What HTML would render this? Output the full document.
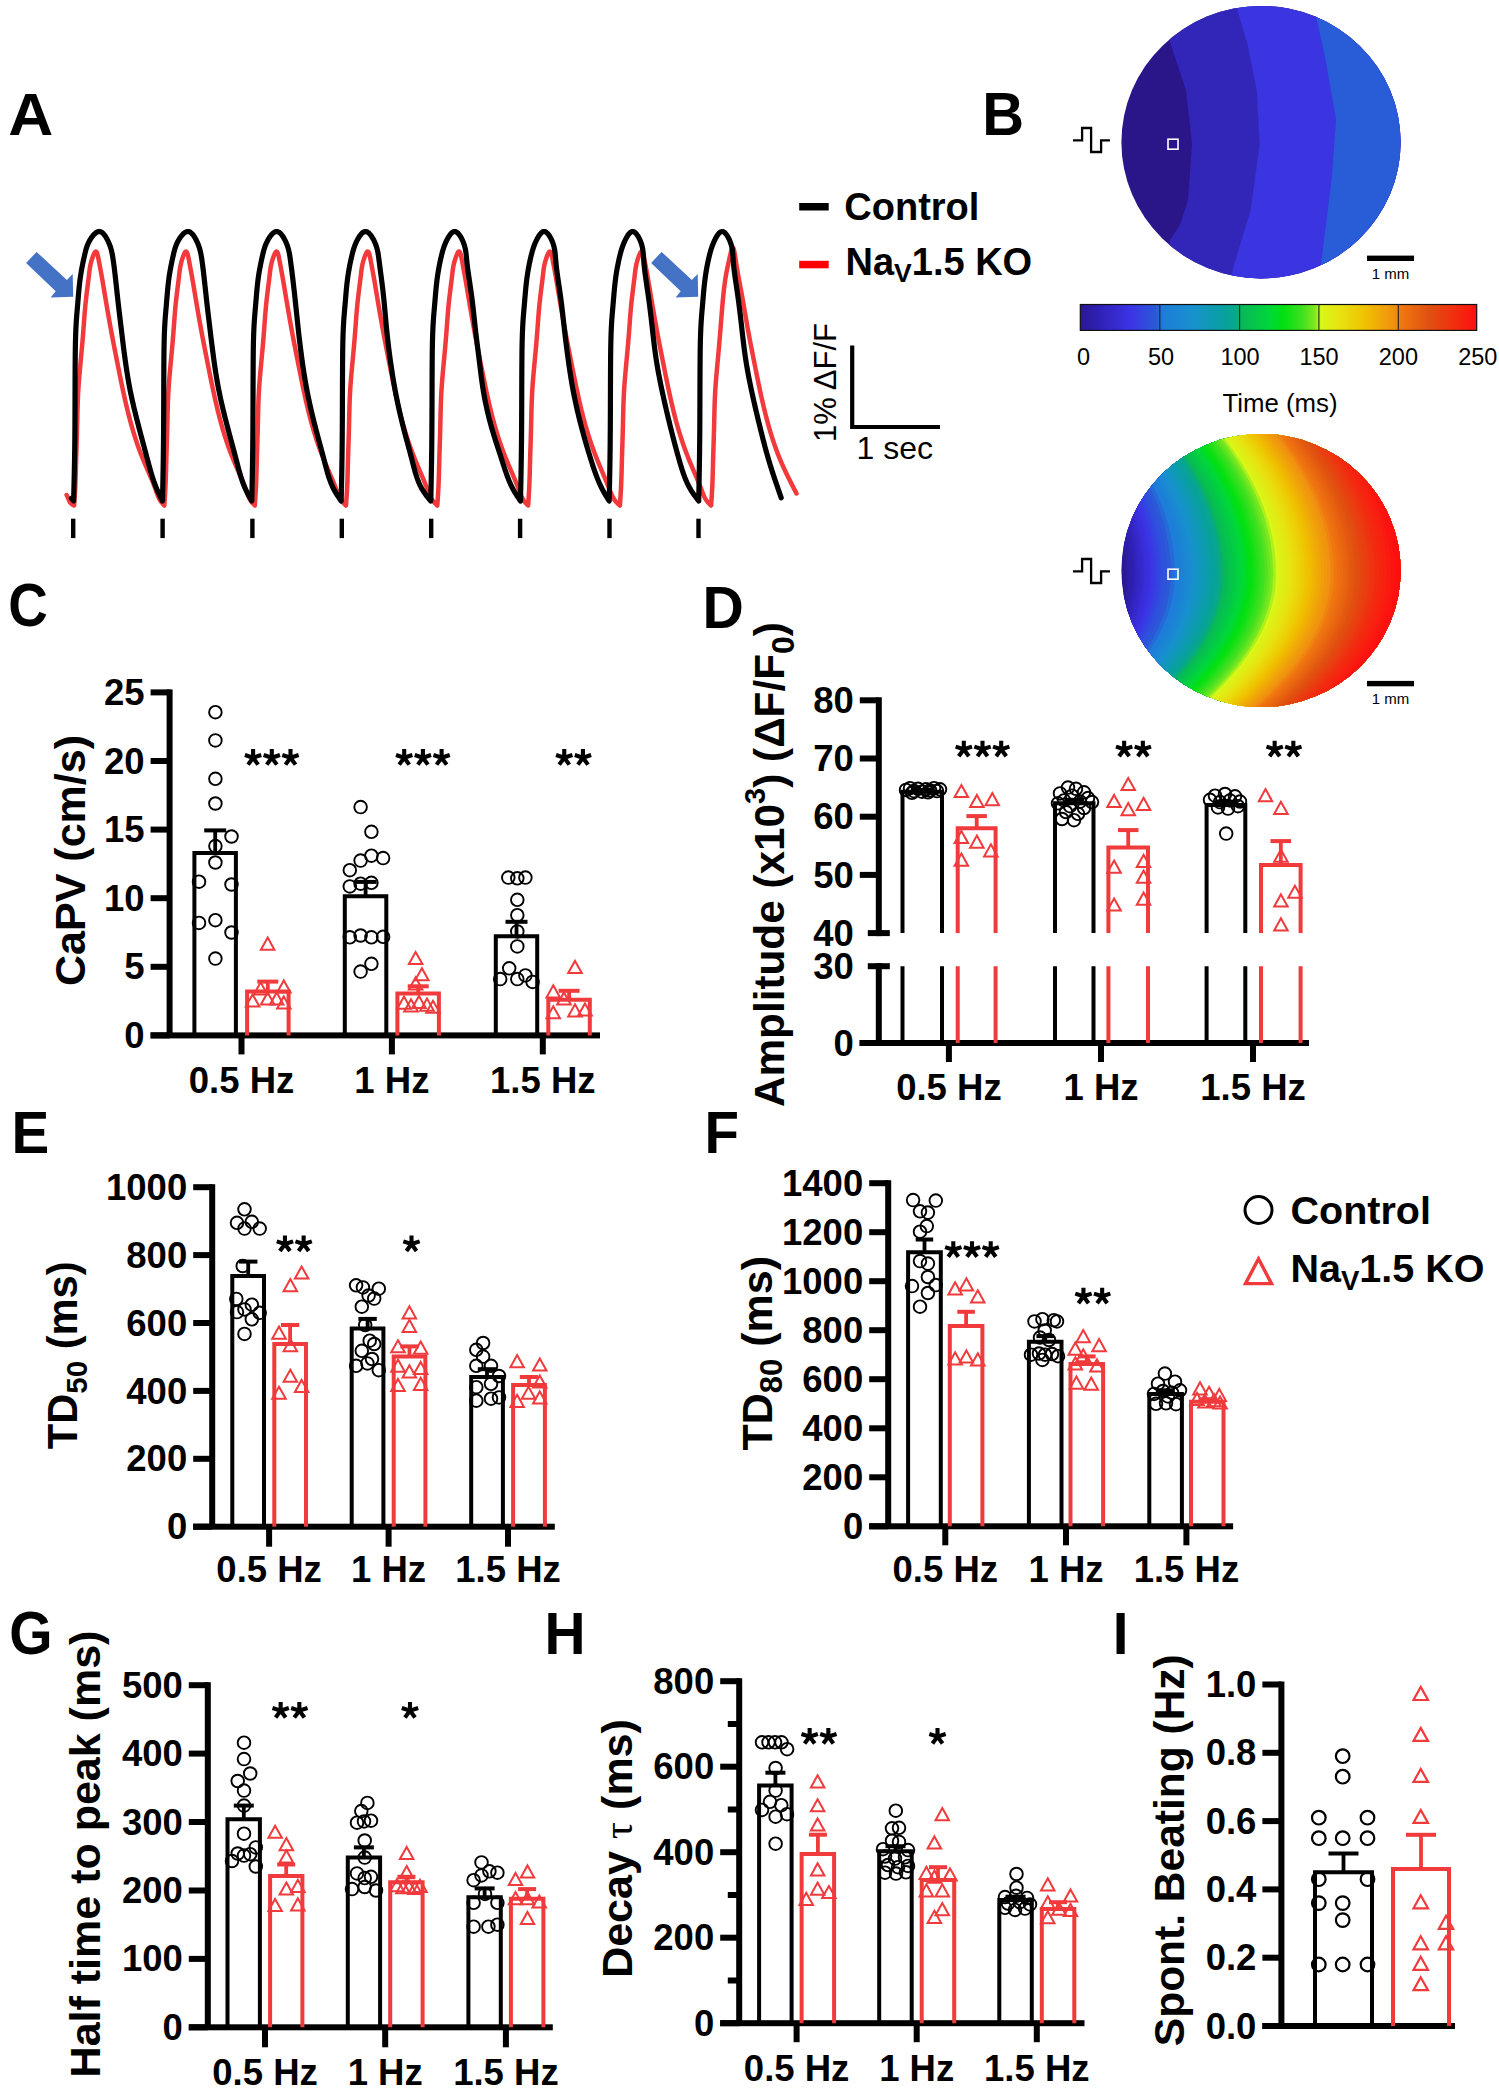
<!DOCTYPE html><html><head><meta charset="utf-8"><style>html,body{margin:0;padding:0;background:#fff;width:1499px;height:2088px;overflow:hidden}</style></head><body><svg xmlns="http://www.w3.org/2000/svg" width="1499" height="2088" viewBox="0 0 1499 2088" style="position:absolute;left:0;top:0">
<rect width="1499" height="2088" fill="#fff"/>
<g font-family='"Liberation Sans", sans-serif'>
<text x="0" y="0" font-size="59.6" font-weight="bold" transform="translate(8.31,134.70) scale(1.046,1)">A</text>
<text x="0" y="0" font-size="59.6" font-weight="bold" transform="translate(982.31,135.00) scale(0.972,1.01)">B</text>
<text x="0" y="0" font-size="59.6" font-weight="bold" transform="translate(8.16,626.30) scale(0.918,1.01)">C</text>
<text x="0" y="0" font-size="59.6" font-weight="bold" transform="translate(702.56,627.60) scale(0.96,1)">D</text>
<text x="0" y="0" font-size="59.6" font-weight="bold" transform="translate(11.60,1152.80) scale(0.95,1)">E</text>
<text x="0" y="0" font-size="59.6" font-weight="bold" transform="translate(704.41,1153.40) scale(0.947,1)">F</text>
<text x="0" y="0" font-size="59.6" font-weight="bold" transform="translate(9.13,1654.20) scale(0.934,1.03)">G</text>
<text x="0" y="0" font-size="59.6" font-weight="bold" transform="translate(544.38,1654.20) scale(0.954,1)">H</text>
<text x="0" y="0" font-size="59.6" font-weight="bold" transform="translate(1112.70,1654.00) scale(0.95,0.98)">I</text>
<rect x="166.6" y="689.4" width="6" height="346.0" fill="#000"/>
<rect x="150.6" y="1032.4" width="19" height="6" fill="#000"/>
<text x="144.6" y="1048.0" font-size="36.5" text-anchor="end" font-weight="bold" fill="#000" >0</text>
<rect x="150.6" y="963.8" width="19" height="6" fill="#000"/>
<text x="144.6" y="979.4" font-size="36.5" text-anchor="end" font-weight="bold" fill="#000" >5</text>
<rect x="150.6" y="895.2" width="19" height="6" fill="#000"/>
<text x="144.6" y="910.8" font-size="36.5" text-anchor="end" font-weight="bold" fill="#000" >10</text>
<rect x="150.6" y="826.6" width="19" height="6" fill="#000"/>
<text x="144.6" y="842.2" font-size="36.5" text-anchor="end" font-weight="bold" fill="#000" >15</text>
<rect x="150.6" y="758.0" width="19" height="6" fill="#000"/>
<text x="144.6" y="773.6" font-size="36.5" text-anchor="end" font-weight="bold" fill="#000" >20</text>
<rect x="150.6" y="689.4" width="19" height="6" fill="#000"/>
<text x="144.6" y="705.0" font-size="36.5" text-anchor="end" font-weight="bold" fill="#000" >25</text>
<rect x="150.6" y="1032.4" width="449.4" height="6" fill="#000"/>
<rect x="238.5" y="1035.4" width="6" height="19" fill="#000"/>
<text x="241.5" y="1092.5" font-size="36.5" text-anchor="middle" font-weight="bold" fill="#000" >0.5 Hz</text>
<rect x="388.9" y="1035.4" width="6" height="19" fill="#000"/>
<text x="391.9" y="1092.5" font-size="36.5" text-anchor="middle" font-weight="bold" fill="#000" >1 Hz</text>
<rect x="539.8" y="1035.4" width="6" height="19" fill="#000"/>
<text x="542.8" y="1092.5" font-size="36.5" text-anchor="middle" font-weight="bold" fill="#000" >1.5 Hz</text>
<path d="M194.4,1035.4 V852.9 H235.9 V1035.4" fill="none" stroke="#000" stroke-width="4.0" stroke-linejoin="miter"/>
<path d="M247.1,1035.4 V991.5 H288.6 V1035.4" fill="none" stroke="#f03a3c" stroke-width="4.0" stroke-linejoin="miter"/>
<path d="M344.8,1035.4 V896.3 H386.3 V1035.4" fill="none" stroke="#000" stroke-width="4.0" stroke-linejoin="miter"/>
<path d="M397.4,1035.4 V993.6 H438.9 V1035.4" fill="none" stroke="#f03a3c" stroke-width="4.0" stroke-linejoin="miter"/>
<path d="M495.8,1035.4 V936.3 H537.2 V1035.4" fill="none" stroke="#000" stroke-width="4.0" stroke-linejoin="miter"/>
<path d="M548.3,1035.4 V999.7 H589.8 V1035.4" fill="none" stroke="#f03a3c" stroke-width="4.0" stroke-linejoin="miter"/>
<circle cx="215.4" cy="712.2" r="6.3" fill="none" stroke="#000" stroke-width="1.9"/>
<circle cx="215.4" cy="740.4" r="6.3" fill="none" stroke="#000" stroke-width="1.9"/>
<circle cx="215.4" cy="778.8" r="6.3" fill="none" stroke="#000" stroke-width="1.9"/>
<circle cx="215.4" cy="803.5" r="6.3" fill="none" stroke="#000" stroke-width="1.9"/>
<circle cx="231.5" cy="836.5" r="6.3" fill="none" stroke="#000" stroke-width="1.9"/>
<circle cx="215.4" cy="846.1" r="6.3" fill="none" stroke="#000" stroke-width="1.9"/>
<circle cx="215.4" cy="862.5" r="6.3" fill="none" stroke="#000" stroke-width="1.9"/>
<circle cx="199.0" cy="881.7" r="6.3" fill="none" stroke="#000" stroke-width="1.9"/>
<circle cx="231.5" cy="884.5" r="6.3" fill="none" stroke="#000" stroke-width="1.9"/>
<circle cx="199.0" cy="922.9" r="6.3" fill="none" stroke="#000" stroke-width="1.9"/>
<circle cx="215.4" cy="920.2" r="6.3" fill="none" stroke="#000" stroke-width="1.9"/>
<circle cx="231.5" cy="932.5" r="6.3" fill="none" stroke="#000" stroke-width="1.9"/>
<circle cx="215.4" cy="958.6" r="6.3" fill="none" stroke="#000" stroke-width="1.9"/>
<polygon points="267.7,937.6 274.4,949.7 260.9,949.7" fill="none" stroke="#f03a3c" stroke-width="2.0" stroke-linejoin="miter"/>
<polygon points="260.6,982.3 267.4,994.4 253.9,994.4" fill="none" stroke="#f03a3c" stroke-width="2.0" stroke-linejoin="miter"/>
<polygon points="283.8,980.4 290.6,992.5 277.1,992.5" fill="none" stroke="#f03a3c" stroke-width="2.0" stroke-linejoin="miter"/>
<polygon points="252.6,994.4 259.4,1006.5 245.8,1006.5" fill="none" stroke="#f03a3c" stroke-width="2.0" stroke-linejoin="miter"/>
<polygon points="267.7,992.4 274.4,1004.6 260.9,1004.6" fill="none" stroke="#f03a3c" stroke-width="2.0" stroke-linejoin="miter"/>
<polygon points="276.7,992.4 283.4,1004.6 269.9,1004.6" fill="none" stroke="#f03a3c" stroke-width="2.0" stroke-linejoin="miter"/>
<polygon points="283.8,996.4 290.6,1008.6 277.1,1008.6" fill="none" stroke="#f03a3c" stroke-width="2.0" stroke-linejoin="miter"/>
<circle cx="360.6" cy="807.1" r="6.3" fill="none" stroke="#000" stroke-width="1.9"/>
<circle cx="371.4" cy="831.8" r="6.3" fill="none" stroke="#000" stroke-width="1.9"/>
<circle cx="349.8" cy="870.2" r="6.3" fill="none" stroke="#000" stroke-width="1.9"/>
<circle cx="360.6" cy="860.6" r="6.3" fill="none" stroke="#000" stroke-width="1.9"/>
<circle cx="371.4" cy="855.7" r="6.3" fill="none" stroke="#000" stroke-width="1.9"/>
<circle cx="383.1" cy="858.1" r="6.3" fill="none" stroke="#000" stroke-width="1.9"/>
<circle cx="349.8" cy="886.4" r="6.3" fill="none" stroke="#000" stroke-width="1.9"/>
<circle cx="360.6" cy="883.7" r="6.3" fill="none" stroke="#000" stroke-width="1.9"/>
<circle cx="371.4" cy="882.8" r="6.3" fill="none" stroke="#000" stroke-width="1.9"/>
<circle cx="349.8" cy="937.3" r="6.3" fill="none" stroke="#000" stroke-width="1.9"/>
<circle cx="360.6" cy="935.5" r="6.3" fill="none" stroke="#000" stroke-width="1.9"/>
<circle cx="371.4" cy="937.3" r="6.3" fill="none" stroke="#000" stroke-width="1.9"/>
<circle cx="383.1" cy="936.8" r="6.3" fill="none" stroke="#000" stroke-width="1.9"/>
<circle cx="371.4" cy="963.8" r="6.3" fill="none" stroke="#000" stroke-width="1.9"/>
<circle cx="360.6" cy="971.6" r="6.3" fill="none" stroke="#000" stroke-width="1.9"/>
<polygon points="415.6,952.0 422.4,964.1 408.9,964.1" fill="none" stroke="#f03a3c" stroke-width="2.0" stroke-linejoin="miter"/>
<polygon points="421.9,968.2 428.6,980.3 415.1,980.3" fill="none" stroke="#f03a3c" stroke-width="2.0" stroke-linejoin="miter"/>
<polygon points="415.6,977.3 422.4,989.5 408.9,989.5" fill="none" stroke="#f03a3c" stroke-width="2.0" stroke-linejoin="miter"/>
<polygon points="404.0,996.6 410.8,1008.7 397.2,1008.7" fill="none" stroke="#f03a3c" stroke-width="2.0" stroke-linejoin="miter"/>
<polygon points="411.0,999.3 417.8,1011.4 404.2,1011.4" fill="none" stroke="#f03a3c" stroke-width="2.0" stroke-linejoin="miter"/>
<polygon points="419.0,995.9 425.8,1008.0 412.2,1008.0" fill="none" stroke="#f03a3c" stroke-width="2.0" stroke-linejoin="miter"/>
<polygon points="427.0,998.6 433.8,1010.8 420.2,1010.8" fill="none" stroke="#f03a3c" stroke-width="2.0" stroke-linejoin="miter"/>
<polygon points="433.0,1000.7 439.8,1012.8 426.2,1012.8" fill="none" stroke="#f03a3c" stroke-width="2.0" stroke-linejoin="miter"/>
<circle cx="508.3" cy="877.6" r="6.3" fill="none" stroke="#000" stroke-width="1.9"/>
<circle cx="517.3" cy="878.3" r="6.3" fill="none" stroke="#000" stroke-width="1.9"/>
<circle cx="525.4" cy="877.6" r="6.3" fill="none" stroke="#000" stroke-width="1.9"/>
<circle cx="517.3" cy="899.8" r="6.3" fill="none" stroke="#000" stroke-width="1.9"/>
<circle cx="517.3" cy="915.2" r="6.3" fill="none" stroke="#000" stroke-width="1.9"/>
<circle cx="517.3" cy="931.4" r="6.3" fill="none" stroke="#000" stroke-width="1.9"/>
<circle cx="517.3" cy="946.4" r="6.3" fill="none" stroke="#000" stroke-width="1.9"/>
<circle cx="509.2" cy="968.3" r="6.3" fill="none" stroke="#000" stroke-width="1.9"/>
<circle cx="500.2" cy="979.1" r="6.3" fill="none" stroke="#000" stroke-width="1.9"/>
<circle cx="517.3" cy="979.1" r="6.3" fill="none" stroke="#000" stroke-width="1.9"/>
<circle cx="525.4" cy="975.4" r="6.3" fill="none" stroke="#000" stroke-width="1.9"/>
<circle cx="532.6" cy="981.9" r="6.3" fill="none" stroke="#000" stroke-width="1.9"/>
<polygon points="575.0,960.9 581.8,973.0 568.2,973.0" fill="none" stroke="#f03a3c" stroke-width="2.0" stroke-linejoin="miter"/>
<polygon points="553.3,985.3 560.0,997.5 546.5,997.5" fill="none" stroke="#f03a3c" stroke-width="2.0" stroke-linejoin="miter"/>
<polygon points="564.0,992.4 570.8,1004.6 557.2,1004.6" fill="none" stroke="#f03a3c" stroke-width="2.0" stroke-linejoin="miter"/>
<polygon points="575.0,1004.2 581.8,1016.4 568.2,1016.4" fill="none" stroke="#f03a3c" stroke-width="2.0" stroke-linejoin="miter"/>
<polygon points="553.3,1006.2 560.0,1018.3 546.5,1018.3" fill="none" stroke="#f03a3c" stroke-width="2.0" stroke-linejoin="miter"/>
<polygon points="585.0,1003.4 591.8,1015.6 578.2,1015.6" fill="none" stroke="#f03a3c" stroke-width="2.0" stroke-linejoin="miter"/>
<line x1="215.2" y1="852.9" x2="215.2" y2="830.4" stroke="#000" stroke-width="3.8" stroke-linecap="butt"/>
<line x1="204.2" y1="830.4" x2="226.2" y2="830.4" stroke="#000" stroke-width="4.0" stroke-linecap="butt"/>
<line x1="267.8" y1="991.5" x2="267.8" y2="981.6" stroke="#f03a3c" stroke-width="3.8" stroke-linecap="butt"/>
<line x1="257.3" y1="981.6" x2="278.3" y2="981.6" stroke="#f03a3c" stroke-width="4.0" stroke-linecap="butt"/>
<line x1="365.6" y1="896.3" x2="365.6" y2="881.9" stroke="#000" stroke-width="3.8" stroke-linecap="butt"/>
<line x1="354.6" y1="881.9" x2="376.6" y2="881.9" stroke="#000" stroke-width="4.0" stroke-linecap="butt"/>
<line x1="418.2" y1="993.6" x2="418.2" y2="986.3" stroke="#f03a3c" stroke-width="3.8" stroke-linecap="butt"/>
<line x1="407.7" y1="986.3" x2="428.7" y2="986.3" stroke="#f03a3c" stroke-width="4.0" stroke-linecap="butt"/>
<line x1="516.5" y1="936.3" x2="516.5" y2="921.8" stroke="#000" stroke-width="3.8" stroke-linecap="butt"/>
<line x1="505.5" y1="921.8" x2="527.5" y2="921.8" stroke="#000" stroke-width="4.0" stroke-linecap="butt"/>
<line x1="569.1" y1="999.7" x2="569.1" y2="990.8" stroke="#f03a3c" stroke-width="3.8" stroke-linecap="butt"/>
<line x1="558.6" y1="990.8" x2="579.6" y2="990.8" stroke="#f03a3c" stroke-width="4.0" stroke-linecap="butt"/>
<path d="M253.10,757.70 L253.10,749.10 M253.10,757.70 L261.28,755.04 M253.10,757.70 L258.15,764.66 M253.10,757.70 L248.05,764.66 M253.10,757.70 L244.92,755.04 " stroke="#000" stroke-width="4.1" stroke-linecap="butt" fill="none"/>
<path d="M271.80,757.70 L271.80,749.10 M271.80,757.70 L279.98,755.04 M271.80,757.70 L276.85,764.66 M271.80,757.70 L266.75,764.66 M271.80,757.70 L263.62,755.04 " stroke="#000" stroke-width="4.1" stroke-linecap="butt" fill="none"/>
<path d="M290.50,757.70 L290.50,749.10 M290.50,757.70 L298.68,755.04 M290.50,757.70 L295.55,764.66 M290.50,757.70 L285.45,764.66 M290.50,757.70 L282.32,755.04 " stroke="#000" stroke-width="4.1" stroke-linecap="butt" fill="none"/>
<path d="M404.20,757.70 L404.20,749.10 M404.20,757.70 L412.38,755.04 M404.20,757.70 L409.25,764.66 M404.20,757.70 L399.15,764.66 M404.20,757.70 L396.02,755.04 " stroke="#000" stroke-width="4.1" stroke-linecap="butt" fill="none"/>
<path d="M422.90,757.70 L422.90,749.10 M422.90,757.70 L431.08,755.04 M422.90,757.70 L427.95,764.66 M422.90,757.70 L417.85,764.66 M422.90,757.70 L414.72,755.04 " stroke="#000" stroke-width="4.1" stroke-linecap="butt" fill="none"/>
<path d="M441.60,757.70 L441.60,749.10 M441.60,757.70 L449.78,755.04 M441.60,757.70 L446.65,764.66 M441.60,757.70 L436.55,764.66 M441.60,757.70 L433.42,755.04 " stroke="#000" stroke-width="4.1" stroke-linecap="butt" fill="none"/>
<path d="M564.25,757.70 L564.25,749.10 M564.25,757.70 L572.43,755.04 M564.25,757.70 L569.30,764.66 M564.25,757.70 L559.20,764.66 M564.25,757.70 L556.07,755.04 " stroke="#000" stroke-width="4.1" stroke-linecap="butt" fill="none"/>
<path d="M582.95,757.70 L582.95,749.10 M582.95,757.70 L591.13,755.04 M582.95,757.70 L588.00,764.66 M582.95,757.70 L577.90,764.66 M582.95,757.70 L574.77,755.04 " stroke="#000" stroke-width="4.1" stroke-linecap="butt" fill="none"/>
<text x="0" y="0" font-size="43" font-weight="bold" text-anchor="middle" transform="translate(85.0,860.5) rotate(-90)">CaPV (cm/s)</text>
<rect x="209.2" y="1184.2" width="6" height="342.5" fill="#000"/>
<rect x="193.2" y="1523.7" width="19" height="6" fill="#000"/>
<text x="187.2" y="1539.3" font-size="36.5" text-anchor="end" font-weight="bold" fill="#000" >0</text>
<rect x="193.2" y="1455.8" width="19" height="6" fill="#000"/>
<text x="187.2" y="1471.4" font-size="36.5" text-anchor="end" font-weight="bold" fill="#000" >200</text>
<rect x="193.2" y="1387.9" width="19" height="6" fill="#000"/>
<text x="187.2" y="1403.5" font-size="36.5" text-anchor="end" font-weight="bold" fill="#000" >400</text>
<rect x="193.2" y="1320.0" width="19" height="6" fill="#000"/>
<text x="187.2" y="1335.6" font-size="36.5" text-anchor="end" font-weight="bold" fill="#000" >600</text>
<rect x="193.2" y="1252.1" width="19" height="6" fill="#000"/>
<text x="187.2" y="1267.7" font-size="36.5" text-anchor="end" font-weight="bold" fill="#000" >800</text>
<rect x="193.2" y="1184.2" width="19" height="6" fill="#000"/>
<text x="187.2" y="1199.8" font-size="36.5" text-anchor="end" font-weight="bold" fill="#000" >1000</text>
<rect x="193.2" y="1523.7" width="361.6" height="6" fill="#000"/>
<rect x="266.1" y="1526.7" width="6" height="20" fill="#000"/>
<text x="269.1" y="1582.0" font-size="36.5" text-anchor="middle" font-weight="bold" fill="#000" >0.5 Hz</text>
<rect x="385.6" y="1526.7" width="6" height="20" fill="#000"/>
<text x="388.6" y="1582.0" font-size="36.5" text-anchor="middle" font-weight="bold" fill="#000" >1 Hz</text>
<rect x="505.0" y="1526.7" width="6" height="20" fill="#000"/>
<text x="508.0" y="1582.0" font-size="36.5" text-anchor="middle" font-weight="bold" fill="#000" >1.5 Hz</text>
<path d="M232.3,1526.7 V1276.1 H264.0 V1526.7" fill="none" stroke="#000" stroke-width="4.0" stroke-linejoin="miter"/>
<path d="M274.3,1526.7 V1344.0 H306.0 V1526.7" fill="none" stroke="#f03a3c" stroke-width="4.0" stroke-linejoin="miter"/>
<path d="M351.7,1526.7 V1328.4 H383.4 V1526.7" fill="none" stroke="#000" stroke-width="4.0" stroke-linejoin="miter"/>
<path d="M393.7,1526.7 V1356.6 H425.4 V1526.7" fill="none" stroke="#f03a3c" stroke-width="4.0" stroke-linejoin="miter"/>
<path d="M471.2,1526.7 V1377.0 H502.9 V1526.7" fill="none" stroke="#000" stroke-width="4.0" stroke-linejoin="miter"/>
<path d="M513.1,1526.7 V1385.1 H544.9 V1526.7" fill="none" stroke="#f03a3c" stroke-width="4.0" stroke-linejoin="miter"/>
<circle cx="244.5" cy="1209.3" r="6.3" fill="none" stroke="#000" stroke-width="1.9"/>
<circle cx="237.0" cy="1222.8" r="6.3" fill="none" stroke="#000" stroke-width="1.9"/>
<circle cx="251.8" cy="1221.8" r="6.3" fill="none" stroke="#000" stroke-width="1.9"/>
<circle cx="244.5" cy="1228.6" r="6.3" fill="none" stroke="#000" stroke-width="1.9"/>
<circle cx="259.7" cy="1228.6" r="6.3" fill="none" stroke="#000" stroke-width="1.9"/>
<circle cx="242.7" cy="1266.0" r="6.3" fill="none" stroke="#000" stroke-width="1.9"/>
<circle cx="236.3" cy="1298.9" r="6.3" fill="none" stroke="#000" stroke-width="1.9"/>
<circle cx="251.8" cy="1304.7" r="6.3" fill="none" stroke="#000" stroke-width="1.9"/>
<circle cx="244.5" cy="1309.4" r="6.3" fill="none" stroke="#000" stroke-width="1.9"/>
<circle cx="237.0" cy="1312.1" r="6.3" fill="none" stroke="#000" stroke-width="1.9"/>
<circle cx="259.7" cy="1312.8" r="6.3" fill="none" stroke="#000" stroke-width="1.9"/>
<circle cx="251.8" cy="1319.3" r="6.3" fill="none" stroke="#000" stroke-width="1.9"/>
<circle cx="244.5" cy="1333.9" r="6.3" fill="none" stroke="#000" stroke-width="1.9"/>
<polygon points="301.6,1266.5 308.4,1278.6 294.9,1278.6" fill="none" stroke="#f03a3c" stroke-width="2.0" stroke-linejoin="miter"/>
<polygon points="290.3,1279.0 297.1,1291.2 283.6,1291.2" fill="none" stroke="#f03a3c" stroke-width="2.0" stroke-linejoin="miter"/>
<polygon points="279.0,1326.6 285.8,1338.7 272.2,1338.7" fill="none" stroke="#f03a3c" stroke-width="2.0" stroke-linejoin="miter"/>
<polygon points="290.3,1339.1 297.1,1351.3 283.6,1351.3" fill="none" stroke="#f03a3c" stroke-width="2.0" stroke-linejoin="miter"/>
<polygon points="290.3,1369.7 297.1,1381.8 283.6,1381.8" fill="none" stroke="#f03a3c" stroke-width="2.0" stroke-linejoin="miter"/>
<polygon points="279.0,1386.7 285.8,1398.8 272.2,1398.8" fill="none" stroke="#f03a3c" stroke-width="2.0" stroke-linejoin="miter"/>
<polygon points="301.6,1379.9 308.4,1392.0 294.9,1392.0" fill="none" stroke="#f03a3c" stroke-width="2.0" stroke-linejoin="miter"/>
<circle cx="356.1" cy="1285.3" r="6.3" fill="none" stroke="#000" stroke-width="1.9"/>
<circle cx="362.9" cy="1287.4" r="6.3" fill="none" stroke="#000" stroke-width="1.9"/>
<circle cx="378.8" cy="1288.7" r="6.3" fill="none" stroke="#000" stroke-width="1.9"/>
<circle cx="368.6" cy="1295.5" r="6.3" fill="none" stroke="#000" stroke-width="1.9"/>
<circle cx="374.2" cy="1298.6" r="6.3" fill="none" stroke="#000" stroke-width="1.9"/>
<circle cx="361.8" cy="1306.7" r="6.3" fill="none" stroke="#000" stroke-width="1.9"/>
<circle cx="365.2" cy="1325.0" r="6.3" fill="none" stroke="#000" stroke-width="1.9"/>
<circle cx="369.7" cy="1340.7" r="6.3" fill="none" stroke="#000" stroke-width="1.9"/>
<circle cx="374.2" cy="1344.0" r="6.3" fill="none" stroke="#000" stroke-width="1.9"/>
<circle cx="361.8" cy="1350.8" r="6.3" fill="none" stroke="#000" stroke-width="1.9"/>
<circle cx="372.0" cy="1359.0" r="6.3" fill="none" stroke="#000" stroke-width="1.9"/>
<circle cx="356.1" cy="1365.8" r="6.3" fill="none" stroke="#000" stroke-width="1.9"/>
<circle cx="367.4" cy="1363.4" r="6.3" fill="none" stroke="#000" stroke-width="1.9"/>
<circle cx="378.8" cy="1370.2" r="6.3" fill="none" stroke="#000" stroke-width="1.9"/>
<polygon points="409.4,1306.2 416.1,1318.4 402.6,1318.4" fill="none" stroke="#f03a3c" stroke-width="2.0" stroke-linejoin="miter"/>
<polygon points="409.4,1319.8 416.1,1331.9 402.6,1331.9" fill="none" stroke="#f03a3c" stroke-width="2.0" stroke-linejoin="miter"/>
<polygon points="398.0,1340.2 404.8,1352.3 391.2,1352.3" fill="none" stroke="#f03a3c" stroke-width="2.0" stroke-linejoin="miter"/>
<polygon points="420.7,1341.5 427.4,1353.7 413.9,1353.7" fill="none" stroke="#f03a3c" stroke-width="2.0" stroke-linejoin="miter"/>
<polygon points="398.0,1359.5 404.8,1371.7 391.2,1371.7" fill="none" stroke="#f03a3c" stroke-width="2.0" stroke-linejoin="miter"/>
<polygon points="409.4,1365.3 416.1,1377.4 402.6,1377.4" fill="none" stroke="#f03a3c" stroke-width="2.0" stroke-linejoin="miter"/>
<polygon points="420.7,1361.9 427.4,1374.0 413.9,1374.0" fill="none" stroke="#f03a3c" stroke-width="2.0" stroke-linejoin="miter"/>
<polygon points="398.0,1378.9 404.8,1391.0 391.2,1391.0" fill="none" stroke="#f03a3c" stroke-width="2.0" stroke-linejoin="miter"/>
<polygon points="420.7,1377.8 427.4,1390.0 413.9,1390.0" fill="none" stroke="#f03a3c" stroke-width="2.0" stroke-linejoin="miter"/>
<circle cx="483.1" cy="1343.0" r="6.3" fill="none" stroke="#000" stroke-width="1.9"/>
<circle cx="476.3" cy="1349.8" r="6.3" fill="none" stroke="#000" stroke-width="1.9"/>
<circle cx="483.1" cy="1356.6" r="6.3" fill="none" stroke="#000" stroke-width="1.9"/>
<circle cx="491.0" cy="1365.8" r="6.3" fill="none" stroke="#000" stroke-width="1.9"/>
<circle cx="476.3" cy="1365.8" r="6.3" fill="none" stroke="#000" stroke-width="1.9"/>
<circle cx="499.0" cy="1376.0" r="6.3" fill="none" stroke="#000" stroke-width="1.9"/>
<circle cx="491.0" cy="1383.8" r="6.3" fill="none" stroke="#000" stroke-width="1.9"/>
<circle cx="476.3" cy="1387.2" r="6.3" fill="none" stroke="#000" stroke-width="1.9"/>
<circle cx="491.0" cy="1398.7" r="6.3" fill="none" stroke="#000" stroke-width="1.9"/>
<circle cx="476.3" cy="1400.7" r="6.3" fill="none" stroke="#000" stroke-width="1.9"/>
<circle cx="499.0" cy="1397.4" r="6.3" fill="none" stroke="#000" stroke-width="1.9"/>
<polygon points="517.1,1355.1 523.9,1367.2 510.4,1367.2" fill="none" stroke="#f03a3c" stroke-width="2.0" stroke-linejoin="miter"/>
<polygon points="539.8,1358.5 546.5,1370.6 533.0,1370.6" fill="none" stroke="#f03a3c" stroke-width="2.0" stroke-linejoin="miter"/>
<polygon points="539.8,1375.5 546.5,1387.6 533.0,1387.6" fill="none" stroke="#f03a3c" stroke-width="2.0" stroke-linejoin="miter"/>
<polygon points="528.5,1386.7 535.2,1398.8 521.8,1398.8" fill="none" stroke="#f03a3c" stroke-width="2.0" stroke-linejoin="miter"/>
<polygon points="517.1,1394.8 523.9,1407.0 510.4,1407.0" fill="none" stroke="#f03a3c" stroke-width="2.0" stroke-linejoin="miter"/>
<polygon points="539.8,1391.4 546.5,1403.6 533.0,1403.6" fill="none" stroke="#f03a3c" stroke-width="2.0" stroke-linejoin="miter"/>
<line x1="248.2" y1="1276.1" x2="248.2" y2="1261.6" stroke="#000" stroke-width="3.8" stroke-linecap="butt"/>
<line x1="239.0" y1="1261.6" x2="257.4" y2="1261.6" stroke="#000" stroke-width="4.0" stroke-linecap="butt"/>
<line x1="290.1" y1="1344.0" x2="290.1" y2="1325.0" stroke="#f03a3c" stroke-width="3.8" stroke-linecap="butt"/>
<line x1="280.9" y1="1325.0" x2="299.3" y2="1325.0" stroke="#f03a3c" stroke-width="4.0" stroke-linecap="butt"/>
<line x1="367.6" y1="1328.4" x2="367.6" y2="1318.9" stroke="#000" stroke-width="3.8" stroke-linecap="butt"/>
<line x1="358.4" y1="1318.9" x2="376.8" y2="1318.9" stroke="#000" stroke-width="4.0" stroke-linecap="butt"/>
<line x1="409.5" y1="1356.6" x2="409.5" y2="1346.4" stroke="#f03a3c" stroke-width="3.8" stroke-linecap="butt"/>
<line x1="400.3" y1="1346.4" x2="418.7" y2="1346.4" stroke="#f03a3c" stroke-width="4.0" stroke-linecap="butt"/>
<line x1="487.0" y1="1377.0" x2="487.0" y2="1369.2" stroke="#000" stroke-width="3.8" stroke-linecap="butt"/>
<line x1="477.8" y1="1369.2" x2="496.2" y2="1369.2" stroke="#000" stroke-width="4.0" stroke-linecap="butt"/>
<line x1="529.0" y1="1385.1" x2="529.0" y2="1377.0" stroke="#f03a3c" stroke-width="3.8" stroke-linecap="butt"/>
<line x1="519.8" y1="1377.0" x2="538.2" y2="1377.0" stroke="#f03a3c" stroke-width="4.0" stroke-linecap="butt"/>
<path d="M284.95,1244.00 L284.95,1235.40 M284.95,1244.00 L293.13,1241.34 M284.95,1244.00 L290.00,1250.96 M284.95,1244.00 L279.90,1250.96 M284.95,1244.00 L276.77,1241.34 " stroke="#000" stroke-width="4.1" stroke-linecap="butt" fill="none"/>
<path d="M303.65,1244.00 L303.65,1235.40 M303.65,1244.00 L311.83,1241.34 M303.65,1244.00 L308.70,1250.96 M303.65,1244.00 L298.60,1250.96 M303.65,1244.00 L295.47,1241.34 " stroke="#000" stroke-width="4.1" stroke-linecap="butt" fill="none"/>
<path d="M411.50,1244.00 L411.50,1235.40 M411.50,1244.00 L419.68,1241.34 M411.50,1244.00 L416.55,1250.96 M411.50,1244.00 L406.45,1250.96 M411.50,1244.00 L403.32,1241.34 " stroke="#000" stroke-width="4.1" stroke-linecap="butt" fill="none"/>
<text x="0" y="0" font-size="41.6" font-weight="bold" text-anchor="middle" transform="translate(76.8,1355.3) rotate(-90)">TD<tspan font-size="29.5" dy="9.7">50</tspan><tspan dy="-9.7"> (ms)</tspan></text>
<rect x="885.2" y="1180.2" width="6" height="346.1" fill="#000"/>
<rect x="869.2" y="1523.3" width="19" height="6" fill="#000"/>
<text x="863.2" y="1538.9" font-size="36.5" text-anchor="end" font-weight="bold" fill="#000" >0</text>
<rect x="869.2" y="1474.3" width="19" height="6" fill="#000"/>
<text x="863.2" y="1489.8" font-size="36.5" text-anchor="end" font-weight="bold" fill="#000" >200</text>
<rect x="869.2" y="1425.3" width="19" height="6" fill="#000"/>
<text x="863.2" y="1440.8" font-size="36.5" text-anchor="end" font-weight="bold" fill="#000" >400</text>
<rect x="869.2" y="1376.2" width="19" height="6" fill="#000"/>
<text x="863.2" y="1391.8" font-size="36.5" text-anchor="end" font-weight="bold" fill="#000" >600</text>
<rect x="869.2" y="1327.2" width="19" height="6" fill="#000"/>
<text x="863.2" y="1342.8" font-size="36.5" text-anchor="end" font-weight="bold" fill="#000" >800</text>
<rect x="869.2" y="1278.2" width="19" height="6" fill="#000"/>
<text x="863.2" y="1293.8" font-size="36.5" text-anchor="end" font-weight="bold" fill="#000" >1000</text>
<rect x="869.2" y="1229.2" width="19" height="6" fill="#000"/>
<text x="863.2" y="1244.7" font-size="36.5" text-anchor="end" font-weight="bold" fill="#000" >1200</text>
<rect x="869.2" y="1180.2" width="19" height="6" fill="#000"/>
<text x="863.2" y="1195.7" font-size="36.5" text-anchor="end" font-weight="bold" fill="#000" >1400</text>
<rect x="869.2" y="1523.3" width="363.9" height="6" fill="#000"/>
<rect x="942.3" y="1526.3" width="6" height="19" fill="#000"/>
<text x="945.3" y="1582.0" font-size="36.5" text-anchor="middle" font-weight="bold" fill="#000" >0.5 Hz</text>
<rect x="1063.0" y="1526.3" width="6" height="19" fill="#000"/>
<text x="1066.0" y="1582.0" font-size="36.5" text-anchor="middle" font-weight="bold" fill="#000" >1 Hz</text>
<rect x="1183.4" y="1526.3" width="6" height="19" fill="#000"/>
<text x="1186.4" y="1582.0" font-size="36.5" text-anchor="middle" font-weight="bold" fill="#000" >1.5 Hz</text>
<path d="M908.1,1526.3 V1252.3 H940.8 V1526.3" fill="none" stroke="#000" stroke-width="4.0" stroke-linejoin="miter"/>
<path d="M949.8,1526.3 V1326.1 H982.4 V1526.3" fill="none" stroke="#f03a3c" stroke-width="4.0" stroke-linejoin="miter"/>
<path d="M1028.9,1526.3 V1341.7 H1061.5 V1526.3" fill="none" stroke="#000" stroke-width="4.0" stroke-linejoin="miter"/>
<path d="M1070.5,1526.3 V1364.0 H1103.1 V1526.3" fill="none" stroke="#f03a3c" stroke-width="4.0" stroke-linejoin="miter"/>
<path d="M1149.3,1526.3 V1393.9 H1181.9 V1526.3" fill="none" stroke="#000" stroke-width="4.0" stroke-linejoin="miter"/>
<path d="M1191.0,1526.3 V1401.8 H1223.5 V1526.3" fill="none" stroke="#f03a3c" stroke-width="4.0" stroke-linejoin="miter"/>
<circle cx="913.1" cy="1200.1" r="6.3" fill="none" stroke="#000" stroke-width="1.9"/>
<circle cx="935.8" cy="1200.6" r="6.3" fill="none" stroke="#000" stroke-width="1.9"/>
<circle cx="920.0" cy="1211.3" r="6.3" fill="none" stroke="#000" stroke-width="1.9"/>
<circle cx="927.9" cy="1212.6" r="6.3" fill="none" stroke="#000" stroke-width="1.9"/>
<circle cx="926.8" cy="1226.1" r="6.3" fill="none" stroke="#000" stroke-width="1.9"/>
<circle cx="920.0" cy="1231.7" r="6.3" fill="none" stroke="#000" stroke-width="1.9"/>
<circle cx="920.0" cy="1261.1" r="6.3" fill="none" stroke="#000" stroke-width="1.9"/>
<circle cx="927.9" cy="1263.6" r="6.3" fill="none" stroke="#000" stroke-width="1.9"/>
<circle cx="927.9" cy="1277.0" r="6.3" fill="none" stroke="#000" stroke-width="1.9"/>
<circle cx="912.0" cy="1286.1" r="6.3" fill="none" stroke="#000" stroke-width="1.9"/>
<circle cx="935.8" cy="1285.1" r="6.3" fill="none" stroke="#000" stroke-width="1.9"/>
<circle cx="927.9" cy="1293.0" r="6.3" fill="none" stroke="#000" stroke-width="1.9"/>
<circle cx="920.0" cy="1306.7" r="6.3" fill="none" stroke="#000" stroke-width="1.9"/>
<polygon points="955.1,1282.2 961.9,1294.4 948.4,1294.4" fill="none" stroke="#f03a3c" stroke-width="2.0" stroke-linejoin="miter"/>
<polygon points="966.4,1278.3 973.1,1290.5 959.6,1290.5" fill="none" stroke="#f03a3c" stroke-width="2.0" stroke-linejoin="miter"/>
<polygon points="977.8,1290.3 984.5,1302.5 971.0,1302.5" fill="none" stroke="#f03a3c" stroke-width="2.0" stroke-linejoin="miter"/>
<polygon points="955.1,1352.3 961.9,1364.5 948.4,1364.5" fill="none" stroke="#f03a3c" stroke-width="2.0" stroke-linejoin="miter"/>
<polygon points="966.4,1350.4 973.1,1362.5 959.6,1362.5" fill="none" stroke="#f03a3c" stroke-width="2.0" stroke-linejoin="miter"/>
<polygon points="977.8,1353.3 984.5,1365.5 971.0,1365.5" fill="none" stroke="#f03a3c" stroke-width="2.0" stroke-linejoin="miter"/>
<circle cx="1034.5" cy="1321.4" r="6.3" fill="none" stroke="#000" stroke-width="1.9"/>
<circle cx="1042.4" cy="1319.2" r="6.3" fill="none" stroke="#000" stroke-width="1.9"/>
<circle cx="1053.8" cy="1320.2" r="6.3" fill="none" stroke="#000" stroke-width="1.9"/>
<circle cx="1057.0" cy="1321.4" r="6.3" fill="none" stroke="#000" stroke-width="1.9"/>
<circle cx="1044.7" cy="1330.5" r="6.3" fill="none" stroke="#000" stroke-width="1.9"/>
<circle cx="1040.0" cy="1337.6" r="6.3" fill="none" stroke="#000" stroke-width="1.9"/>
<circle cx="1049.0" cy="1340.0" r="6.3" fill="none" stroke="#000" stroke-width="1.9"/>
<circle cx="1031.0" cy="1354.7" r="6.3" fill="none" stroke="#000" stroke-width="1.9"/>
<circle cx="1039.0" cy="1353.5" r="6.3" fill="none" stroke="#000" stroke-width="1.9"/>
<circle cx="1045.0" cy="1354.7" r="6.3" fill="none" stroke="#000" stroke-width="1.9"/>
<circle cx="1052.0" cy="1354.0" r="6.3" fill="none" stroke="#000" stroke-width="1.9"/>
<circle cx="1058.0" cy="1356.2" r="6.3" fill="none" stroke="#000" stroke-width="1.9"/>
<circle cx="1042.4" cy="1359.9" r="6.3" fill="none" stroke="#000" stroke-width="1.9"/>
<polygon points="1083.2,1330.0 1090.0,1342.2 1076.5,1342.2" fill="none" stroke="#f03a3c" stroke-width="2.0" stroke-linejoin="miter"/>
<polygon points="1075.3,1342.5 1082.0,1354.7 1068.5,1354.7" fill="none" stroke="#f03a3c" stroke-width="2.0" stroke-linejoin="miter"/>
<polygon points="1099.1,1339.1 1105.8,1351.3 1092.3,1351.3" fill="none" stroke="#f03a3c" stroke-width="2.0" stroke-linejoin="miter"/>
<polygon points="1083.2,1349.2 1090.0,1361.3 1076.5,1361.3" fill="none" stroke="#f03a3c" stroke-width="2.0" stroke-linejoin="miter"/>
<polygon points="1075.3,1357.2 1082.0,1369.4 1068.5,1369.4" fill="none" stroke="#f03a3c" stroke-width="2.0" stroke-linejoin="miter"/>
<polygon points="1097.0,1359.4 1103.8,1371.6 1090.2,1371.6" fill="none" stroke="#f03a3c" stroke-width="2.0" stroke-linejoin="miter"/>
<polygon points="1076.4,1376.6 1083.2,1388.8 1069.7,1388.8" fill="none" stroke="#f03a3c" stroke-width="2.0" stroke-linejoin="miter"/>
<polygon points="1091.2,1377.6 1098.0,1389.7 1084.5,1389.7" fill="none" stroke="#f03a3c" stroke-width="2.0" stroke-linejoin="miter"/>
<circle cx="1164.9" cy="1373.6" r="6.3" fill="none" stroke="#000" stroke-width="1.9"/>
<circle cx="1158.0" cy="1383.7" r="6.3" fill="none" stroke="#000" stroke-width="1.9"/>
<circle cx="1175.0" cy="1381.7" r="6.3" fill="none" stroke="#000" stroke-width="1.9"/>
<circle cx="1154.0" cy="1393.9" r="6.3" fill="none" stroke="#000" stroke-width="1.9"/>
<circle cx="1163.0" cy="1391.0" r="6.3" fill="none" stroke="#000" stroke-width="1.9"/>
<circle cx="1172.0" cy="1392.7" r="6.3" fill="none" stroke="#000" stroke-width="1.9"/>
<circle cx="1180.0" cy="1390.3" r="6.3" fill="none" stroke="#000" stroke-width="1.9"/>
<circle cx="1168.0" cy="1396.4" r="6.3" fill="none" stroke="#000" stroke-width="1.9"/>
<circle cx="1156.0" cy="1403.8" r="6.3" fill="none" stroke="#000" stroke-width="1.9"/>
<circle cx="1166.0" cy="1403.3" r="6.3" fill="none" stroke="#000" stroke-width="1.9"/>
<circle cx="1176.0" cy="1404.2" r="6.3" fill="none" stroke="#000" stroke-width="1.9"/>
<polygon points="1200.0,1382.2 1206.8,1394.4 1193.2,1394.4" fill="none" stroke="#f03a3c" stroke-width="2.0" stroke-linejoin="miter"/>
<polygon points="1209.1,1386.7 1215.8,1398.8 1202.3,1398.8" fill="none" stroke="#f03a3c" stroke-width="2.0" stroke-linejoin="miter"/>
<polygon points="1219.3,1388.9 1226.0,1401.0 1212.5,1401.0" fill="none" stroke="#f03a3c" stroke-width="2.0" stroke-linejoin="miter"/>
<polygon points="1197.0,1392.8 1203.8,1404.9 1190.2,1404.9" fill="none" stroke="#f03a3c" stroke-width="2.0" stroke-linejoin="miter"/>
<polygon points="1205.0,1395.2 1211.8,1407.4 1198.2,1407.4" fill="none" stroke="#f03a3c" stroke-width="2.0" stroke-linejoin="miter"/>
<polygon points="1214.0,1394.0 1220.8,1406.2 1207.2,1406.2" fill="none" stroke="#f03a3c" stroke-width="2.0" stroke-linejoin="miter"/>
<polygon points="1220.0,1396.5 1226.8,1408.6 1213.2,1408.6" fill="none" stroke="#f03a3c" stroke-width="2.0" stroke-linejoin="miter"/>
<line x1="924.5" y1="1252.3" x2="924.5" y2="1239.5" stroke="#000" stroke-width="3.8" stroke-linecap="butt"/>
<line x1="915.7" y1="1239.5" x2="933.2" y2="1239.5" stroke="#000" stroke-width="4.0" stroke-linecap="butt"/>
<line x1="966.1" y1="1326.1" x2="966.1" y2="1311.8" stroke="#f03a3c" stroke-width="3.8" stroke-linecap="butt"/>
<line x1="957.3" y1="1311.8" x2="974.9" y2="1311.8" stroke="#f03a3c" stroke-width="4.0" stroke-linecap="butt"/>
<line x1="1045.2" y1="1341.7" x2="1045.2" y2="1336.1" stroke="#000" stroke-width="3.8" stroke-linecap="butt"/>
<line x1="1036.4" y1="1336.1" x2="1054.0" y2="1336.1" stroke="#000" stroke-width="4.0" stroke-linecap="butt"/>
<line x1="1086.8" y1="1364.0" x2="1086.8" y2="1356.4" stroke="#f03a3c" stroke-width="3.8" stroke-linecap="butt"/>
<line x1="1078.0" y1="1356.4" x2="1095.6" y2="1356.4" stroke="#f03a3c" stroke-width="4.0" stroke-linecap="butt"/>
<line x1="1165.6" y1="1393.9" x2="1165.6" y2="1390.3" stroke="#000" stroke-width="3.8" stroke-linecap="butt"/>
<line x1="1156.8" y1="1390.3" x2="1174.4" y2="1390.3" stroke="#000" stroke-width="4.0" stroke-linecap="butt"/>
<line x1="1207.2" y1="1401.8" x2="1207.2" y2="1399.3" stroke="#f03a3c" stroke-width="3.8" stroke-linecap="butt"/>
<line x1="1198.5" y1="1399.3" x2="1216.0" y2="1399.3" stroke="#f03a3c" stroke-width="4.0" stroke-linecap="butt"/>
<path d="M953.30,1249.80 L953.30,1241.20 M953.30,1249.80 L961.48,1247.14 M953.30,1249.80 L958.35,1256.76 M953.30,1249.80 L948.25,1256.76 M953.30,1249.80 L945.12,1247.14 " stroke="#000" stroke-width="4.1" stroke-linecap="butt" fill="none"/>
<path d="M972.00,1249.80 L972.00,1241.20 M972.00,1249.80 L980.18,1247.14 M972.00,1249.80 L977.05,1256.76 M972.00,1249.80 L966.95,1256.76 M972.00,1249.80 L963.82,1247.14 " stroke="#000" stroke-width="4.1" stroke-linecap="butt" fill="none"/>
<path d="M990.70,1249.80 L990.70,1241.20 M990.70,1249.80 L998.88,1247.14 M990.70,1249.80 L995.75,1256.76 M990.70,1249.80 L985.65,1256.76 M990.70,1249.80 L982.52,1247.14 " stroke="#000" stroke-width="4.1" stroke-linecap="butt" fill="none"/>
<path d="M1083.45,1296.30 L1083.45,1287.70 M1083.45,1296.30 L1091.63,1293.64 M1083.45,1296.30 L1088.50,1303.26 M1083.45,1296.30 L1078.40,1303.26 M1083.45,1296.30 L1075.27,1293.64 " stroke="#000" stroke-width="4.1" stroke-linecap="butt" fill="none"/>
<path d="M1102.15,1296.30 L1102.15,1287.70 M1102.15,1296.30 L1110.33,1293.64 M1102.15,1296.30 L1107.20,1303.26 M1102.15,1296.30 L1097.10,1303.26 M1102.15,1296.30 L1093.97,1293.64 " stroke="#000" stroke-width="4.1" stroke-linecap="butt" fill="none"/>
<text x="0" y="0" font-size="43" font-weight="bold" text-anchor="middle" transform="translate(771.7,1353.3) rotate(-90)">TD<tspan font-size="31" dy="10.3">80</tspan><tspan dy="-10.3"> (ms)</tspan></text>
<rect x="204.8" y="1682.2" width="6" height="345.1" fill="#000"/>
<rect x="188.8" y="2024.3" width="19" height="6" fill="#000"/>
<text x="182.8" y="2039.9" font-size="36.5" text-anchor="end" font-weight="bold" fill="#000" >0</text>
<rect x="188.8" y="1955.9" width="19" height="6" fill="#000"/>
<text x="182.8" y="1971.4" font-size="36.5" text-anchor="end" font-weight="bold" fill="#000" >100</text>
<rect x="188.8" y="1887.5" width="19" height="6" fill="#000"/>
<text x="182.8" y="1903.0" font-size="36.5" text-anchor="end" font-weight="bold" fill="#000" >200</text>
<rect x="188.8" y="1819.0" width="19" height="6" fill="#000"/>
<text x="182.8" y="1834.6" font-size="36.5" text-anchor="end" font-weight="bold" fill="#000" >300</text>
<rect x="188.8" y="1750.6" width="19" height="6" fill="#000"/>
<text x="182.8" y="1766.2" font-size="36.5" text-anchor="end" font-weight="bold" fill="#000" >400</text>
<rect x="188.8" y="1682.2" width="19" height="6" fill="#000"/>
<text x="182.8" y="1697.8" font-size="36.5" text-anchor="end" font-weight="bold" fill="#000" >500</text>
<rect x="188.8" y="2024.3" width="364.0" height="6" fill="#000"/>
<rect x="262.0" y="2027.3" width="6" height="20" fill="#000"/>
<text x="265.0" y="2085.0" font-size="36.5" text-anchor="middle" font-weight="bold" fill="#000" >0.5 Hz</text>
<rect x="382.2" y="2027.3" width="6" height="20" fill="#000"/>
<text x="385.2" y="2085.0" font-size="36.5" text-anchor="middle" font-weight="bold" fill="#000" >1 Hz</text>
<rect x="502.9" y="2027.3" width="6" height="20" fill="#000"/>
<text x="505.9" y="2085.0" font-size="36.5" text-anchor="middle" font-weight="bold" fill="#000" >1.5 Hz</text>
<path d="M227.5,2027.3 V1819.3 H259.9 V2027.3" fill="none" stroke="#000" stroke-width="4.0" stroke-linejoin="miter"/>
<path d="M270.1,2027.3 V1876.1 H302.4 V2027.3" fill="none" stroke="#f03a3c" stroke-width="4.0" stroke-linejoin="miter"/>
<path d="M347.8,2027.3 V1857.6 H380.1 V2027.3" fill="none" stroke="#000" stroke-width="4.0" stroke-linejoin="miter"/>
<path d="M390.2,2027.3 V1882.2 H422.6 V2027.3" fill="none" stroke="#f03a3c" stroke-width="4.0" stroke-linejoin="miter"/>
<path d="M468.4,2027.3 V1897.3 H500.8 V2027.3" fill="none" stroke="#000" stroke-width="4.0" stroke-linejoin="miter"/>
<path d="M510.9,2027.3 V1898.7 H543.4 V2027.3" fill="none" stroke="#f03a3c" stroke-width="4.0" stroke-linejoin="miter"/>
<circle cx="244.0" cy="1742.7" r="6.3" fill="none" stroke="#000" stroke-width="1.9"/>
<circle cx="244.0" cy="1759.1" r="6.3" fill="none" stroke="#000" stroke-width="1.9"/>
<circle cx="250.2" cy="1773.5" r="6.3" fill="none" stroke="#000" stroke-width="1.9"/>
<circle cx="237.7" cy="1781.0" r="6.3" fill="none" stroke="#000" stroke-width="1.9"/>
<circle cx="244.0" cy="1790.6" r="6.3" fill="none" stroke="#000" stroke-width="1.9"/>
<circle cx="244.0" cy="1805.6" r="6.3" fill="none" stroke="#000" stroke-width="1.9"/>
<circle cx="244.0" cy="1833.7" r="6.3" fill="none" stroke="#000" stroke-width="1.9"/>
<circle cx="237.7" cy="1853.5" r="6.3" fill="none" stroke="#000" stroke-width="1.9"/>
<circle cx="232.0" cy="1861.0" r="6.3" fill="none" stroke="#000" stroke-width="1.9"/>
<circle cx="244.0" cy="1855.6" r="6.3" fill="none" stroke="#000" stroke-width="1.9"/>
<circle cx="250.2" cy="1854.2" r="6.3" fill="none" stroke="#000" stroke-width="1.9"/>
<circle cx="255.8" cy="1847.4" r="6.3" fill="none" stroke="#000" stroke-width="1.9"/>
<circle cx="255.8" cy="1866.5" r="6.3" fill="none" stroke="#000" stroke-width="1.9"/>
<polygon points="275.1,1825.7 281.9,1837.8 268.4,1837.8" fill="none" stroke="#f03a3c" stroke-width="2.0" stroke-linejoin="miter"/>
<polygon points="286.4,1838.0 293.1,1850.2 279.6,1850.2" fill="none" stroke="#f03a3c" stroke-width="2.0" stroke-linejoin="miter"/>
<polygon points="286.4,1850.3 293.1,1862.5 279.6,1862.5" fill="none" stroke="#f03a3c" stroke-width="2.0" stroke-linejoin="miter"/>
<polygon points="286.4,1882.5 293.1,1894.6 279.6,1894.6" fill="none" stroke="#f03a3c" stroke-width="2.0" stroke-linejoin="miter"/>
<polygon points="297.8,1879.7 304.6,1891.9 291.1,1891.9" fill="none" stroke="#f03a3c" stroke-width="2.0" stroke-linejoin="miter"/>
<polygon points="275.1,1898.9 281.9,1911.1 268.4,1911.1" fill="none" stroke="#f03a3c" stroke-width="2.0" stroke-linejoin="miter"/>
<polygon points="297.8,1898.2 304.6,1910.4 291.1,1910.4" fill="none" stroke="#f03a3c" stroke-width="2.0" stroke-linejoin="miter"/>
<circle cx="367.4" cy="1802.9" r="6.3" fill="none" stroke="#000" stroke-width="1.9"/>
<circle cx="361.3" cy="1811.1" r="6.3" fill="none" stroke="#000" stroke-width="1.9"/>
<circle cx="357.0" cy="1822.7" r="6.3" fill="none" stroke="#000" stroke-width="1.9"/>
<circle cx="364.0" cy="1821.4" r="6.3" fill="none" stroke="#000" stroke-width="1.9"/>
<circle cx="371.0" cy="1820.7" r="6.3" fill="none" stroke="#000" stroke-width="1.9"/>
<circle cx="364.7" cy="1840.5" r="6.3" fill="none" stroke="#000" stroke-width="1.9"/>
<circle cx="364.7" cy="1857.6" r="6.3" fill="none" stroke="#000" stroke-width="1.9"/>
<circle cx="357.0" cy="1873.4" r="6.3" fill="none" stroke="#000" stroke-width="1.9"/>
<circle cx="364.7" cy="1878.1" r="6.3" fill="none" stroke="#000" stroke-width="1.9"/>
<circle cx="371.0" cy="1876.8" r="6.3" fill="none" stroke="#000" stroke-width="1.9"/>
<circle cx="352.0" cy="1889.1" r="6.3" fill="none" stroke="#000" stroke-width="1.9"/>
<circle cx="364.7" cy="1887.0" r="6.3" fill="none" stroke="#000" stroke-width="1.9"/>
<circle cx="376.0" cy="1890.5" r="6.3" fill="none" stroke="#000" stroke-width="1.9"/>
<polygon points="406.7,1846.9 413.4,1859.1 399.9,1859.1" fill="none" stroke="#f03a3c" stroke-width="2.0" stroke-linejoin="miter"/>
<polygon points="406.7,1866.1 413.4,1878.2 399.9,1878.2" fill="none" stroke="#f03a3c" stroke-width="2.0" stroke-linejoin="miter"/>
<polygon points="397.0,1879.1 403.8,1891.2 390.2,1891.2" fill="none" stroke="#f03a3c" stroke-width="2.0" stroke-linejoin="miter"/>
<polygon points="403.0,1881.1 409.8,1893.3 396.2,1893.3" fill="none" stroke="#f03a3c" stroke-width="2.0" stroke-linejoin="miter"/>
<polygon points="409.0,1880.4 415.8,1892.6 402.2,1892.6" fill="none" stroke="#f03a3c" stroke-width="2.0" stroke-linejoin="miter"/>
<polygon points="415.0,1881.8 421.8,1894.0 408.2,1894.0" fill="none" stroke="#f03a3c" stroke-width="2.0" stroke-linejoin="miter"/>
<polygon points="420.0,1879.7 426.8,1891.9 413.2,1891.9" fill="none" stroke="#f03a3c" stroke-width="2.0" stroke-linejoin="miter"/>
<circle cx="481.5" cy="1862.4" r="6.3" fill="none" stroke="#000" stroke-width="1.9"/>
<circle cx="489.4" cy="1871.3" r="6.3" fill="none" stroke="#000" stroke-width="1.9"/>
<circle cx="497.4" cy="1872.7" r="6.3" fill="none" stroke="#000" stroke-width="1.9"/>
<circle cx="473.6" cy="1880.2" r="6.3" fill="none" stroke="#000" stroke-width="1.9"/>
<circle cx="481.5" cy="1875.4" r="6.3" fill="none" stroke="#000" stroke-width="1.9"/>
<circle cx="473.6" cy="1902.8" r="6.3" fill="none" stroke="#000" stroke-width="1.9"/>
<circle cx="497.4" cy="1902.8" r="6.3" fill="none" stroke="#000" stroke-width="1.9"/>
<circle cx="473.6" cy="1926.7" r="6.3" fill="none" stroke="#000" stroke-width="1.9"/>
<circle cx="488.4" cy="1926.7" r="6.3" fill="none" stroke="#000" stroke-width="1.9"/>
<circle cx="497.4" cy="1924.7" r="6.3" fill="none" stroke="#000" stroke-width="1.9"/>
<circle cx="485.0" cy="1893.9" r="6.3" fill="none" stroke="#000" stroke-width="1.9"/>
<polygon points="527.5,1865.4 534.2,1877.5 520.8,1877.5" fill="none" stroke="#f03a3c" stroke-width="2.0" stroke-linejoin="miter"/>
<polygon points="515.5,1872.9 522.2,1885.1 508.8,1885.1" fill="none" stroke="#f03a3c" stroke-width="2.0" stroke-linejoin="miter"/>
<polygon points="515.5,1892.1 522.2,1904.2 508.8,1904.2" fill="none" stroke="#f03a3c" stroke-width="2.0" stroke-linejoin="miter"/>
<polygon points="527.5,1892.1 534.2,1904.2 520.8,1904.2" fill="none" stroke="#f03a3c" stroke-width="2.0" stroke-linejoin="miter"/>
<polygon points="539.3,1895.5 546.0,1907.6 532.5,1907.6" fill="none" stroke="#f03a3c" stroke-width="2.0" stroke-linejoin="miter"/>
<polygon points="527.5,1911.9 534.2,1924.1 520.8,1924.1" fill="none" stroke="#f03a3c" stroke-width="2.0" stroke-linejoin="miter"/>
<line x1="243.8" y1="1819.3" x2="243.8" y2="1805.6" stroke="#000" stroke-width="3.8" stroke-linecap="butt"/>
<line x1="233.8" y1="1805.6" x2="253.8" y2="1805.6" stroke="#000" stroke-width="4.0" stroke-linecap="butt"/>
<line x1="286.2" y1="1876.1" x2="286.2" y2="1864.5" stroke="#f03a3c" stroke-width="3.8" stroke-linecap="butt"/>
<line x1="277.2" y1="1864.5" x2="295.2" y2="1864.5" stroke="#f03a3c" stroke-width="4.0" stroke-linecap="butt"/>
<line x1="363.9" y1="1857.6" x2="363.9" y2="1847.4" stroke="#000" stroke-width="3.8" stroke-linecap="butt"/>
<line x1="353.9" y1="1847.4" x2="373.9" y2="1847.4" stroke="#000" stroke-width="4.0" stroke-linecap="butt"/>
<line x1="406.4" y1="1882.2" x2="406.4" y2="1876.8" stroke="#f03a3c" stroke-width="3.8" stroke-linecap="butt"/>
<line x1="397.4" y1="1876.8" x2="415.4" y2="1876.8" stroke="#f03a3c" stroke-width="4.0" stroke-linecap="butt"/>
<line x1="484.6" y1="1897.3" x2="484.6" y2="1888.4" stroke="#000" stroke-width="3.8" stroke-linecap="butt"/>
<line x1="474.6" y1="1888.4" x2="494.6" y2="1888.4" stroke="#000" stroke-width="4.0" stroke-linecap="butt"/>
<line x1="527.1" y1="1898.7" x2="527.1" y2="1889.1" stroke="#f03a3c" stroke-width="3.8" stroke-linecap="butt"/>
<line x1="518.1" y1="1889.1" x2="536.1" y2="1889.1" stroke="#f03a3c" stroke-width="4.0" stroke-linecap="butt"/>
<path d="M280.65,1710.60 L280.65,1702.00 M280.65,1710.60 L288.83,1707.94 M280.65,1710.60 L285.70,1717.56 M280.65,1710.60 L275.60,1717.56 M280.65,1710.60 L272.47,1707.94 " stroke="#000" stroke-width="4.1" stroke-linecap="butt" fill="none"/>
<path d="M299.35,1710.60 L299.35,1702.00 M299.35,1710.60 L307.53,1707.94 M299.35,1710.60 L304.40,1717.56 M299.35,1710.60 L294.30,1717.56 M299.35,1710.60 L291.17,1707.94 " stroke="#000" stroke-width="4.1" stroke-linecap="butt" fill="none"/>
<path d="M410.00,1710.60 L410.00,1702.00 M410.00,1710.60 L418.18,1707.94 M410.00,1710.60 L415.05,1717.56 M410.00,1710.60 L404.95,1717.56 M410.00,1710.60 L401.82,1707.94 " stroke="#000" stroke-width="4.1" stroke-linecap="butt" fill="none"/>
<text x="0" y="0" font-size="43" font-weight="bold" text-anchor="middle" transform="translate(100.4,1854.0) rotate(-90)">Half time to peak (ms)</text>
<rect x="736.2" y="1678.2" width="6" height="345.0" fill="#000"/>
<rect x="720.2" y="2020.2" width="19" height="6" fill="#000"/>
<text x="714.2" y="2035.8" font-size="36.5" text-anchor="end" font-weight="bold" fill="#000" >0</text>
<rect x="720.2" y="1934.7" width="19" height="6" fill="#000"/>
<text x="714.2" y="1950.3" font-size="36.5" text-anchor="end" font-weight="bold" fill="#000" >200</text>
<rect x="720.2" y="1849.2" width="19" height="6" fill="#000"/>
<text x="714.2" y="1864.8" font-size="36.5" text-anchor="end" font-weight="bold" fill="#000" >400</text>
<rect x="720.2" y="1763.7" width="19" height="6" fill="#000"/>
<text x="714.2" y="1779.3" font-size="36.5" text-anchor="end" font-weight="bold" fill="#000" >600</text>
<rect x="720.2" y="1678.2" width="19" height="6" fill="#000"/>
<text x="714.2" y="1693.8" font-size="36.5" text-anchor="end" font-weight="bold" fill="#000" >800</text>
<rect x="727.8" y="1977.5" width="11.4" height="6" fill="#000"/>
<rect x="727.8" y="1892.0" width="11.4" height="6" fill="#000"/>
<rect x="727.8" y="1806.5" width="11.4" height="6" fill="#000"/>
<rect x="727.8" y="1721.0" width="11.4" height="6" fill="#000"/>
<rect x="720.2" y="2020.2" width="364.3" height="6" fill="#000"/>
<rect x="793.6" y="2023.2" width="6" height="19" fill="#000"/>
<text x="796.6" y="2080.5" font-size="36.5" text-anchor="middle" font-weight="bold" fill="#000" >0.5 Hz</text>
<rect x="913.7" y="2023.2" width="6" height="19" fill="#000"/>
<text x="916.7" y="2080.5" font-size="36.5" text-anchor="middle" font-weight="bold" fill="#000" >1 Hz</text>
<rect x="1033.8" y="2023.2" width="6" height="19" fill="#000"/>
<text x="1036.8" y="2080.5" font-size="36.5" text-anchor="middle" font-weight="bold" fill="#000" >1.5 Hz</text>
<path d="M759.1,2023.2 V1785.5 H791.6 V2023.2" fill="none" stroke="#000" stroke-width="4.0" stroke-linejoin="miter"/>
<path d="M801.6,2023.2 V1853.9 H834.1 V2023.2" fill="none" stroke="#f03a3c" stroke-width="4.0" stroke-linejoin="miter"/>
<path d="M879.2,2023.2 V1851.3 H911.7 V2023.2" fill="none" stroke="#000" stroke-width="4.0" stroke-linejoin="miter"/>
<path d="M921.7,2023.2 V1880.0 H954.2 V2023.2" fill="none" stroke="#f03a3c" stroke-width="4.0" stroke-linejoin="miter"/>
<path d="M999.3,2023.2 V1900.1 H1031.8 V2023.2" fill="none" stroke="#000" stroke-width="4.0" stroke-linejoin="miter"/>
<path d="M1041.8,2023.2 V1909.1 H1074.3 V2023.2" fill="none" stroke="#f03a3c" stroke-width="4.0" stroke-linejoin="miter"/>
<circle cx="762.0" cy="1742.3" r="6.3" fill="none" stroke="#000" stroke-width="1.9"/>
<circle cx="768.5" cy="1742.3" r="6.3" fill="none" stroke="#000" stroke-width="1.9"/>
<circle cx="775.0" cy="1742.3" r="6.3" fill="none" stroke="#000" stroke-width="1.9"/>
<circle cx="781.5" cy="1742.3" r="6.3" fill="none" stroke="#000" stroke-width="1.9"/>
<circle cx="787.1" cy="1749.2" r="6.3" fill="none" stroke="#000" stroke-width="1.9"/>
<circle cx="775.6" cy="1768.0" r="6.3" fill="none" stroke="#000" stroke-width="1.9"/>
<circle cx="775.6" cy="1790.6" r="6.3" fill="none" stroke="#000" stroke-width="1.9"/>
<circle cx="770.0" cy="1801.8" r="6.3" fill="none" stroke="#000" stroke-width="1.9"/>
<circle cx="781.3" cy="1805.2" r="6.3" fill="none" stroke="#000" stroke-width="1.9"/>
<circle cx="762.0" cy="1809.9" r="6.3" fill="none" stroke="#000" stroke-width="1.9"/>
<circle cx="775.6" cy="1816.7" r="6.3" fill="none" stroke="#000" stroke-width="1.9"/>
<circle cx="787.0" cy="1814.2" r="6.3" fill="none" stroke="#000" stroke-width="1.9"/>
<circle cx="775.6" cy="1843.7" r="6.3" fill="none" stroke="#000" stroke-width="1.9"/>
<polygon points="817.6,1775.2 824.4,1787.4 810.9,1787.4" fill="none" stroke="#f03a3c" stroke-width="2.0" stroke-linejoin="miter"/>
<polygon points="817.6,1799.2 824.4,1811.3 810.9,1811.3" fill="none" stroke="#f03a3c" stroke-width="2.0" stroke-linejoin="miter"/>
<polygon points="817.6,1818.4 824.4,1830.6 810.9,1830.6" fill="none" stroke="#f03a3c" stroke-width="2.0" stroke-linejoin="miter"/>
<polygon points="817.6,1863.3 824.4,1875.4 810.9,1875.4" fill="none" stroke="#f03a3c" stroke-width="2.0" stroke-linejoin="miter"/>
<polygon points="817.6,1882.5 824.4,1894.7 810.9,1894.7" fill="none" stroke="#f03a3c" stroke-width="2.0" stroke-linejoin="miter"/>
<polygon points="806.2,1892.8 813.0,1904.9 799.5,1904.9" fill="none" stroke="#f03a3c" stroke-width="2.0" stroke-linejoin="miter"/>
<polygon points="828.9,1886.0 835.6,1898.1 822.1,1898.1" fill="none" stroke="#f03a3c" stroke-width="2.0" stroke-linejoin="miter"/>
<circle cx="895.8" cy="1810.7" r="6.3" fill="none" stroke="#000" stroke-width="1.9"/>
<circle cx="892.0" cy="1828.3" r="6.3" fill="none" stroke="#000" stroke-width="1.9"/>
<circle cx="899.0" cy="1827.8" r="6.3" fill="none" stroke="#000" stroke-width="1.9"/>
<circle cx="892.0" cy="1840.7" r="6.3" fill="none" stroke="#000" stroke-width="1.9"/>
<circle cx="899.0" cy="1841.9" r="6.3" fill="none" stroke="#000" stroke-width="1.9"/>
<circle cx="883.0" cy="1849.2" r="6.3" fill="none" stroke="#000" stroke-width="1.9"/>
<circle cx="908.0" cy="1850.1" r="6.3" fill="none" stroke="#000" stroke-width="1.9"/>
<circle cx="885.0" cy="1856.5" r="6.3" fill="none" stroke="#000" stroke-width="1.9"/>
<circle cx="895.0" cy="1858.6" r="6.3" fill="none" stroke="#000" stroke-width="1.9"/>
<circle cx="905.0" cy="1857.3" r="6.3" fill="none" stroke="#000" stroke-width="1.9"/>
<circle cx="888.0" cy="1865.0" r="6.3" fill="none" stroke="#000" stroke-width="1.9"/>
<circle cx="898.0" cy="1867.2" r="6.3" fill="none" stroke="#000" stroke-width="1.9"/>
<circle cx="908.0" cy="1865.9" r="6.3" fill="none" stroke="#000" stroke-width="1.9"/>
<circle cx="885.0" cy="1872.7" r="6.3" fill="none" stroke="#000" stroke-width="1.9"/>
<circle cx="896.0" cy="1873.6" r="6.3" fill="none" stroke="#000" stroke-width="1.9"/>
<circle cx="906.0" cy="1872.3" r="6.3" fill="none" stroke="#000" stroke-width="1.9"/>
<polygon points="942.3,1808.1 949.0,1820.3 935.5,1820.3" fill="none" stroke="#f03a3c" stroke-width="2.0" stroke-linejoin="miter"/>
<polygon points="934.4,1836.4 941.1,1848.5 927.6,1848.5" fill="none" stroke="#f03a3c" stroke-width="2.0" stroke-linejoin="miter"/>
<polygon points="926.4,1866.7 933.1,1878.9 919.6,1878.9" fill="none" stroke="#f03a3c" stroke-width="2.0" stroke-linejoin="miter"/>
<polygon points="934.4,1870.6 941.1,1882.7 927.6,1882.7" fill="none" stroke="#f03a3c" stroke-width="2.0" stroke-linejoin="miter"/>
<polygon points="950.0,1868.4 956.8,1880.6 943.2,1880.6" fill="none" stroke="#f03a3c" stroke-width="2.0" stroke-linejoin="miter"/>
<polygon points="926.4,1884.2 933.1,1896.4 919.6,1896.4" fill="none" stroke="#f03a3c" stroke-width="2.0" stroke-linejoin="miter"/>
<polygon points="942.3,1884.2 949.0,1896.4 935.5,1896.4" fill="none" stroke="#f03a3c" stroke-width="2.0" stroke-linejoin="miter"/>
<polygon points="942.3,1903.1 949.0,1915.2 935.5,1915.2" fill="none" stroke="#f03a3c" stroke-width="2.0" stroke-linejoin="miter"/>
<polygon points="934.4,1910.7 941.1,1922.9 927.6,1922.9" fill="none" stroke="#f03a3c" stroke-width="2.0" stroke-linejoin="miter"/>
<circle cx="1016.5" cy="1874.0" r="6.3" fill="none" stroke="#000" stroke-width="1.9"/>
<circle cx="1016.5" cy="1887.7" r="6.3" fill="none" stroke="#000" stroke-width="1.9"/>
<circle cx="1005.0" cy="1897.1" r="6.3" fill="none" stroke="#000" stroke-width="1.9"/>
<circle cx="1016.0" cy="1895.8" r="6.3" fill="none" stroke="#000" stroke-width="1.9"/>
<circle cx="1027.0" cy="1897.9" r="6.3" fill="none" stroke="#000" stroke-width="1.9"/>
<circle cx="1008.0" cy="1903.5" r="6.3" fill="none" stroke="#000" stroke-width="1.9"/>
<circle cx="1020.0" cy="1902.2" r="6.3" fill="none" stroke="#000" stroke-width="1.9"/>
<circle cx="1030.0" cy="1904.4" r="6.3" fill="none" stroke="#000" stroke-width="1.9"/>
<circle cx="1005.0" cy="1907.8" r="6.3" fill="none" stroke="#000" stroke-width="1.9"/>
<circle cx="1015.0" cy="1909.9" r="6.3" fill="none" stroke="#000" stroke-width="1.9"/>
<circle cx="1025.0" cy="1908.6" r="6.3" fill="none" stroke="#000" stroke-width="1.9"/>
<polygon points="1047.8,1878.3 1054.5,1890.4 1041.0,1890.4" fill="none" stroke="#f03a3c" stroke-width="2.0" stroke-linejoin="miter"/>
<polygon points="1070.5,1889.4 1077.2,1901.5 1063.8,1901.5" fill="none" stroke="#f03a3c" stroke-width="2.0" stroke-linejoin="miter"/>
<polygon points="1047.8,1896.2 1054.5,1908.4 1041.0,1908.4" fill="none" stroke="#f03a3c" stroke-width="2.0" stroke-linejoin="miter"/>
<polygon points="1059.0,1902.6 1065.8,1914.8 1052.2,1914.8" fill="none" stroke="#f03a3c" stroke-width="2.0" stroke-linejoin="miter"/>
<polygon points="1070.5,1903.9 1077.2,1916.1 1063.8,1916.1" fill="none" stroke="#f03a3c" stroke-width="2.0" stroke-linejoin="miter"/>
<polygon points="1047.8,1911.2 1054.5,1923.3 1041.0,1923.3" fill="none" stroke="#f03a3c" stroke-width="2.0" stroke-linejoin="miter"/>
<line x1="775.4" y1="1785.5" x2="775.4" y2="1772.7" stroke="#000" stroke-width="3.8" stroke-linecap="butt"/>
<line x1="765.4" y1="1772.7" x2="785.4" y2="1772.7" stroke="#000" stroke-width="4.0" stroke-linecap="butt"/>
<line x1="817.9" y1="1853.9" x2="817.9" y2="1834.7" stroke="#f03a3c" stroke-width="3.8" stroke-linecap="butt"/>
<line x1="808.9" y1="1834.7" x2="826.9" y2="1834.7" stroke="#f03a3c" stroke-width="4.0" stroke-linecap="butt"/>
<line x1="895.5" y1="1851.3" x2="895.5" y2="1846.2" stroke="#000" stroke-width="3.8" stroke-linecap="butt"/>
<line x1="885.5" y1="1846.2" x2="905.5" y2="1846.2" stroke="#000" stroke-width="4.0" stroke-linecap="butt"/>
<line x1="938.0" y1="1880.0" x2="938.0" y2="1867.2" stroke="#f03a3c" stroke-width="3.8" stroke-linecap="butt"/>
<line x1="929.0" y1="1867.2" x2="947.0" y2="1867.2" stroke="#f03a3c" stroke-width="4.0" stroke-linecap="butt"/>
<line x1="1015.5" y1="1900.1" x2="1015.5" y2="1896.7" stroke="#000" stroke-width="3.8" stroke-linecap="butt"/>
<line x1="1005.5" y1="1896.7" x2="1025.5" y2="1896.7" stroke="#000" stroke-width="4.0" stroke-linecap="butt"/>
<line x1="1058.0" y1="1909.1" x2="1058.0" y2="1902.2" stroke="#f03a3c" stroke-width="3.8" stroke-linecap="butt"/>
<line x1="1049.0" y1="1902.2" x2="1067.0" y2="1902.2" stroke="#f03a3c" stroke-width="4.0" stroke-linecap="butt"/>
<path d="M809.65,1736.60 L809.65,1728.00 M809.65,1736.60 L817.83,1733.94 M809.65,1736.60 L814.70,1743.56 M809.65,1736.60 L804.60,1743.56 M809.65,1736.60 L801.47,1733.94 " stroke="#000" stroke-width="4.1" stroke-linecap="butt" fill="none"/>
<path d="M828.35,1736.60 L828.35,1728.00 M828.35,1736.60 L836.53,1733.94 M828.35,1736.60 L833.40,1743.56 M828.35,1736.60 L823.30,1743.56 M828.35,1736.60 L820.17,1733.94 " stroke="#000" stroke-width="4.1" stroke-linecap="butt" fill="none"/>
<path d="M937.50,1736.60 L937.50,1728.00 M937.50,1736.60 L945.68,1733.94 M937.50,1736.60 L942.55,1743.56 M937.50,1736.60 L932.45,1743.56 M937.50,1736.60 L929.32,1733.94 " stroke="#000" stroke-width="4.1" stroke-linecap="butt" fill="none"/>
<text x="0" y="0" font-size="43" font-weight="bold" text-anchor="middle" transform="translate(632.4,1848.5) rotate(-90)">Decay <tspan font-family="Liberation Serif" font-weight="normal">τ</tspan> (ms)</text>
<rect x="1278.4" y="1681.5" width="6" height="344.5" fill="#000"/>
<rect x="1262.4" y="2023.0" width="19" height="6" fill="#000"/>
<text x="1256.4" y="2038.6" font-size="36.5" text-anchor="end" font-weight="bold" fill="#000" >0.0</text>
<rect x="1262.4" y="1954.7" width="19" height="6" fill="#000"/>
<text x="1256.4" y="1970.3" font-size="36.5" text-anchor="end" font-weight="bold" fill="#000" >0.2</text>
<rect x="1262.4" y="1886.4" width="19" height="6" fill="#000"/>
<text x="1256.4" y="1902.0" font-size="36.5" text-anchor="end" font-weight="bold" fill="#000" >0.4</text>
<rect x="1262.4" y="1818.1" width="19" height="6" fill="#000"/>
<text x="1256.4" y="1833.7" font-size="36.5" text-anchor="end" font-weight="bold" fill="#000" >0.6</text>
<rect x="1262.4" y="1749.8" width="19" height="6" fill="#000"/>
<text x="1256.4" y="1765.4" font-size="36.5" text-anchor="end" font-weight="bold" fill="#000" >0.8</text>
<rect x="1262.4" y="1681.5" width="19" height="6" fill="#000"/>
<text x="1256.4" y="1697.1" font-size="36.5" text-anchor="end" font-weight="bold" fill="#000" >1.0</text>
<rect x="1262.4" y="2023.0" width="192.6" height="6" fill="#000"/>
<path d="M1315.0,2026.0 V1872.3 H1372.0 V2026.0" fill="none" stroke="#000" stroke-width="4.0" stroke-linejoin="miter"/>
<path d="M1393.0,2026.0 V1868.9 H1449.0 V2026.0" fill="none" stroke="#f03a3c" stroke-width="4.0" stroke-linejoin="miter"/>
<circle cx="1342.7" cy="1756.2" r="6.8" fill="none" stroke="#000" stroke-width="2.2"/>
<circle cx="1342.7" cy="1776.7" r="6.8" fill="none" stroke="#000" stroke-width="2.2"/>
<circle cx="1318.8" cy="1817.7" r="6.8" fill="none" stroke="#000" stroke-width="2.2"/>
<circle cx="1367.5" cy="1817.7" r="6.8" fill="none" stroke="#000" stroke-width="2.2"/>
<circle cx="1318.8" cy="1838.2" r="6.8" fill="none" stroke="#000" stroke-width="2.2"/>
<circle cx="1342.7" cy="1838.2" r="6.8" fill="none" stroke="#000" stroke-width="2.2"/>
<circle cx="1367.5" cy="1838.2" r="6.8" fill="none" stroke="#000" stroke-width="2.2"/>
<circle cx="1318.8" cy="1879.2" r="6.8" fill="none" stroke="#000" stroke-width="2.2"/>
<circle cx="1367.5" cy="1879.2" r="6.8" fill="none" stroke="#000" stroke-width="2.2"/>
<circle cx="1318.8" cy="1903.1" r="6.8" fill="none" stroke="#000" stroke-width="2.2"/>
<circle cx="1342.7" cy="1903.1" r="6.8" fill="none" stroke="#000" stroke-width="2.2"/>
<circle cx="1342.7" cy="1920.1" r="6.8" fill="none" stroke="#000" stroke-width="2.2"/>
<circle cx="1318.8" cy="1964.5" r="6.8" fill="none" stroke="#000" stroke-width="2.2"/>
<circle cx="1342.7" cy="1964.5" r="6.8" fill="none" stroke="#000" stroke-width="2.2"/>
<circle cx="1367.5" cy="1964.5" r="6.8" fill="none" stroke="#000" stroke-width="2.2"/>
<polygon points="1420.7,1686.9 1428.0,1700.0 1413.5,1700.0" fill="none" stroke="#f03a3c" stroke-width="2.2" stroke-linejoin="miter"/>
<polygon points="1420.7,1727.9 1428.0,1740.9 1413.5,1740.9" fill="none" stroke="#f03a3c" stroke-width="2.2" stroke-linejoin="miter"/>
<polygon points="1420.7,1768.9 1428.0,1781.9 1413.5,1781.9" fill="none" stroke="#f03a3c" stroke-width="2.2" stroke-linejoin="miter"/>
<polygon points="1420.7,1809.9 1428.0,1822.9 1413.5,1822.9" fill="none" stroke="#f03a3c" stroke-width="2.2" stroke-linejoin="miter"/>
<polygon points="1420.7,1895.2 1428.0,1908.3 1413.5,1908.3" fill="none" stroke="#f03a3c" stroke-width="2.2" stroke-linejoin="miter"/>
<polygon points="1446.0,1915.7 1453.2,1928.8 1438.8,1928.8" fill="none" stroke="#f03a3c" stroke-width="2.2" stroke-linejoin="miter"/>
<polygon points="1420.7,1936.2 1428.0,1949.3 1413.5,1949.3" fill="none" stroke="#f03a3c" stroke-width="2.2" stroke-linejoin="miter"/>
<polygon points="1446.0,1936.2 1453.2,1949.3 1438.8,1949.3" fill="none" stroke="#f03a3c" stroke-width="2.2" stroke-linejoin="miter"/>
<polygon points="1420.7,1956.7 1428.0,1969.8 1413.5,1969.8" fill="none" stroke="#f03a3c" stroke-width="2.2" stroke-linejoin="miter"/>
<polygon points="1420.7,1977.2 1428.0,1990.2 1413.5,1990.2" fill="none" stroke="#f03a3c" stroke-width="2.2" stroke-linejoin="miter"/>
<line x1="1343.5" y1="1872.3" x2="1343.5" y2="1853.5" stroke="#000" stroke-width="3.8" stroke-linecap="butt"/>
<line x1="1328.5" y1="1853.5" x2="1358.5" y2="1853.5" stroke="#000" stroke-width="4.0" stroke-linecap="butt"/>
<line x1="1421.0" y1="1868.9" x2="1421.0" y2="1834.8" stroke="#f03a3c" stroke-width="3.8" stroke-linecap="butt"/>
<line x1="1406.0" y1="1834.8" x2="1436.0" y2="1834.8" stroke="#f03a3c" stroke-width="4.0" stroke-linecap="butt"/>
<text x="0" y="0" font-size="42.5" font-weight="bold" text-anchor="middle" transform="translate(1184.3,1850.2) rotate(-90)">Spont. Beating (Hz)</text>
<rect x="875.8" y="697.3" width="6" height="238.80000000000007" fill="#000"/>
<rect x="875.8" y="963.2" width="6" height="79.79999999999995" fill="#000"/>
<rect x="859.8" y="697.3" width="19" height="6" fill="#000"/>
<text x="853.8" y="712.9" font-size="36.5" text-anchor="end" font-weight="bold" fill="#000" >80</text>
<rect x="859.8" y="755.5" width="19" height="6" fill="#000"/>
<text x="853.8" y="771.1" font-size="36.5" text-anchor="end" font-weight="bold" fill="#000" >70</text>
<rect x="859.8" y="813.7" width="19" height="6" fill="#000"/>
<text x="853.8" y="829.3" font-size="36.5" text-anchor="end" font-weight="bold" fill="#000" >60</text>
<rect x="859.8" y="871.9" width="19" height="6" fill="#000"/>
<text x="853.8" y="887.5" font-size="36.5" text-anchor="end" font-weight="bold" fill="#000" >50</text>
<rect x="867.8" y="930.1" width="22" height="6" fill="#000"/>
<text x="853.8" y="945.7" font-size="36.5" text-anchor="end" font-weight="bold" fill="#000" >40</text>
<rect x="867.8" y="963.2" width="22" height="6" fill="#000"/>
<text x="853.8" y="978.8" font-size="36.5" text-anchor="end" font-weight="bold" fill="#000" >30</text>
<text x="853.8" y="1055.6" font-size="36.5" text-anchor="end" font-weight="bold" fill="#000" >0</text>
<rect x="859.4" y="1040.0" width="449.6" height="6" fill="#000"/>
<rect x="945.9" y="1043" width="6" height="19" fill="#000"/>
<text x="948.9" y="1100.0" font-size="36.5" text-anchor="middle" font-weight="bold" fill="#000" >0.5 Hz</text>
<rect x="1098.0" y="1043" width="6" height="19" fill="#000"/>
<text x="1101.0" y="1100.0" font-size="36.5" text-anchor="middle" font-weight="bold" fill="#000" >1 Hz</text>
<rect x="1250.0" y="1043" width="6" height="19" fill="#000"/>
<text x="1253.0" y="1100.0" font-size="36.5" text-anchor="middle" font-weight="bold" fill="#000" >1.5 Hz</text>
<path d="M902.5,933.1 V791.7 H942 V933.1" fill="none" stroke="#000" stroke-width="4"/>
<path d="M902.5,966.2 V1043.0 M942,966.2 V1043.0" fill="none" stroke="#000" stroke-width="4"/>
<path d="M957.7,933.1 V828.3 H995.6 V933.1" fill="none" stroke="#f03a3c" stroke-width="4"/>
<path d="M957.7,966.2 V1043.0 M995.6,966.2 V1043.0" fill="none" stroke="#f03a3c" stroke-width="4"/>
<path d="M1055,933.1 V803.3 H1093.5 V933.1" fill="none" stroke="#000" stroke-width="4"/>
<path d="M1055,966.2 V1043.0 M1093.5,966.2 V1043.0" fill="none" stroke="#000" stroke-width="4"/>
<path d="M1108.4,933.1 V847.5 H1148 V933.1" fill="none" stroke="#f03a3c" stroke-width="4"/>
<path d="M1108.4,966.2 V1043.0 M1148,966.2 V1043.0" fill="none" stroke="#f03a3c" stroke-width="4"/>
<path d="M1206.6,933.1 V805.1 H1245.3 V933.1" fill="none" stroke="#000" stroke-width="4"/>
<path d="M1206.6,966.2 V1043.0 M1245.3,966.2 V1043.0" fill="none" stroke="#000" stroke-width="4"/>
<path d="M1261,933.1 V865.0 H1300.6 V933.1" fill="none" stroke="#f03a3c" stroke-width="4"/>
<path d="M1261,966.2 V1043.0 M1300.6,966.2 V1043.0" fill="none" stroke="#f03a3c" stroke-width="4"/>
<circle cx="906.0" cy="789.9" r="6.3" fill="none" stroke="#000" stroke-width="1.9"/>
<circle cx="910.0" cy="788.2" r="6.3" fill="none" stroke="#000" stroke-width="1.9"/>
<circle cx="914.0" cy="791.1" r="6.3" fill="none" stroke="#000" stroke-width="1.9"/>
<circle cx="918.0" cy="788.8" r="6.3" fill="none" stroke="#000" stroke-width="1.9"/>
<circle cx="922.0" cy="791.7" r="6.3" fill="none" stroke="#000" stroke-width="1.9"/>
<circle cx="926.0" cy="789.3" r="6.3" fill="none" stroke="#000" stroke-width="1.9"/>
<circle cx="930.0" cy="790.5" r="6.3" fill="none" stroke="#000" stroke-width="1.9"/>
<circle cx="934.0" cy="788.2" r="6.3" fill="none" stroke="#000" stroke-width="1.9"/>
<circle cx="937.0" cy="791.1" r="6.3" fill="none" stroke="#000" stroke-width="1.9"/>
<circle cx="940.0" cy="789.3" r="6.3" fill="none" stroke="#000" stroke-width="1.9"/>
<circle cx="912.0" cy="792.8" r="6.3" fill="none" stroke="#000" stroke-width="1.9"/>
<circle cx="928.0" cy="792.3" r="6.3" fill="none" stroke="#000" stroke-width="1.9"/>
<polygon points="961.4,785.0 968.1,797.1 954.6,797.1" fill="none" stroke="#f03a3c" stroke-width="2.0" stroke-linejoin="miter"/>
<polygon points="976.9,794.9 983.6,807.0 970.1,807.0" fill="none" stroke="#f03a3c" stroke-width="2.0" stroke-linejoin="miter"/>
<polygon points="992.3,793.1 999.0,805.3 985.5,805.3" fill="none" stroke="#f03a3c" stroke-width="2.0" stroke-linejoin="miter"/>
<polygon points="961.4,830.9 968.1,843.1 954.6,843.1" fill="none" stroke="#f03a3c" stroke-width="2.0" stroke-linejoin="miter"/>
<polygon points="976.9,835.6 983.6,847.8 970.1,847.8" fill="none" stroke="#f03a3c" stroke-width="2.0" stroke-linejoin="miter"/>
<polygon points="990.9,844.3 997.6,856.5 984.1,856.5" fill="none" stroke="#f03a3c" stroke-width="2.0" stroke-linejoin="miter"/>
<polygon points="961.4,853.6 968.1,865.8 954.6,865.8" fill="none" stroke="#f03a3c" stroke-width="2.0" stroke-linejoin="miter"/>
<circle cx="1068.0" cy="787.6" r="6.3" fill="none" stroke="#000" stroke-width="1.9"/>
<circle cx="1076.0" cy="788.8" r="6.3" fill="none" stroke="#000" stroke-width="1.9"/>
<circle cx="1084.0" cy="792.3" r="6.3" fill="none" stroke="#000" stroke-width="1.9"/>
<circle cx="1060.0" cy="793.4" r="6.3" fill="none" stroke="#000" stroke-width="1.9"/>
<circle cx="1072.0" cy="795.7" r="6.3" fill="none" stroke="#000" stroke-width="1.9"/>
<circle cx="1088.0" cy="798.1" r="6.3" fill="none" stroke="#000" stroke-width="1.9"/>
<circle cx="1064.0" cy="800.4" r="6.3" fill="none" stroke="#000" stroke-width="1.9"/>
<circle cx="1080.0" cy="801.6" r="6.3" fill="none" stroke="#000" stroke-width="1.9"/>
<circle cx="1058.0" cy="803.3" r="6.3" fill="none" stroke="#000" stroke-width="1.9"/>
<circle cx="1092.0" cy="802.1" r="6.3" fill="none" stroke="#000" stroke-width="1.9"/>
<circle cx="1070.0" cy="806.2" r="6.3" fill="none" stroke="#000" stroke-width="1.9"/>
<circle cx="1084.0" cy="808.0" r="6.3" fill="none" stroke="#000" stroke-width="1.9"/>
<circle cx="1066.0" cy="812.0" r="6.3" fill="none" stroke="#000" stroke-width="1.9"/>
<circle cx="1078.0" cy="813.8" r="6.3" fill="none" stroke="#000" stroke-width="1.9"/>
<circle cx="1062.0" cy="819.0" r="6.3" fill="none" stroke="#000" stroke-width="1.9"/>
<circle cx="1074.0" cy="820.2" r="6.3" fill="none" stroke="#000" stroke-width="1.9"/>
<polygon points="1128.2,778.0 1135.0,790.1 1121.5,790.1" fill="none" stroke="#f03a3c" stroke-width="2.0" stroke-linejoin="miter"/>
<polygon points="1114.1,794.9 1120.8,807.0 1107.3,807.0" fill="none" stroke="#f03a3c" stroke-width="2.0" stroke-linejoin="miter"/>
<polygon points="1143.6,797.8 1150.3,809.9 1136.8,809.9" fill="none" stroke="#f03a3c" stroke-width="2.0" stroke-linejoin="miter"/>
<polygon points="1128.2,803.0 1135.0,815.2 1121.5,815.2" fill="none" stroke="#f03a3c" stroke-width="2.0" stroke-linejoin="miter"/>
<polygon points="1114.1,860.6 1120.8,872.8 1107.3,872.8" fill="none" stroke="#f03a3c" stroke-width="2.0" stroke-linejoin="miter"/>
<polygon points="1143.6,854.8 1150.3,867.0 1136.8,867.0" fill="none" stroke="#f03a3c" stroke-width="2.0" stroke-linejoin="miter"/>
<polygon points="1143.6,870.5 1150.3,882.7 1136.8,882.7" fill="none" stroke="#f03a3c" stroke-width="2.0" stroke-linejoin="miter"/>
<polygon points="1114.1,898.5 1120.8,910.6 1107.3,910.6" fill="none" stroke="#f03a3c" stroke-width="2.0" stroke-linejoin="miter"/>
<polygon points="1143.6,892.6 1150.3,904.8 1136.8,904.8" fill="none" stroke="#f03a3c" stroke-width="2.0" stroke-linejoin="miter"/>
<circle cx="1215.0" cy="795.7" r="6.3" fill="none" stroke="#000" stroke-width="1.9"/>
<circle cx="1225.0" cy="794.0" r="6.3" fill="none" stroke="#000" stroke-width="1.9"/>
<circle cx="1235.0" cy="796.3" r="6.3" fill="none" stroke="#000" stroke-width="1.9"/>
<circle cx="1210.0" cy="799.8" r="6.3" fill="none" stroke="#000" stroke-width="1.9"/>
<circle cx="1220.0" cy="802.1" r="6.3" fill="none" stroke="#000" stroke-width="1.9"/>
<circle cx="1230.0" cy="800.4" r="6.3" fill="none" stroke="#000" stroke-width="1.9"/>
<circle cx="1240.0" cy="801.6" r="6.3" fill="none" stroke="#000" stroke-width="1.9"/>
<circle cx="1218.0" cy="807.4" r="6.3" fill="none" stroke="#000" stroke-width="1.9"/>
<circle cx="1228.0" cy="808.6" r="6.3" fill="none" stroke="#000" stroke-width="1.9"/>
<circle cx="1238.0" cy="806.2" r="6.3" fill="none" stroke="#000" stroke-width="1.9"/>
<circle cx="1226.2" cy="833.6" r="6.3" fill="none" stroke="#000" stroke-width="1.9"/>
<polygon points="1265.5,789.0 1272.2,801.2 1258.8,801.2" fill="none" stroke="#f03a3c" stroke-width="2.0" stroke-linejoin="miter"/>
<polygon points="1280.9,801.8 1287.7,814.0 1274.2,814.0" fill="none" stroke="#f03a3c" stroke-width="2.0" stroke-linejoin="miter"/>
<polygon points="1280.9,849.6 1287.7,861.7 1274.2,861.7" fill="none" stroke="#f03a3c" stroke-width="2.0" stroke-linejoin="miter"/>
<polygon points="1294.9,885.7 1301.7,897.8 1288.2,897.8" fill="none" stroke="#f03a3c" stroke-width="2.0" stroke-linejoin="miter"/>
<polygon points="1280.9,894.4 1287.7,906.5 1274.2,906.5" fill="none" stroke="#f03a3c" stroke-width="2.0" stroke-linejoin="miter"/>
<polygon points="1280.9,918.2 1287.7,930.4 1274.2,930.4" fill="none" stroke="#f03a3c" stroke-width="2.0" stroke-linejoin="miter"/>
<line x1="922.2" y1="791.7" x2="922.2" y2="789.9" stroke="#000" stroke-width="3.8" stroke-linecap="butt"/>
<line x1="912.2" y1="789.9" x2="932.2" y2="789.9" stroke="#000" stroke-width="4.0" stroke-linecap="butt"/>
<line x1="976.7" y1="828.3" x2="976.7" y2="816.1" stroke="#f03a3c" stroke-width="3.8" stroke-linecap="butt"/>
<line x1="966.4" y1="816.1" x2="986.9" y2="816.1" stroke="#f03a3c" stroke-width="4.0" stroke-linecap="butt"/>
<line x1="1074.2" y1="803.3" x2="1074.2" y2="799.8" stroke="#000" stroke-width="3.8" stroke-linecap="butt"/>
<line x1="1064.2" y1="799.8" x2="1084.2" y2="799.8" stroke="#000" stroke-width="4.0" stroke-linecap="butt"/>
<line x1="1128.2" y1="847.5" x2="1128.2" y2="830.1" stroke="#f03a3c" stroke-width="3.8" stroke-linecap="butt"/>
<line x1="1118.0" y1="830.1" x2="1138.5" y2="830.1" stroke="#f03a3c" stroke-width="4.0" stroke-linecap="butt"/>
<line x1="1225.9" y1="805.1" x2="1225.9" y2="801.6" stroke="#000" stroke-width="3.8" stroke-linecap="butt"/>
<line x1="1215.9" y1="801.6" x2="1235.9" y2="801.6" stroke="#000" stroke-width="4.0" stroke-linecap="butt"/>
<line x1="1280.8" y1="865.0" x2="1280.8" y2="841.1" stroke="#f03a3c" stroke-width="3.8" stroke-linecap="butt"/>
<line x1="1270.5" y1="841.1" x2="1291.0" y2="841.1" stroke="#f03a3c" stroke-width="4.0" stroke-linecap="butt"/>
<path d="M963.80,749.30 L963.80,740.70 M963.80,749.30 L971.98,746.64 M963.80,749.30 L968.85,756.26 M963.80,749.30 L958.75,756.26 M963.80,749.30 L955.62,746.64 " stroke="#000" stroke-width="4.1" stroke-linecap="butt" fill="none"/>
<path d="M982.50,749.30 L982.50,740.70 M982.50,749.30 L990.68,746.64 M982.50,749.30 L987.55,756.26 M982.50,749.30 L977.45,756.26 M982.50,749.30 L974.32,746.64 " stroke="#000" stroke-width="4.1" stroke-linecap="butt" fill="none"/>
<path d="M1001.20,749.30 L1001.20,740.70 M1001.20,749.30 L1009.38,746.64 M1001.20,749.30 L1006.25,756.26 M1001.20,749.30 L996.15,756.26 M1001.20,749.30 L993.02,746.64 " stroke="#000" stroke-width="4.1" stroke-linecap="butt" fill="none"/>
<path d="M1124.15,749.30 L1124.15,740.70 M1124.15,749.30 L1132.33,746.64 M1124.15,749.30 L1129.20,756.26 M1124.15,749.30 L1119.10,756.26 M1124.15,749.30 L1115.97,746.64 " stroke="#000" stroke-width="4.1" stroke-linecap="butt" fill="none"/>
<path d="M1142.85,749.30 L1142.85,740.70 M1142.85,749.30 L1151.03,746.64 M1142.85,749.30 L1147.90,756.26 M1142.85,749.30 L1137.80,756.26 M1142.85,749.30 L1134.67,746.64 " stroke="#000" stroke-width="4.1" stroke-linecap="butt" fill="none"/>
<path d="M1274.65,749.30 L1274.65,740.70 M1274.65,749.30 L1282.83,746.64 M1274.65,749.30 L1279.70,756.26 M1274.65,749.30 L1269.60,756.26 M1274.65,749.30 L1266.47,746.64 " stroke="#000" stroke-width="4.1" stroke-linecap="butt" fill="none"/>
<path d="M1293.35,749.30 L1293.35,740.70 M1293.35,749.30 L1301.53,746.64 M1293.35,749.30 L1298.40,756.26 M1293.35,749.30 L1288.30,756.26 M1293.35,749.30 L1285.17,746.64 " stroke="#000" stroke-width="4.1" stroke-linecap="butt" fill="none"/>
<text x="0" y="0" font-size="42.3" font-weight="bold" text-anchor="middle" transform="translate(784.3,864.6) rotate(-90)">Amplitude (x10<tspan font-size="29" dy="-19.7">3</tspan><tspan dy="19.7">) (ΔF/F</tspan><tspan font-size="32" dy="9.5">0</tspan><tspan dy="-9.5">)</tspan></text>
<circle cx="1258.5" cy="1210.0" r="13.5" fill="none" stroke="#000" stroke-width="3.0"/>
<polygon points="1258.5,1258.8 1271.5,1283.6 1245.5,1283.6" fill="none" stroke="#f03a3c" stroke-width="3.4"/>
<text x="1290.5" y="1223.6" font-size="39.5" text-anchor="start" font-weight="bold" fill="#000" >Control</text>
<text x="1290.5" y="1281.7" font-size="39.5" text-anchor="start" font-weight="bold" fill="#000" >Na<tspan font-size="27.5" dy="8">V</tspan><tspan dy="-8">1.5 KO</tspan></text>
<path d="M66.60,495.00 L67.26,496.31 L67.90,497.63 L68.50,499.00 L69.06,500.40 L69.68,501.76 L70.47,502.97 L71.52,503.95 L72.76,504.77 L74.10,505.50 L74.19,504.25 L74.28,503.00 L74.36,501.75 L74.45,500.50 L74.53,499.25 L74.62,497.99 L74.70,496.74 L74.78,495.49 L74.86,494.24 L74.93,492.99 L75.00,491.74 L75.07,490.49 L75.14,489.23 L75.20,487.98 L75.26,486.73 L75.32,485.48 L75.37,484.23 L75.42,482.97 L75.47,481.72 L75.52,480.47 L75.56,479.21 L75.60,477.96 L75.64,476.71 L75.68,475.45 L75.72,474.20 L75.75,472.95 L75.79,471.69 L75.82,470.44 L75.86,469.19 L75.89,467.93 L75.92,466.68 L75.95,465.43 L75.99,464.17 L76.02,462.92 L76.05,461.67 L76.09,460.41 L76.12,459.16 L76.16,457.91 L76.20,456.65 L76.23,455.40 L76.27,454.15 L76.31,452.89 L76.35,451.64 L76.39,450.39 L76.43,449.14 L76.47,447.88 L76.51,446.63 L76.55,445.38 L76.59,444.12 L76.62,442.87 L76.66,441.62 L76.70,440.36 L76.74,439.11 L76.78,437.86 L76.82,436.60 L76.85,435.35 L76.89,434.10 L76.92,432.84 L76.96,431.59 L76.99,430.34 L77.02,429.08 L77.05,427.83 L77.08,426.58 L77.11,425.32 L77.14,424.07 L77.17,422.81 L77.20,421.56 L77.23,420.31 L77.26,419.05 L77.29,417.80 L77.32,416.54 L77.34,415.29 L77.38,414.04 L77.41,412.78 L77.44,411.53 L77.47,410.28 L77.51,409.02 L77.54,407.77 L77.58,406.52 L77.62,405.26 L77.66,404.01 L77.70,402.76 L77.75,401.50 L77.80,400.25 L77.85,399.00 L77.90,397.75 L77.96,396.49 L78.02,395.24 L78.08,393.99 L78.14,392.74 L78.21,391.49 L78.29,390.24 L78.36,388.99 L78.44,387.74 L78.53,386.49 L78.61,385.24 L78.70,383.99 L78.79,382.74 L78.89,381.49 L78.99,380.24 L79.09,378.99 L79.19,377.74 L79.30,376.49 L79.40,375.24 L79.51,374.00 L79.62,372.75 L79.73,371.50 L79.85,370.25 L79.96,369.00 L80.08,367.75 L80.19,366.50 L80.31,365.25 L80.43,364.00 L80.54,362.75 L80.66,361.50 L80.78,360.25 L80.89,359.00 L81.01,357.75 L81.13,356.50 L81.24,355.25 L81.36,354.00 L81.47,352.75 L81.58,351.50 L81.70,350.25 L81.81,348.99 L81.92,347.74 L82.03,346.49 L82.14,345.24 L82.25,343.99 L82.36,342.74 L82.47,341.49 L82.57,340.24 L82.68,339.00 L82.78,337.75 L82.89,336.50 L82.99,335.25 L83.09,334.01 L83.19,332.76 L83.28,331.52 L83.38,330.27 L83.47,329.03 L83.57,327.79 L83.66,326.55 L83.75,325.30 L83.84,324.06 L83.93,322.82 L84.02,321.58 L84.12,320.34 L84.21,319.09 L84.30,317.85 L84.40,316.60 L84.50,315.36 L84.59,314.11 L84.70,312.86 L84.80,311.61 L84.91,310.36 L85.02,309.10 L85.13,307.84 L85.25,306.58 L85.37,305.32 L85.49,304.05 L85.62,302.78 L85.76,301.51 L85.90,300.23 L86.04,298.95 L86.19,297.67 L86.34,296.40 L86.49,295.12 L86.64,293.84 L86.80,292.57 L86.96,291.30 L87.12,290.03 L87.28,288.77 L87.44,287.51 L87.59,286.26 L87.75,285.02 L87.91,283.78 L88.06,282.55 L88.21,281.34 L88.36,280.13 L88.51,278.93 L88.65,277.75 L88.79,276.57 L88.92,275.41 L89.05,274.27 L89.18,273.13 L89.31,272.00 L89.46,270.86 L89.61,269.73 L89.78,268.58 L89.97,267.42 L90.18,266.24 L90.42,265.04 L90.69,263.81 L91.00,262.55 L91.35,261.25 L91.75,259.91 L92.19,258.53 L92.68,257.09 L93.23,255.61 L93.83,254.16 L94.44,252.90 L95.05,251.95 L95.64,251.49 L96.17,251.59 L96.67,252.22 L97.12,253.26 L97.54,254.62 L97.94,256.22 L98.30,257.95 L98.65,259.73 L98.98,261.47 L99.30,263.15 L99.60,264.76 L99.90,266.32 L100.18,267.83 L100.45,269.29 L100.71,270.70 L100.96,272.06 L101.20,273.39 L101.43,274.67 L101.65,275.92 L101.87,277.14 L102.08,278.32 L102.28,279.48 L102.48,280.62 L102.67,281.73 L102.86,282.82 L103.04,283.90 L103.22,284.97 L103.40,286.02 L103.58,287.07 L103.75,288.11 L103.93,289.16 L104.10,290.20 L104.27,291.25 L104.45,292.31 L104.63,293.37 L104.81,294.45 L104.99,295.55 L105.18,296.66 L105.37,297.79 L105.56,298.93 L105.75,300.09 L105.95,301.26 L106.15,302.45 L106.36,303.64 L106.56,304.85 L106.77,306.07 L106.98,307.30 L107.19,308.54 L107.41,309.79 L107.62,311.04 L107.84,312.30 L108.06,313.57 L108.28,314.84 L108.51,316.12 L108.73,317.39 L108.96,318.68 L109.18,319.96 L109.41,321.25 L109.64,322.53 L109.87,323.82 L110.10,325.10 L110.34,326.38 L110.57,327.66 L110.80,328.93 L111.04,330.20 L111.27,331.47 L111.51,332.73 L111.74,333.98 L111.98,335.23 L112.21,336.48 L112.45,337.72 L112.68,338.96 L112.92,340.20 L113.16,341.43 L113.39,342.66 L113.63,343.89 L113.87,345.11 L114.11,346.34 L114.35,347.56 L114.59,348.78 L114.82,350.00 L115.06,351.22 L115.30,352.43 L115.54,353.65 L115.78,354.87 L116.02,356.09 L116.27,357.30 L116.51,358.52 L116.75,359.74 L116.99,360.96 L117.23,362.18 L117.48,363.41 L117.72,364.63 L117.96,365.86 L118.21,367.08 L118.45,368.31 L118.69,369.54 L118.94,370.77 L119.19,372.00 L119.43,373.23 L119.68,374.46 L119.93,375.69 L120.18,376.92 L120.43,378.15 L120.68,379.38 L120.93,380.61 L121.19,381.84 L121.44,383.07 L121.70,384.30 L121.96,385.54 L122.21,386.77 L122.47,388.00 L122.73,389.23 L123.00,390.45 L123.26,391.68 L123.53,392.91 L123.79,394.14 L124.06,395.36 L124.33,396.59 L124.60,397.82 L124.88,399.04 L125.15,400.26 L125.43,401.49 L125.71,402.71 L126.00,403.93 L126.28,405.15 L126.57,406.37 L126.86,407.59 L127.15,408.81 L127.45,410.03 L127.75,411.24 L128.05,412.46 L128.35,413.68 L128.66,414.89 L128.97,416.11 L129.29,417.32 L129.60,418.53 L129.92,419.74 L130.25,420.95 L130.58,422.16 L130.91,423.37 L131.24,424.58 L131.58,425.79 L131.93,426.99 L132.27,428.20 L132.62,429.40 L132.98,430.60 L133.34,431.81 L133.70,433.01 L134.07,434.21 L134.44,435.41 L134.82,436.61 L135.20,437.80 L135.59,439.00 L135.98,440.19 L136.38,441.38 L136.78,442.57 L137.18,443.76 L137.59,444.95 L138.00,446.13 L138.42,447.31 L138.85,448.50 L139.28,449.67 L139.71,450.85 L140.15,452.02 L140.60,453.20 L141.05,454.37 L141.50,455.53 L141.96,456.70 L142.43,457.86 L142.90,459.02 L143.37,460.17 L143.85,461.33 L144.34,462.48 L144.83,463.63 L145.32,464.78 L145.82,465.92 L146.32,467.07 L146.82,468.21 L147.32,469.35 L147.83,470.50 L148.33,471.64 L148.83,472.79 L149.33,473.93 L149.83,475.08 L150.33,476.23 L150.82,477.38 L151.31,478.53 L151.80,479.69 L152.28,480.85 L152.76,482.01 L153.23,483.18 L153.69,484.35 L154.15,485.52 L154.60,486.70 L155.04,487.89 L155.47,489.08 L155.90,490.27 L156.31,491.48 L156.73,492.68 L157.15,493.87 L157.59,495.06 L158.06,496.23 L158.56,497.38 L159.09,498.50 L159.68,499.60 L160.33,500.66 L161.03,501.68 L161.80,502.67 L162.61,503.63 L163.45,504.57 L164.30,505.50 L164.39,504.25 L164.48,503.00 L164.56,501.75 L164.65,500.50 L164.73,499.24 L164.82,497.99 L164.90,496.74 L164.98,495.49 L165.06,494.24 L165.13,492.99 L165.21,491.73 L165.27,490.48 L165.34,489.23 L165.40,487.98 L165.46,486.72 L165.52,485.47 L165.57,484.22 L165.62,482.97 L165.67,481.71 L165.72,480.46 L165.76,479.21 L165.80,477.95 L165.84,476.70 L165.88,475.45 L165.92,474.19 L165.95,472.94 L165.99,471.68 L166.02,470.43 L166.06,469.18 L166.09,467.92 L166.12,466.67 L166.16,465.42 L166.19,464.16 L166.22,462.91 L166.25,461.65 L166.29,460.40 L166.32,459.15 L166.36,457.89 L166.40,456.64 L166.43,455.39 L166.47,454.13 L166.51,452.88 L166.55,451.63 L166.59,450.37 L166.63,449.12 L166.67,447.87 L166.71,446.61 L166.75,445.36 L166.79,444.11 L166.83,442.85 L166.86,441.60 L166.90,440.34 L166.94,439.09 L166.98,437.84 L167.02,436.58 L167.05,435.33 L167.09,434.08 L167.12,432.82 L167.16,431.57 L167.19,430.31 L167.22,429.06 L167.26,427.81 L167.29,426.55 L167.31,425.30 L167.34,424.04 L167.37,422.79 L167.40,421.54 L167.43,420.28 L167.46,419.03 L167.49,417.77 L167.52,416.52 L167.55,415.26 L167.58,414.01 L167.61,412.76 L167.64,411.50 L167.67,410.25 L167.71,408.99 L167.74,407.74 L167.78,406.49 L167.82,405.23 L167.86,403.98 L167.91,402.73 L167.95,401.47 L168.00,400.22 L168.05,398.97 L168.10,397.71 L168.16,396.46 L168.22,395.21 L168.28,393.96 L168.35,392.71 L168.42,391.45 L168.49,390.20 L168.56,388.95 L168.64,387.70 L168.73,386.45 L168.81,385.20 L168.90,383.95 L169.00,382.70 L169.09,381.45 L169.19,380.20 L169.29,378.95 L169.39,377.70 L169.50,376.45 L169.61,375.20 L169.72,373.96 L169.83,372.71 L169.94,371.46 L170.05,370.21 L170.17,368.96 L170.28,367.71 L170.40,366.46 L170.51,365.21 L170.63,363.96 L170.75,362.71 L170.86,361.46 L170.98,360.21 L171.10,358.96 L171.21,357.71 L171.33,356.46 L171.44,355.20 L171.56,353.95 L171.67,352.70 L171.79,351.45 L171.90,350.20 L172.01,348.95 L172.13,347.70 L172.24,346.44 L172.35,345.19 L172.46,343.94 L172.56,342.69 L172.67,341.44 L172.78,340.19 L172.88,338.95 L172.99,337.70 L173.09,336.45 L173.19,335.20 L173.29,333.96 L173.39,332.71 L173.49,331.46 L173.58,330.22 L173.68,328.98 L173.77,327.73 L173.86,326.49 L173.95,325.25 L174.05,324.01 L174.14,322.77 L174.23,321.52 L174.32,320.28 L174.41,319.04 L174.51,317.79 L174.60,316.55 L174.70,315.30 L174.80,314.05 L174.90,312.80 L175.00,311.55 L175.11,310.30 L175.22,309.04 L175.33,307.78 L175.45,306.52 L175.57,305.26 L175.70,303.99 L175.83,302.72 L175.96,301.44 L176.10,300.17 L176.25,298.89 L176.40,297.61 L176.55,296.33 L176.70,295.05 L176.85,293.78 L177.01,292.50 L177.17,291.23 L177.33,289.96 L177.48,288.70 L177.64,287.45 L177.80,286.19 L177.96,284.95 L178.11,283.71 L178.27,282.49 L178.42,281.27 L178.57,280.06 L178.72,278.87 L178.86,277.68 L179.00,276.51 L179.13,275.35 L179.26,274.20 L179.39,273.07 L179.52,271.93 L179.66,270.80 L179.82,269.66 L179.99,268.51 L180.18,267.35 L180.39,266.17 L180.64,264.96 L180.91,263.73 L181.22,262.47 L181.58,261.17 L181.97,259.83 L182.42,258.44 L182.92,257.01 L183.47,255.52 L184.07,254.08 L184.68,252.83 L185.29,251.91 L185.87,251.48 L186.41,251.62 L186.90,252.27 L187.35,253.33 L187.77,254.72 L188.16,256.32 L188.52,258.06 L188.87,259.84 L189.20,261.58 L189.52,263.25 L189.82,264.87 L190.11,266.42 L190.39,267.93 L190.66,269.38 L190.92,270.79 L191.17,272.15 L191.41,273.48 L191.64,274.76 L191.87,276.01 L192.08,277.22 L192.29,278.40 L192.49,279.56 L192.69,280.69 L192.88,281.80 L193.07,282.90 L193.25,283.98 L193.43,285.04 L193.61,286.10 L193.79,287.14 L193.96,288.19 L194.14,289.23 L194.31,290.27 L194.49,291.32 L194.66,292.38 L194.84,293.45 L195.02,294.53 L195.20,295.63 L195.39,296.74 L195.58,297.87 L195.77,299.01 L195.97,300.17 L196.17,301.35 L196.37,302.53 L196.57,303.73 L196.78,304.94 L196.98,306.16 L197.20,307.39 L197.41,308.63 L197.62,309.88 L197.84,311.14 L198.06,312.40 L198.28,313.67 L198.50,314.94 L198.72,316.21 L198.95,317.49 L199.18,318.78 L199.40,320.06 L199.63,321.35 L199.86,322.63 L200.09,323.92 L200.32,325.20 L200.56,326.48 L200.79,327.76 L201.02,329.03 L201.26,330.30 L201.49,331.57 L201.73,332.83 L201.96,334.08 L202.20,335.33 L202.43,336.58 L202.67,337.82 L202.90,339.06 L203.14,340.30 L203.38,341.53 L203.61,342.76 L203.85,343.99 L204.09,345.22 L204.33,346.44 L204.57,347.66 L204.81,348.88 L205.05,350.10 L205.28,351.32 L205.52,352.54 L205.76,353.76 L206.01,354.97 L206.25,356.19 L206.49,357.41 L206.73,358.63 L206.97,359.85 L207.21,361.07 L207.45,362.29 L207.70,363.52 L207.94,364.74 L208.18,365.97 L208.43,367.19 L208.67,368.42 L208.92,369.65 L209.16,370.88 L209.41,372.11 L209.66,373.34 L209.91,374.57 L210.15,375.80 L210.40,377.03 L210.65,378.26 L210.91,379.49 L211.16,380.73 L211.41,381.96 L211.67,383.19 L211.92,384.42 L212.18,385.65 L212.44,386.88 L212.70,388.11 L212.96,389.34 L213.22,390.57 L213.49,391.80 L213.75,393.03 L214.02,394.26 L214.29,395.48 L214.56,396.71 L214.83,397.94 L215.10,399.16 L215.38,400.38 L215.66,401.61 L215.94,402.83 L216.22,404.05 L216.51,405.27 L216.80,406.49 L217.09,407.71 L217.38,408.93 L217.68,410.15 L217.97,411.37 L218.28,412.59 L218.58,413.80 L218.89,415.02 L219.20,416.23 L219.51,417.44 L219.83,418.66 L220.15,419.87 L220.48,421.08 L220.81,422.29 L221.14,423.50 L221.48,424.71 L221.82,425.91 L222.16,427.12 L222.51,428.32 L222.86,429.53 L223.22,430.73 L223.58,431.93 L223.94,433.14 L224.31,434.34 L224.69,435.54 L225.07,436.73 L225.45,437.93 L225.84,439.12 L226.23,440.32 L226.63,441.51 L227.03,442.70 L227.43,443.89 L227.85,445.07 L228.26,446.26 L228.68,447.44 L229.11,448.62 L229.54,449.80 L229.97,450.98 L230.41,452.15 L230.85,453.32 L231.30,454.49 L231.76,455.66 L232.22,456.83 L232.68,457.99 L233.15,459.15 L233.63,460.31 L234.11,461.46 L234.59,462.61 L235.08,463.76 L235.57,464.91 L236.06,466.06 L236.56,467.20 L237.06,468.35 L237.56,469.49 L238.06,470.64 L238.56,471.78 L239.06,472.93 L239.56,474.08 L240.05,475.22 L240.55,476.37 L241.04,477.53 L241.53,478.68 L242.02,479.84 L242.50,481.00 L242.98,482.16 L243.45,483.32 L243.92,484.50 L244.38,485.67 L244.83,486.85 L245.28,488.03 L245.72,489.22 L246.15,490.42 L246.58,491.62 L247.00,492.82 L247.44,494.01 L247.90,495.19 L248.38,496.35 L248.89,497.50 L249.45,498.61 L250.06,499.70 L250.72,500.74 L251.45,501.75 L252.24,502.72 L253.07,503.66 L253.93,504.59 L254.80,505.50 L254.89,504.25 L254.98,503.00 L255.06,501.74 L255.15,500.49 L255.23,499.24 L255.32,497.99 L255.40,496.73 L255.48,495.48 L255.56,494.23 L255.63,492.98 L255.71,491.72 L255.77,490.47 L255.84,489.22 L255.90,487.96 L255.96,486.71 L256.02,485.46 L256.07,484.20 L256.12,482.95 L256.17,481.70 L256.22,480.44 L256.26,479.19 L256.30,477.93 L256.34,476.68 L256.38,475.42 L256.42,474.17 L256.45,472.91 L256.49,471.66 L256.52,470.40 L256.56,469.15 L256.59,467.90 L256.62,466.64 L256.66,465.39 L256.69,464.13 L256.72,462.88 L256.76,461.62 L256.79,460.37 L256.82,459.11 L256.86,457.86 L256.90,456.60 L256.93,455.35 L256.97,454.09 L257.01,452.84 L257.05,451.59 L257.09,450.33 L257.13,449.08 L257.17,447.82 L257.21,446.57 L257.25,445.31 L257.29,444.06 L257.33,442.81 L257.37,441.55 L257.40,440.30 L257.44,439.04 L257.48,437.79 L257.52,436.53 L257.56,435.28 L257.59,434.02 L257.63,432.77 L257.66,431.51 L257.69,430.26 L257.73,429.00 L257.76,427.75 L257.79,426.49 L257.82,425.24 L257.85,423.98 L257.87,422.73 L257.90,421.47 L257.93,420.22 L257.96,418.96 L257.99,417.71 L258.02,416.45 L258.05,415.20 L258.08,413.94 L258.11,412.69 L258.14,411.43 L258.17,410.18 L258.21,408.92 L258.25,407.67 L258.28,406.41 L258.32,405.16 L258.36,403.90 L258.41,402.65 L258.45,401.40 L258.50,400.14 L258.55,398.89 L258.61,397.64 L258.66,396.38 L258.72,395.13 L258.78,393.88 L258.85,392.62 L258.92,391.37 L258.99,390.12 L259.07,388.87 L259.15,387.62 L259.23,386.36 L259.32,385.11 L259.41,383.86 L259.50,382.61 L259.60,381.36 L259.70,380.11 L259.80,378.86 L259.90,377.61 L260.01,376.36 L260.12,375.11 L260.22,373.86 L260.33,372.61 L260.45,371.36 L260.56,370.11 L260.67,368.86 L260.79,367.61 L260.91,366.36 L261.02,365.11 L261.14,363.86 L261.26,362.60 L261.37,361.35 L261.49,360.10 L261.61,358.85 L261.72,357.60 L261.84,356.35 L261.96,355.09 L262.07,353.84 L262.18,352.59 L262.30,351.34 L262.41,350.08 L262.52,348.83 L262.64,347.58 L262.75,346.33 L262.86,345.08 L262.97,343.83 L263.07,342.57 L263.18,341.32 L263.29,340.07 L263.39,338.82 L263.50,337.57 L263.60,336.33 L263.70,335.08 L263.80,333.83 L263.90,332.58 L264.00,331.34 L264.09,330.09 L264.19,328.85 L264.28,327.60 L264.37,326.36 L264.46,325.12 L264.56,323.88 L264.65,322.63 L264.74,321.39 L264.83,320.15 L264.92,318.90 L265.02,317.66 L265.11,316.41 L265.21,315.16 L265.31,313.91 L265.41,312.66 L265.52,311.41 L265.62,310.15 L265.73,308.89 L265.85,307.63 L265.97,306.37 L266.09,305.11 L266.21,303.84 L266.35,302.57 L266.48,301.29 L266.62,300.01 L266.77,298.73 L266.91,297.46 L267.06,296.18 L267.22,294.90 L267.37,293.62 L267.53,292.34 L267.69,291.07 L267.85,289.81 L268.00,288.54 L268.16,287.29 L268.32,286.03 L268.48,284.79 L268.64,283.56 L268.79,282.33 L268.94,281.11 L269.09,279.90 L269.23,278.71 L269.38,277.52 L269.51,276.35 L269.65,275.19 L269.78,274.05 L269.91,272.91 L270.04,271.78 L270.18,270.64 L270.34,269.50 L270.51,268.35 L270.71,267.19 L270.93,266.00 L271.17,264.79 L271.45,263.56 L271.77,262.29 L272.13,260.98 L272.53,259.63 L272.99,258.24 L273.49,256.79 L274.05,255.30 L274.66,253.88 L275.27,252.67 L275.88,251.81 L276.45,251.46 L276.98,251.69 L277.47,252.41 L277.92,253.52 L278.33,254.95 L278.72,256.58 L279.08,258.34 L279.42,260.12 L279.75,261.84 L280.07,263.51 L280.37,265.11 L280.66,266.66 L280.94,268.16 L281.21,269.61 L281.46,271.01 L281.71,272.37 L281.95,273.68 L282.18,274.96 L282.40,276.20 L282.62,277.41 L282.82,278.60 L283.03,279.75 L283.22,280.88 L283.41,281.99 L283.60,283.08 L283.78,284.15 L283.96,285.22 L284.14,286.27 L284.32,287.32 L284.49,288.37 L284.67,289.41 L284.84,290.46 L285.02,291.51 L285.19,292.57 L285.37,293.64 L285.55,294.72 L285.74,295.82 L285.92,296.94 L286.11,298.07 L286.31,299.22 L286.50,300.38 L286.70,301.56 L286.90,302.75 L287.11,303.95 L287.31,305.16 L287.52,306.39 L287.73,307.62 L287.95,308.86 L288.16,310.11 L288.38,311.37 L288.60,312.63 L288.82,313.90 L289.04,315.18 L289.27,316.46 L289.49,317.74 L289.72,319.02 L289.95,320.31 L290.18,321.59 L290.41,322.88 L290.64,324.16 L290.87,325.45 L291.10,326.73 L291.33,328.01 L291.57,329.28 L291.80,330.55 L292.04,331.82 L292.27,333.08 L292.51,334.33 L292.74,335.58 L292.98,336.83 L293.21,338.07 L293.45,339.31 L293.69,340.55 L293.92,341.78 L294.16,343.01 L294.40,344.24 L294.64,345.47 L294.88,346.69 L295.12,347.91 L295.36,349.14 L295.59,350.36 L295.83,351.58 L296.07,352.79 L296.31,354.01 L296.56,355.23 L296.80,356.45 L297.04,357.67 L297.28,358.89 L297.52,360.11 L297.76,361.33 L298.01,362.56 L298.25,363.78 L298.49,365.01 L298.74,366.23 L298.98,367.46 L299.23,368.69 L299.47,369.92 L299.72,371.15 L299.97,372.38 L300.21,373.61 L300.46,374.84 L300.71,376.07 L300.96,377.31 L301.21,378.54 L301.47,379.77 L301.72,381.00 L301.97,382.24 L302.23,383.47 L302.48,384.70 L302.74,385.93 L303.00,387.17 L303.26,388.40 L303.52,389.63 L303.78,390.86 L304.05,392.09 L304.31,393.32 L304.58,394.54 L304.85,395.77 L305.12,397.00 L305.39,398.23 L305.67,399.45 L305.94,400.68 L306.22,401.90 L306.50,403.12 L306.78,404.35 L307.07,405.57 L307.36,406.79 L307.65,408.01 L307.94,409.23 L308.24,410.45 L308.54,411.67 L308.84,412.89 L309.15,414.10 L309.46,415.32 L309.77,416.53 L310.08,417.75 L310.40,418.96 L310.73,420.17 L311.05,421.38 L311.38,422.59 L311.72,423.80 L312.06,425.01 L312.40,426.22 L312.75,427.43 L313.10,428.63 L313.45,429.84 L313.81,431.04 L314.18,432.24 L314.54,433.44 L314.92,434.64 L315.30,435.84 L315.68,437.04 L316.06,438.24 L316.46,439.43 L316.85,440.63 L317.25,441.82 L317.66,443.01 L318.06,444.20 L318.48,445.38 L318.90,446.57 L319.32,447.75 L319.74,448.93 L320.18,450.11 L320.61,451.29 L321.05,452.46 L321.50,453.64 L321.94,454.81 L322.40,455.98 L322.86,457.14 L323.32,458.30 L323.78,459.47 L324.25,460.62 L324.73,461.78 L325.21,462.93 L325.69,464.09 L326.18,465.24 L326.66,466.39 L327.15,467.53 L327.64,468.68 L328.14,469.83 L328.63,470.98 L329.13,472.13 L329.62,473.27 L330.11,474.42 L330.61,475.57 L331.10,476.72 L331.59,477.88 L332.08,479.03 L332.57,480.19 L333.05,481.35 L333.54,482.52 L334.01,483.68 L334.49,484.85 L334.96,486.03 L335.42,487.21 L335.88,488.39 L336.34,489.58 L336.79,490.77 L337.24,491.96 L337.69,493.15 L338.16,494.33 L338.65,495.50 L339.17,496.65 L339.73,497.77 L340.33,498.86 L340.99,499.92 L341.70,500.93 L342.48,501.90 L343.31,502.84 L344.18,503.74 L345.08,504.62 L346.00,505.50 L346.09,504.25 L346.18,503.00 L346.26,501.74 L346.35,500.49 L346.43,499.24 L346.52,497.99 L346.60,496.73 L346.68,495.48 L346.76,494.23 L346.83,492.98 L346.91,491.72 L346.97,490.47 L347.04,489.22 L347.10,487.96 L347.16,486.71 L347.22,485.46 L347.27,484.20 L347.32,482.95 L347.37,481.69 L347.42,480.44 L347.46,479.18 L347.50,477.93 L347.54,476.68 L347.58,475.42 L347.62,474.17 L347.65,472.91 L347.69,471.66 L347.72,470.40 L347.76,469.15 L347.79,467.89 L347.82,466.64 L347.86,465.38 L347.89,464.13 L347.92,462.87 L347.96,461.62 L347.99,460.36 L348.03,459.11 L348.06,457.85 L348.10,456.60 L348.14,455.34 L348.17,454.09 L348.21,452.83 L348.25,451.58 L348.29,450.33 L348.33,449.07 L348.37,447.82 L348.41,446.56 L348.45,445.31 L348.49,444.05 L348.53,442.80 L348.57,441.54 L348.60,440.29 L348.64,439.04 L348.68,437.78 L348.72,436.53 L348.76,435.27 L348.79,434.02 L348.83,432.76 L348.86,431.51 L348.89,430.25 L348.93,429.00 L348.96,427.74 L348.99,426.49 L349.02,425.23 L349.05,423.98 L349.07,422.72 L349.10,421.46 L349.13,420.21 L349.16,418.95 L349.19,417.70 L349.22,416.44 L349.25,415.19 L349.28,413.93 L349.31,412.68 L349.34,411.42 L349.37,410.17 L349.41,408.91 L349.45,407.66 L349.48,406.40 L349.52,405.15 L349.56,403.89 L349.61,402.64 L349.65,401.38 L349.70,400.13 L349.75,398.88 L349.81,397.62 L349.86,396.37 L349.92,395.12 L349.99,393.86 L350.05,392.61 L350.12,391.36 L350.19,390.11 L350.27,388.85 L350.35,387.60 L350.43,386.35 L350.52,385.10 L350.61,383.85 L350.71,382.60 L350.80,381.35 L350.90,380.10 L351.00,378.85 L351.10,377.60 L351.21,376.35 L351.32,375.10 L351.43,373.85 L351.54,372.60 L351.65,371.34 L351.76,370.09 L351.88,368.84 L351.99,367.59 L352.11,366.34 L352.22,365.09 L352.34,363.84 L352.46,362.59 L352.57,361.34 L352.69,360.09 L352.81,358.83 L352.93,357.58 L353.04,356.33 L353.16,355.08 L353.27,353.83 L353.39,352.57 L353.50,351.32 L353.61,350.07 L353.73,348.82 L353.84,347.56 L353.95,346.31 L354.06,345.06 L354.17,343.81 L354.28,342.56 L354.38,341.31 L354.49,340.06 L354.59,338.81 L354.70,337.56 L354.80,336.31 L354.90,335.06 L355.00,333.81 L355.10,332.57 L355.20,331.32 L355.29,330.07 L355.39,328.83 L355.48,327.59 L355.57,326.34 L355.67,325.10 L355.76,323.86 L355.85,322.61 L355.94,321.37 L356.03,320.13 L356.13,318.88 L356.22,317.64 L356.31,316.39 L356.41,315.14 L356.51,313.89 L356.61,312.64 L356.72,311.39 L356.82,310.13 L356.94,308.87 L357.05,307.61 L357.17,306.35 L357.29,305.08 L357.42,303.82 L357.55,302.54 L357.68,301.27 L357.82,299.99 L357.97,298.71 L358.12,297.43 L358.27,296.15 L358.42,294.87 L358.57,293.60 L358.73,292.32 L358.89,291.05 L359.05,289.78 L359.21,288.52 L359.37,287.26 L359.52,286.01 L359.68,284.77 L359.84,283.53 L359.99,282.30 L360.14,281.09 L360.29,279.88 L360.44,278.68 L360.58,277.50 L360.72,276.33 L360.85,275.17 L360.98,274.03 L361.11,272.89 L361.24,271.75 L361.39,270.62 L361.54,269.48 L361.72,268.33 L361.91,267.16 L362.13,265.98 L362.38,264.77 L362.66,263.53 L362.98,262.26 L363.34,260.95 L363.74,259.60 L364.20,258.21 L364.70,256.76 L365.27,255.27 L365.87,253.85 L366.48,252.64 L367.09,251.80 L367.67,251.46 L368.19,251.70 L368.68,252.43 L369.13,253.55 L369.54,254.98 L369.92,256.62 L370.29,258.38 L370.63,260.16 L370.96,261.88 L371.27,263.54 L371.58,265.15 L371.87,266.70 L372.14,268.20 L372.41,269.64 L372.67,271.04 L372.92,272.40 L373.15,273.72 L373.38,274.99 L373.61,276.23 L373.82,277.44 L374.03,278.62 L374.23,279.78 L374.43,280.91 L374.62,282.01 L374.80,283.11 L374.99,284.18 L375.17,285.24 L375.35,286.30 L375.52,287.35 L375.70,288.39 L375.87,289.44 L376.05,290.48 L376.22,291.53 L376.40,292.59 L376.58,293.66 L376.76,294.75 L376.94,295.85 L377.13,296.97 L377.32,298.10 L377.51,299.25 L377.71,300.41 L377.91,301.59 L378.11,302.78 L378.31,303.98 L378.52,305.20 L378.73,306.42 L378.94,307.65 L379.15,308.90 L379.37,310.15 L379.59,311.40 L379.80,312.67 L380.03,313.94 L380.25,315.21 L380.47,316.49 L380.70,317.77 L380.92,319.06 L381.15,320.34 L381.38,321.63 L381.61,322.92 L381.84,324.20 L382.08,325.49 L382.31,326.77 L382.54,328.05 L382.77,329.32 L383.01,330.59 L383.24,331.85 L383.48,333.11 L383.71,334.37 L383.95,335.62 L384.18,336.87 L384.42,338.11 L384.66,339.35 L384.89,340.59 L385.13,341.82 L385.37,343.05 L385.61,344.28 L385.85,345.50 L386.08,346.73 L386.32,347.95 L386.56,349.17 L386.80,350.39 L387.04,351.61 L387.28,352.83 L387.52,354.05 L387.76,355.27 L388.00,356.49 L388.25,357.71 L388.49,358.93 L388.73,360.15 L388.97,361.37 L389.21,362.59 L389.46,363.82 L389.70,365.05 L389.95,366.27 L390.19,367.50 L390.43,368.73 L390.68,369.96 L390.93,371.19 L391.17,372.42 L391.42,373.65 L391.67,374.88 L391.92,376.11 L392.17,377.35 L392.42,378.58 L392.67,379.81 L392.93,381.05 L393.18,382.28 L393.44,383.51 L393.69,384.74 L393.95,385.98 L394.21,387.21 L394.47,388.44 L394.73,389.67 L394.99,390.90 L395.26,392.13 L395.52,393.36 L395.79,394.59 L396.06,395.82 L396.33,397.04 L396.60,398.27 L396.87,399.49 L397.15,400.72 L397.43,401.94 L397.71,403.17 L397.99,404.39 L398.28,405.61 L398.57,406.83 L398.86,408.06 L399.15,409.28 L399.45,410.49 L399.75,411.71 L400.05,412.93 L400.36,414.15 L400.67,415.36 L400.98,416.58 L401.30,417.79 L401.61,419.01 L401.94,420.22 L402.26,421.43 L402.60,422.64 L402.93,423.85 L403.27,425.06 L403.61,426.27 L403.96,427.47 L404.31,428.68 L404.66,429.88 L405.03,431.09 L405.39,432.29 L405.76,433.49 L406.13,434.69 L406.51,435.89 L406.89,437.09 L407.28,438.28 L407.67,439.48 L408.07,440.67 L408.47,441.86 L408.87,443.05 L409.28,444.24 L409.70,445.43 L410.12,446.61 L410.54,447.80 L410.96,448.98 L411.40,450.16 L411.83,451.33 L412.27,452.51 L412.72,453.68 L413.16,454.85 L413.62,456.02 L414.08,457.19 L414.54,458.35 L415.00,459.51 L415.47,460.67 L415.95,461.83 L416.43,462.98 L416.91,464.13 L417.39,465.28 L417.88,466.43 L418.37,467.58 L418.86,468.73 L419.35,469.88 L419.84,471.03 L420.34,472.18 L420.83,473.32 L421.32,474.47 L421.82,475.62 L422.31,476.78 L422.80,477.93 L423.29,479.09 L423.78,480.24 L424.26,481.40 L424.74,482.57 L425.22,483.74 L425.70,484.91 L426.17,486.08 L426.64,487.26 L427.10,488.44 L427.56,489.63 L428.01,490.82 L428.46,492.01 L428.92,493.20 L429.40,494.38 L429.89,495.55 L430.42,496.69 L430.98,497.81 L431.59,498.90 L432.25,499.95 L432.97,500.96 L433.75,501.92 L434.59,502.85 L435.47,503.75 L436.38,504.63 L437.30,505.50 L437.39,504.25 L437.48,503.00 L437.56,501.75 L437.65,500.49 L437.73,499.24 L437.82,497.99 L437.90,496.74 L437.98,495.49 L438.06,494.23 L438.13,492.98 L438.21,491.73 L438.27,490.48 L438.34,489.22 L438.40,487.97 L438.46,486.72 L438.52,485.47 L438.57,484.21 L438.62,482.96 L438.67,481.71 L438.72,480.45 L438.76,479.20 L438.80,477.94 L438.84,476.69 L438.88,475.44 L438.92,474.18 L438.95,472.93 L438.99,471.67 L439.02,470.42 L439.06,469.17 L439.09,467.91 L439.12,466.66 L439.16,465.40 L439.19,464.15 L439.22,462.89 L439.26,461.64 L439.29,460.39 L439.32,459.13 L439.36,457.88 L439.40,456.62 L439.43,455.37 L439.47,454.12 L439.51,452.86 L439.55,451.61 L439.59,450.36 L439.63,449.10 L439.67,447.85 L439.71,446.59 L439.75,445.34 L439.79,444.09 L439.83,442.83 L439.87,441.58 L439.90,440.32 L439.94,439.07 L439.98,437.82 L440.02,436.56 L440.05,435.31 L440.09,434.05 L440.13,432.80 L440.16,431.55 L440.19,430.29 L440.22,429.04 L440.26,427.78 L440.29,426.53 L440.32,425.27 L440.34,424.02 L440.37,422.76 L440.40,421.51 L440.43,420.25 L440.46,419.00 L440.49,417.75 L440.52,416.49 L440.55,415.24 L440.58,413.98 L440.61,412.73 L440.64,411.47 L440.67,410.22 L440.71,408.96 L440.74,407.71 L440.78,406.46 L440.82,405.20 L440.86,403.95 L440.91,402.69 L440.95,401.44 L441.00,400.19 L441.05,398.93 L441.10,397.68 L441.16,396.43 L441.22,395.18 L441.28,393.92 L441.35,392.67 L441.42,391.42 L441.49,390.17 L441.57,388.92 L441.65,387.67 L441.73,386.41 L441.82,385.16 L441.91,383.91 L442.00,382.66 L442.10,381.41 L442.19,380.16 L442.30,378.91 L442.40,377.66 L442.50,376.41 L442.61,375.16 L442.72,373.92 L442.83,372.67 L442.94,371.42 L443.06,370.17 L443.17,368.92 L443.28,367.67 L443.40,366.42 L443.52,365.17 L443.63,363.92 L443.75,362.67 L443.87,361.41 L443.98,360.16 L444.10,358.91 L444.22,357.66 L444.33,356.41 L444.45,355.16 L444.56,353.91 L444.68,352.65 L444.79,351.40 L444.91,350.15 L445.02,348.90 L445.13,347.65 L445.24,346.40 L445.35,345.14 L445.46,343.89 L445.57,342.64 L445.68,341.39 L445.78,340.14 L445.89,338.89 L445.99,337.65 L446.09,336.40 L446.19,335.15 L446.30,333.90 L446.39,332.66 L446.49,331.41 L446.59,330.17 L446.68,328.92 L446.77,327.68 L446.87,326.44 L446.96,325.19 L447.05,323.95 L447.14,322.71 L447.23,321.47 L447.32,320.22 L447.42,318.98 L447.51,317.73 L447.61,316.49 L447.70,315.24 L447.80,313.99 L447.90,312.74 L448.01,311.49 L448.12,310.24 L448.23,308.98 L448.34,307.72 L448.46,306.46 L448.58,305.19 L448.71,303.92 L448.84,302.65 L448.97,301.38 L449.11,300.10 L449.26,298.82 L449.40,297.54 L449.55,296.27 L449.71,294.99 L449.86,293.71 L450.02,292.44 L450.18,291.16 L450.33,289.90 L450.49,288.63 L450.65,287.38 L450.81,286.13 L450.97,284.88 L451.12,283.65 L451.28,282.42 L451.43,281.20 L451.58,280.00 L451.72,278.80 L451.87,277.61 L452.00,276.44 L452.14,275.28 L452.27,274.14 L452.40,273.00 L452.53,271.87 L452.67,270.73 L452.83,269.59 L453.00,268.44 L453.19,267.28 L453.41,266.10 L453.65,264.89 L453.93,263.66 L454.24,262.39 L454.60,261.09 L455.00,259.75 L455.45,258.36 L455.95,256.92 L456.51,255.43 L457.10,254.00 L457.72,252.76 L458.33,251.87 L458.91,251.47 L459.44,251.65 L459.93,252.33 L460.38,253.41 L460.80,254.81 L461.18,256.43 L461.55,258.18 L461.89,259.96 L462.22,261.69 L462.54,263.36 L462.84,264.97 L463.13,266.53 L463.41,268.03 L463.68,269.48 L463.94,270.88 L464.19,272.24 L464.43,273.56 L464.66,274.84 L464.88,276.09 L465.10,277.30 L465.30,278.48 L465.51,279.64 L465.70,280.77 L465.89,281.88 L466.08,282.97 L466.27,284.05 L466.45,285.12 L466.62,286.17 L466.80,287.22 L466.98,288.26 L467.15,289.31 L467.33,290.35 L467.50,291.40 L467.68,292.46 L467.85,293.53 L468.03,294.61 L468.22,295.71 L468.40,296.82 L468.59,297.95 L468.79,299.10 L468.98,300.26 L469.18,301.44 L469.38,302.63 L469.59,303.83 L469.79,305.04 L470.00,306.26 L470.21,307.49 L470.42,308.73 L470.64,309.98 L470.86,311.24 L471.08,312.50 L471.30,313.77 L471.52,315.04 L471.74,316.32 L471.97,317.60 L472.19,318.88 L472.42,320.17 L472.65,321.45 L472.88,322.74 L473.11,324.02 L473.34,325.31 L473.57,326.59 L473.81,327.87 L474.04,329.14 L474.28,330.41 L474.51,331.67 L474.74,332.93 L474.98,334.19 L475.22,335.44 L475.45,336.69 L475.69,337.93 L475.92,339.17 L476.16,340.41 L476.40,341.64 L476.63,342.87 L476.87,344.10 L477.11,345.32 L477.35,346.55 L477.59,347.77 L477.83,348.99 L478.07,350.21 L478.31,351.43 L478.55,352.65 L478.79,353.86 L479.03,355.08 L479.27,356.30 L479.51,357.52 L479.75,358.74 L479.99,359.96 L480.23,361.18 L480.48,362.40 L480.72,363.63 L480.96,364.85 L481.21,366.08 L481.45,367.31 L481.70,368.53 L481.94,369.76 L482.19,370.99 L482.43,372.22 L482.68,373.45 L482.93,374.68 L483.18,375.92 L483.43,377.15 L483.68,378.38 L483.93,379.61 L484.18,380.84 L484.44,382.08 L484.69,383.31 L484.95,384.54 L485.21,385.77 L485.46,387.00 L485.72,388.23 L485.99,389.46 L486.25,390.69 L486.51,391.92 L486.78,393.15 L487.04,394.38 L487.31,395.61 L487.58,396.83 L487.86,398.06 L488.13,399.28 L488.41,400.51 L488.68,401.73 L488.97,402.95 L489.25,404.18 L489.53,405.40 L489.82,406.62 L490.11,407.84 L490.41,409.06 L490.70,410.28 L491.00,411.50 L491.30,412.71 L491.61,413.93 L491.92,415.14 L492.23,416.36 L492.54,417.57 L492.86,418.78 L493.18,420.00 L493.51,421.21 L493.84,422.42 L494.17,423.63 L494.51,424.84 L494.85,426.04 L495.20,427.25 L495.55,428.45 L495.90,429.66 L496.26,430.86 L496.62,432.06 L496.99,433.27 L497.36,434.47 L497.73,435.67 L498.11,436.86 L498.50,438.06 L498.89,439.25 L499.28,440.45 L499.68,441.64 L500.08,442.83 L500.49,444.02 L500.90,445.20 L501.32,446.39 L501.74,447.57 L502.16,448.75 L502.60,449.93 L503.03,451.11 L503.47,452.28 L503.91,453.46 L504.36,454.63 L504.82,455.79 L505.28,456.96 L505.74,458.12 L506.21,459.28 L506.68,460.44 L507.16,461.60 L507.64,462.75 L508.13,463.90 L508.61,465.05 L509.10,466.20 L509.60,467.34 L510.09,468.49 L510.59,469.64 L511.09,470.78 L511.59,471.93 L512.08,473.07 L512.58,474.22 L513.08,475.37 L513.57,476.52 L514.06,477.67 L514.55,478.83 L515.04,479.99 L515.52,481.15 L516.00,482.31 L516.48,483.48 L516.95,484.65 L517.41,485.82 L517.87,487.00 L518.32,488.18 L518.77,489.37 L519.21,490.57 L519.64,491.76 L520.08,492.96 L520.53,494.15 L521.00,495.32 L521.50,496.48 L522.03,497.61 L522.61,498.72 L523.24,499.79 L523.92,500.82 L524.67,501.82 L525.48,502.77 L526.33,503.69 L527.21,504.60 L528.10,505.50 L528.19,504.25 L528.28,502.99 L528.36,501.74 L528.45,500.49 L528.53,499.24 L528.62,497.98 L528.70,496.73 L528.78,495.48 L528.86,494.22 L528.93,492.97 L529.01,491.71 L529.08,490.46 L529.14,489.21 L529.20,487.95 L529.26,486.70 L529.32,485.44 L529.37,484.19 L529.42,482.93 L529.47,481.68 L529.52,480.42 L529.56,479.17 L529.60,477.91 L529.64,476.66 L529.68,475.40 L529.72,474.15 L529.76,472.89 L529.79,471.64 L529.82,470.38 L529.86,469.13 L529.89,467.87 L529.92,466.62 L529.96,465.36 L529.99,464.10 L530.02,462.85 L530.06,461.59 L530.09,460.34 L530.13,459.08 L530.16,457.83 L530.20,456.57 L530.24,455.32 L530.27,454.06 L530.31,452.81 L530.35,451.55 L530.39,450.30 L530.43,449.04 L530.47,447.79 L530.51,446.53 L530.55,445.27 L530.59,444.02 L530.63,442.76 L530.67,441.51 L530.71,440.25 L530.74,439.00 L530.78,437.74 L530.82,436.49 L530.86,435.23 L530.89,433.98 L530.93,432.72 L530.96,431.47 L530.99,430.21 L531.03,428.95 L531.06,427.70 L531.09,426.44 L531.12,425.19 L531.15,423.93 L531.18,422.67 L531.20,421.42 L531.23,420.16 L531.26,418.91 L531.29,417.65 L531.32,416.39 L531.35,415.14 L531.38,413.88 L531.41,412.63 L531.44,411.37 L531.48,410.11 L531.51,408.86 L531.55,407.60 L531.59,406.35 L531.62,405.09 L531.67,403.84 L531.71,402.58 L531.76,401.33 L531.80,400.07 L531.86,398.82 L531.91,397.56 L531.97,396.31 L532.03,395.06 L532.09,393.80 L532.15,392.55 L532.22,391.30 L532.30,390.04 L532.37,388.79 L532.45,387.54 L532.54,386.29 L532.63,385.03 L532.72,383.78 L532.81,382.53 L532.91,381.28 L533.01,380.03 L533.11,378.78 L533.21,377.53 L533.32,376.28 L533.42,375.02 L533.53,373.77 L533.64,372.52 L533.75,371.27 L533.87,370.02 L533.98,368.77 L534.10,367.52 L534.21,366.27 L534.33,365.01 L534.45,363.76 L534.57,362.51 L534.68,361.26 L534.80,360.01 L534.92,358.75 L535.03,357.50 L535.15,356.25 L535.26,355.00 L535.38,353.74 L535.49,352.49 L535.61,351.24 L535.72,349.98 L535.83,348.73 L535.95,347.48 L536.06,346.22 L536.17,344.97 L536.28,343.72 L536.38,342.47 L536.49,341.22 L536.60,339.97 L536.70,338.71 L536.81,337.46 L536.91,336.22 L537.01,334.97 L537.11,333.72 L537.21,332.47 L537.31,331.22 L537.40,329.98 L537.50,328.73 L537.59,327.49 L537.68,326.25 L537.77,325.00 L537.86,323.76 L537.96,322.51 L538.05,321.27 L538.14,320.02 L538.23,318.78 L538.33,317.53 L538.42,316.29 L538.52,315.04 L538.62,313.79 L538.72,312.53 L538.83,311.28 L538.93,310.02 L539.05,308.77 L539.16,307.50 L539.28,306.24 L539.40,304.97 L539.53,303.70 L539.66,302.43 L539.80,301.15 L539.94,299.88 L540.08,298.60 L540.23,297.32 L540.38,296.04 L540.53,294.76 L540.69,293.48 L540.85,292.20 L541.00,290.93 L541.16,289.66 L541.32,288.40 L541.48,287.14 L541.64,285.89 L541.80,284.65 L541.95,283.41 L542.11,282.19 L542.26,280.97 L542.41,279.76 L542.55,278.57 L542.69,277.38 L542.83,276.21 L542.96,275.06 L543.09,273.91 L543.22,272.77 L543.36,271.64 L543.50,270.50 L543.66,269.36 L543.84,268.21 L544.03,267.04 L544.25,265.85 L544.51,264.64 L544.79,263.40 L545.11,262.12 L545.48,260.81 L545.89,259.45 L546.35,258.05 L546.86,256.60 L547.43,255.11 L548.04,253.70 L548.65,252.53 L549.26,251.73 L549.83,251.46 L550.35,251.76 L550.83,252.54 L551.27,253.70 L551.68,255.16 L552.07,256.82 L552.43,258.58 L552.77,260.36 L553.10,262.08 L553.41,263.73 L553.71,265.33 L554.00,266.88 L554.28,268.37 L554.54,269.81 L554.80,271.21 L555.05,272.56 L555.28,273.87 L555.51,275.14 L555.73,276.38 L555.95,277.59 L556.15,278.77 L556.35,279.92 L556.55,281.04 L556.74,282.15 L556.93,283.24 L557.11,284.32 L557.29,285.38 L557.47,286.43 L557.65,287.48 L557.82,288.53 L557.99,289.57 L558.17,290.62 L558.34,291.67 L558.52,292.73 L558.70,293.80 L558.88,294.89 L559.07,296.00 L559.25,297.12 L559.44,298.25 L559.64,299.40 L559.84,300.57 L560.03,301.75 L560.24,302.94 L560.44,304.15 L560.65,305.36 L560.86,306.59 L561.07,307.82 L561.28,309.07 L561.50,310.32 L561.72,311.58 L561.94,312.85 L562.16,314.12 L562.38,315.39 L562.60,316.67 L562.83,317.95 L563.06,319.24 L563.29,320.53 L563.51,321.81 L563.75,323.10 L563.98,324.39 L564.21,325.67 L564.44,326.95 L564.68,328.23 L564.91,329.51 L565.14,330.78 L565.38,332.04 L565.61,333.30 L565.85,334.56 L566.08,335.81 L566.32,337.05 L566.56,338.30 L566.79,339.54 L567.03,340.77 L567.27,342.01 L567.51,343.24 L567.74,344.47 L567.98,345.69 L568.22,346.92 L568.46,348.14 L568.70,349.36 L568.94,350.58 L569.18,351.80 L569.42,353.02 L569.66,354.24 L569.90,355.46 L570.14,356.68 L570.38,357.90 L570.63,359.12 L570.87,360.34 L571.11,361.57 L571.35,362.79 L571.60,364.02 L571.84,365.24 L572.09,366.47 L572.33,367.70 L572.58,368.93 L572.82,370.16 L573.07,371.39 L573.32,372.62 L573.56,373.86 L573.81,375.09 L574.06,376.32 L574.31,377.55 L574.57,378.79 L574.82,380.02 L575.07,381.25 L575.33,382.49 L575.58,383.72 L575.84,384.95 L576.09,386.19 L576.35,387.42 L576.61,388.65 L576.88,389.88 L577.14,391.11 L577.40,392.34 L577.67,393.57 L577.93,394.80 L578.20,396.03 L578.47,397.26 L578.75,398.49 L579.02,399.71 L579.30,400.94 L579.58,402.16 L579.86,403.39 L580.14,404.61 L580.43,405.84 L580.72,407.06 L581.01,408.28 L581.30,409.50 L581.60,410.72 L581.90,411.94 L582.20,413.16 L582.51,414.37 L582.82,415.59 L583.13,416.81 L583.45,418.02 L583.77,419.23 L584.09,420.45 L584.42,421.66 L584.75,422.87 L585.09,424.08 L585.43,425.29 L585.77,426.50 L586.12,427.70 L586.48,428.91 L586.83,430.11 L587.20,431.32 L587.56,432.52 L587.93,433.72 L588.31,434.92 L588.69,436.12 L589.08,437.32 L589.47,438.51 L589.86,439.71 L590.26,440.90 L590.66,442.09 L591.07,443.28 L591.48,444.47 L591.90,445.66 L592.32,446.84 L592.74,448.03 L593.17,449.21 L593.60,450.39 L594.04,451.57 L594.48,452.74 L594.92,453.92 L595.37,455.09 L595.82,456.26 L596.28,457.42 L596.74,458.59 L597.20,459.75 L597.67,460.91 L598.14,462.07 L598.61,463.22 L599.09,464.38 L599.57,465.53 L600.05,466.68 L600.53,467.83 L601.02,468.98 L601.51,470.13 L602.00,471.28 L602.49,472.43 L602.98,473.58 L603.47,474.74 L603.96,475.89 L604.45,477.04 L604.94,478.20 L605.43,479.35 L605.92,480.51 L606.41,481.67 L606.89,482.84 L607.38,484.00 L607.86,485.17 L608.34,486.35 L608.81,487.52 L609.29,488.70 L609.76,489.89 L610.22,491.08 L610.69,492.27 L611.17,493.45 L611.67,494.62 L612.19,495.77 L612.75,496.90 L613.34,498.01 L613.98,499.08 L614.67,500.11 L615.42,501.09 L616.24,502.03 L617.11,502.93 L618.02,503.80 L618.95,504.66 L619.90,505.50 L619.99,504.25 L620.08,503.00 L620.16,501.74 L620.25,500.49 L620.33,499.24 L620.42,497.99 L620.50,496.73 L620.58,495.48 L620.66,494.23 L620.73,492.98 L620.81,491.72 L620.87,490.47 L620.94,489.22 L621.00,487.96 L621.06,486.71 L621.12,485.46 L621.17,484.20 L621.22,482.95 L621.27,481.70 L621.32,480.44 L621.36,479.19 L621.40,477.93 L621.44,476.68 L621.48,475.42 L621.52,474.17 L621.55,472.91 L621.59,471.66 L621.62,470.40 L621.66,469.15 L621.69,467.90 L621.72,466.64 L621.76,465.39 L621.79,464.13 L621.82,462.88 L621.86,461.62 L621.89,460.37 L621.92,459.11 L621.96,457.86 L622.00,456.60 L622.03,455.35 L622.07,454.09 L622.11,452.84 L622.15,451.59 L622.19,450.33 L622.23,449.08 L622.27,447.82 L622.31,446.57 L622.35,445.31 L622.39,444.06 L622.43,442.81 L622.47,441.55 L622.50,440.30 L622.54,439.04 L622.58,437.79 L622.62,436.53 L622.66,435.28 L622.69,434.02 L622.73,432.77 L622.76,431.51 L622.79,430.26 L622.83,429.00 L622.86,427.75 L622.89,426.49 L622.92,425.24 L622.95,423.98 L622.97,422.73 L623.00,421.47 L623.03,420.22 L623.06,418.96 L623.09,417.71 L623.12,416.45 L623.15,415.20 L623.18,413.94 L623.21,412.69 L623.24,411.43 L623.27,410.18 L623.31,408.92 L623.35,407.67 L623.38,406.41 L623.42,405.16 L623.46,403.90 L623.51,402.65 L623.55,401.40 L623.60,400.14 L623.65,398.89 L623.71,397.64 L623.76,396.38 L623.82,395.13 L623.88,393.88 L623.95,392.62 L624.02,391.37 L624.09,390.12 L624.17,388.87 L624.25,387.62 L624.33,386.36 L624.42,385.11 L624.51,383.86 L624.60,382.61 L624.70,381.36 L624.80,380.11 L624.90,378.86 L625.00,377.61 L625.11,376.36 L625.22,375.11 L625.32,373.86 L625.43,372.61 L625.55,371.36 L625.66,370.11 L625.77,368.86 L625.89,367.61 L626.01,366.36 L626.12,365.11 L626.24,363.86 L626.36,362.60 L626.47,361.35 L626.59,360.10 L626.71,358.85 L626.82,357.60 L626.94,356.35 L627.06,355.09 L627.17,353.84 L627.28,352.59 L627.40,351.34 L627.51,350.08 L627.62,348.83 L627.74,347.58 L627.85,346.33 L627.96,345.08 L628.07,343.83 L628.17,342.57 L628.28,341.32 L628.39,340.07 L628.49,338.82 L628.60,337.57 L628.70,336.33 L628.80,335.08 L628.90,333.83 L629.00,332.58 L629.10,331.34 L629.19,330.09 L629.29,328.85 L629.38,327.60 L629.47,326.36 L629.56,325.12 L629.66,323.88 L629.75,322.63 L629.84,321.39 L629.93,320.15 L630.02,318.90 L630.12,317.66 L630.21,316.41 L630.31,315.16 L630.41,313.91 L630.51,312.66 L630.62,311.41 L630.72,310.15 L630.83,308.89 L630.95,307.63 L631.07,306.37 L631.19,305.11 L631.31,303.84 L631.45,302.57 L631.58,301.29 L631.72,300.01 L631.87,298.73 L632.01,297.46 L632.16,296.18 L632.32,294.90 L632.47,293.62 L632.63,292.34 L632.79,291.07 L632.95,289.81 L633.10,288.54 L633.26,287.29 L633.42,286.03 L633.58,284.79 L633.74,283.56 L633.89,282.33 L634.04,281.11 L634.19,279.90 L634.33,278.71 L634.48,277.52 L634.61,276.35 L634.75,275.19 L634.88,274.05 L635.01,272.91 L635.14,271.78 L635.28,270.64 L635.44,269.50 L635.61,268.35 L635.81,267.19 L636.03,266.00 L636.27,264.79 L636.55,263.56 L636.87,262.29 L637.23,260.98 L637.63,259.63 L638.09,258.24 L638.59,256.79 L639.15,255.30 L639.76,253.88 L640.37,252.67 L640.98,251.81 L641.55,251.46 L642.08,251.69 L642.57,252.41 L643.02,253.52 L643.43,254.95 L643.82,256.58 L644.18,258.34 L644.52,260.12 L644.85,261.84 L645.17,263.51 L645.47,265.11 L645.76,266.66 L646.04,268.16 L646.31,269.61 L646.56,271.01 L646.81,272.37 L647.05,273.68 L647.28,274.96 L647.50,276.20 L647.72,277.41 L647.92,278.60 L648.13,279.75 L648.32,280.88 L648.51,281.99 L648.70,283.08 L648.88,284.15 L649.06,285.22 L649.24,286.27 L649.42,287.32 L649.59,288.37 L649.77,289.41 L649.94,290.46 L650.12,291.51 L650.29,292.57 L650.47,293.64 L650.65,294.72 L650.84,295.82 L651.02,296.94 L651.21,298.07 L651.41,299.22 L651.60,300.38 L651.80,301.56 L652.00,302.75 L652.21,303.95 L652.41,305.16 L652.62,306.39 L652.83,307.62 L653.05,308.86 L653.26,310.11 L653.48,311.37 L653.70,312.63 L653.92,313.90 L654.14,315.18 L654.37,316.46 L654.59,317.74 L654.82,319.02 L655.05,320.31 L655.28,321.59 L655.51,322.88 L655.74,324.16 L655.97,325.45 L656.20,326.73 L656.43,328.01 L656.67,329.28 L656.90,330.55 L657.14,331.82 L657.37,333.08 L657.61,334.33 L657.84,335.58 L658.08,336.83 L658.31,338.07 L658.55,339.31 L658.79,340.55 L659.02,341.78 L659.26,343.01 L659.50,344.24 L659.74,345.47 L659.98,346.69 L660.22,347.91 L660.46,349.14 L660.69,350.36 L660.93,351.58 L661.17,352.79 L661.41,354.01 L661.66,355.23 L661.90,356.45 L662.14,357.67 L662.38,358.89 L662.62,360.11 L662.86,361.33 L663.11,362.56 L663.35,363.78 L663.59,365.01 L663.84,366.23 L664.08,367.46 L664.33,368.69 L664.57,369.92 L664.82,371.15 L665.07,372.38 L665.31,373.61 L665.56,374.84 L665.81,376.07 L666.06,377.31 L666.31,378.54 L666.57,379.77 L666.82,381.00 L667.07,382.24 L667.33,383.47 L667.58,384.70 L667.84,385.93 L668.10,387.17 L668.36,388.40 L668.62,389.63 L668.88,390.86 L669.15,392.09 L669.41,393.32 L669.68,394.54 L669.95,395.77 L670.22,397.00 L670.49,398.23 L670.77,399.45 L671.04,400.68 L671.32,401.90 L671.60,403.12 L671.88,404.35 L672.17,405.57 L672.46,406.79 L672.75,408.01 L673.04,409.23 L673.34,410.45 L673.64,411.67 L673.94,412.89 L674.25,414.10 L674.56,415.32 L674.87,416.53 L675.18,417.75 L675.50,418.96 L675.83,420.17 L676.15,421.38 L676.48,422.59 L676.82,423.80 L677.16,425.01 L677.50,426.22 L677.85,427.43 L678.20,428.63 L678.55,429.84 L678.91,431.04 L679.28,432.24 L679.64,433.44 L680.02,434.64 L680.40,435.84 L680.78,437.04 L681.16,438.24 L681.56,439.43 L681.95,440.63 L682.35,441.82 L682.76,443.01 L683.16,444.20 L683.58,445.38 L684.00,446.57 L684.42,447.75 L684.84,448.93 L685.28,450.11 L685.71,451.29 L686.15,452.46 L686.60,453.64 L687.04,454.81 L687.50,455.98 L687.96,457.14 L688.42,458.30 L688.88,459.47 L689.35,460.62 L689.83,461.78 L690.31,462.93 L690.79,464.09 L691.28,465.24 L691.76,466.39 L692.25,467.53 L692.74,468.68 L693.24,469.83 L693.73,470.98 L694.23,472.13 L694.72,473.27 L695.21,474.42 L695.71,475.57 L696.20,476.72 L696.69,477.88 L697.18,479.03 L697.67,480.19 L698.15,481.35 L698.64,482.52 L699.11,483.68 L699.59,484.85 L700.06,486.03 L700.52,487.21 L700.98,488.39 L701.44,489.58 L701.89,490.77 L702.34,491.96 L702.79,493.15 L703.26,494.33 L703.75,495.50 L704.27,496.65 L704.83,497.77 L705.43,498.86 L706.09,499.92 L706.80,500.93 L707.58,501.90 L708.41,502.84 L709.28,503.74 L710.18,504.62 L711.10,505.50 L711.19,504.25 L711.28,503.00 L711.36,501.74 L711.45,500.49 L711.53,499.24 L711.62,497.99 L711.70,496.74 L711.78,495.48 L711.86,494.23 L711.93,492.98 L712.01,491.73 L712.07,490.47 L712.14,489.22 L712.20,487.97 L712.26,486.71 L712.32,485.46 L712.37,484.21 L712.42,482.95 L712.47,481.70 L712.52,480.44 L712.56,479.19 L712.60,477.93 L712.64,476.68 L712.68,475.43 L712.72,474.17 L712.75,472.92 L712.79,471.66 L712.82,470.41 L712.86,469.15 L712.89,467.90 L712.92,466.64 L712.96,465.39 L712.99,464.13 L713.02,462.88 L713.06,461.63 L713.09,460.37 L713.12,459.12 L713.16,457.86 L713.20,456.61 L713.23,455.35 L713.27,454.10 L713.31,452.84 L713.35,451.59 L713.39,450.34 L713.43,449.08 L713.47,447.83 L713.51,446.57 L713.55,445.32 L713.59,444.06 L713.63,442.81 L713.67,441.56 L713.70,440.30 L713.74,439.05 L713.78,437.79 L713.82,436.54 L713.86,435.28 L713.89,434.03 L713.93,432.78 L713.96,431.52 L713.99,430.27 L714.03,429.01 L714.06,427.76 L714.09,426.50 L714.12,425.25 L714.14,423.99 L714.17,422.74 L714.20,421.48 L714.23,420.22 L714.26,418.97 L714.29,417.71 L714.32,416.46 L714.35,415.20 L714.38,413.95 L714.41,412.69 L714.44,411.44 L714.47,410.18 L714.51,408.93 L714.54,407.67 L714.58,406.42 L714.62,405.17 L714.66,403.91 L714.71,402.66 L714.75,401.40 L714.80,400.15 L714.85,398.90 L714.90,397.64 L714.96,396.39 L715.02,395.14 L715.08,393.88 L715.15,392.63 L715.22,391.38 L715.29,390.13 L715.37,388.88 L715.45,387.63 L715.53,386.37 L715.62,385.12 L715.71,383.87 L715.81,382.62 L715.90,381.37 L716.00,380.12 L716.10,378.87 L716.21,377.62 L716.31,376.37 L716.42,375.12 L716.53,373.87 L716.64,372.62 L716.75,371.37 L716.86,370.12 L716.98,368.87 L717.09,367.62 L717.21,366.37 L717.33,365.12 L717.44,363.87 L717.56,362.62 L717.67,361.37 L717.79,360.11 L717.90,358.86 L718.02,357.61 L718.13,356.36 L718.25,355.10 L718.36,353.85 L718.47,352.60 L718.59,351.34 L718.70,350.09 L718.81,348.84 L718.92,347.59 L719.03,346.33 L719.14,345.08 L719.25,343.83 L719.35,342.58 L719.46,341.33 L719.57,340.08 L719.67,338.83 L719.78,337.58 L719.88,336.33 L719.99,335.09 L720.09,333.84 L720.19,332.59 L720.29,331.35 L720.39,330.11 L720.49,328.86 L720.59,327.62 L720.69,326.38 L720.79,325.14 L720.88,323.90 L720.98,322.66 L721.08,321.42 L721.18,320.18 L721.27,318.94 L721.37,317.69 L721.47,316.45 L721.57,315.20 L721.67,313.95 L721.77,312.70 L721.87,311.45 L721.98,310.19 L722.08,308.93 L722.19,307.67 L722.30,306.40 L722.41,305.13 L722.52,303.86 L722.64,302.58 L722.76,301.30 L722.87,300.01 L723.00,298.72 L723.12,297.43 L723.25,296.14 L723.38,294.86 L723.51,293.57 L723.65,292.29 L723.79,291.01 L723.93,289.73 L724.08,288.47 L724.23,287.21 L724.39,285.95 L724.54,284.71 L724.71,283.48 L724.87,282.25 L725.04,281.05 L725.22,279.85 L725.40,278.67 L725.58,277.50 L725.77,276.35 L725.97,275.22 L726.17,274.10 L726.37,273.00 L726.58,271.90 L726.80,270.79 L727.03,269.68 L727.26,268.56 L727.50,267.41 L727.75,266.24 L728.02,265.04 L728.29,263.80 L728.57,262.52 L728.87,261.19 L729.17,259.80 L729.49,258.35 L729.83,256.83 L730.17,255.25 L730.53,253.65 L730.90,252.09 L731.27,250.66 L731.64,249.42 L732.01,248.45 L732.38,247.80 L732.73,247.56 L733.08,247.74 L733.41,248.30 L733.73,249.18 L734.04,250.34 L734.35,251.73 L734.64,253.30 L734.93,254.99 L735.21,256.76 L735.48,258.56 L735.75,260.33 L736.01,262.05 L736.27,263.70 L736.52,265.30 L736.77,266.84 L737.01,268.33 L737.25,269.77 L737.49,271.17 L737.72,272.52 L737.94,273.83 L738.17,275.10 L738.39,276.34 L738.61,277.54 L738.82,278.72 L739.03,279.87 L739.24,281.00 L739.45,282.11 L739.66,283.20 L739.86,284.27 L740.07,285.34 L740.27,286.39 L740.47,287.44 L740.67,288.49 L740.87,289.53 L741.07,290.58 L741.27,291.63 L741.47,292.69 L741.67,293.77 L741.87,294.85 L742.08,295.96 L742.28,297.08 L742.48,298.21 L742.69,299.37 L742.89,300.53 L743.10,301.71 L743.31,302.90 L743.52,304.10 L743.73,305.32 L743.94,306.54 L744.15,307.78 L744.36,309.02 L744.58,310.27 L744.79,311.53 L745.01,312.79 L745.22,314.06 L745.44,315.34 L745.66,316.62 L745.88,317.90 L746.10,319.18 L746.32,320.47 L746.54,321.75 L746.77,323.04 L746.99,324.32 L747.22,325.61 L747.44,326.89 L747.67,328.16 L747.90,329.44 L748.13,330.71 L748.36,331.97 L748.59,333.23 L748.82,334.48 L749.06,335.73 L749.29,336.98 L749.53,338.22 L749.76,339.46 L750.00,340.70 L750.23,341.93 L750.47,343.16 L750.71,344.39 L750.95,345.61 L751.19,346.84 L751.43,348.06 L751.67,349.28 L751.91,350.50 L752.15,351.72 L752.39,352.94 L752.64,354.16 L752.88,355.38 L753.12,356.59 L753.36,357.81 L753.61,359.03 L753.85,360.26 L754.09,361.48 L754.34,362.70 L754.58,363.93 L754.82,365.15 L755.07,366.38 L755.31,367.61 L755.56,368.84 L755.80,370.07 L756.05,371.30 L756.30,372.53 L756.54,373.76 L756.79,374.99 L757.04,376.22 L757.29,377.45 L757.54,378.69 L757.79,379.92 L758.05,381.15 L758.30,382.38 L758.56,383.61 L758.81,384.85 L759.07,386.08 L759.33,387.31 L759.59,388.54 L759.85,389.77 L760.11,391.00 L760.38,392.23 L760.65,393.46 L760.91,394.69 L761.18,395.92 L761.46,397.14 L761.73,398.37 L762.01,399.59 L762.28,400.82 L762.56,402.04 L762.85,403.27 L763.13,404.49 L763.42,405.71 L763.71,406.93 L764.00,408.15 L764.30,409.37 L764.59,410.59 L764.89,411.81 L765.20,413.02 L765.50,414.24 L765.81,415.46 L766.13,416.67 L766.44,417.89 L766.76,419.10 L767.08,420.31 L767.41,421.52 L767.74,422.73 L768.07,423.94 L768.41,425.15 L768.75,426.36 L769.09,427.56 L769.44,428.77 L769.79,429.97 L770.15,431.18 L770.51,432.38 L770.87,433.58 L771.24,434.78 L771.61,435.98 L771.99,437.18 L772.37,438.38 L772.76,439.57 L773.15,440.77 L773.55,441.96 L773.95,443.15 L774.36,444.34 L774.77,445.52 L775.18,446.71 L775.61,447.89 L776.03,449.07 L776.47,450.25 L776.90,451.43 L777.35,452.60 L777.80,453.77 L778.25,454.94 L778.71,456.11 L779.18,457.28 L779.65,458.44 L780.13,459.60 L780.62,460.75 L781.11,461.91 L781.61,463.06 L782.11,464.21 L782.62,465.35 L783.13,466.50 L783.65,467.64 L784.17,468.78 L784.70,469.92 L785.24,471.05 L785.77,472.19 L786.31,473.32 L786.86,474.45 L787.41,475.58 L787.96,476.71 L788.51,477.83 L789.07,478.96 L789.63,480.08 L790.20,481.20 L790.76,482.32 L791.33,483.44 L791.90,484.56 L792.47,485.68 L793.04,486.80 L793.62,487.92 L794.19,489.03 L794.77,490.15 L795.35,491.27 L795.92,492.38 L796.50,493.50" fill="none" stroke="#f2393c" stroke-width="4.5" stroke-linejoin="round" stroke-linecap="round"/>
<path d="M71.40,498.20 L73.60,501.00 L73.63,499.75 L73.66,498.49 L73.70,497.24 L73.73,495.98 L73.76,494.73 L73.79,493.47 L73.82,492.22 L73.85,490.96 L73.88,489.71 L73.92,488.45 L73.95,487.20 L73.98,485.94 L74.01,484.69 L74.04,483.43 L74.07,482.18 L74.10,480.92 L74.13,479.67 L74.16,478.42 L74.18,477.16 L74.21,475.91 L74.24,474.65 L74.27,473.40 L74.30,472.14 L74.32,470.89 L74.35,469.63 L74.38,468.38 L74.40,467.12 L74.43,465.87 L74.45,464.61 L74.48,463.36 L74.50,462.10 L74.52,460.85 L74.55,459.59 L74.57,458.34 L74.59,457.08 L74.61,455.83 L74.63,454.57 L74.65,453.32 L74.67,452.06 L74.69,450.81 L74.71,449.55 L74.72,448.30 L74.74,447.05 L74.76,445.79 L74.77,444.54 L74.78,443.28 L74.80,442.03 L74.81,440.77 L74.82,439.52 L74.84,438.26 L74.85,437.01 L74.86,435.75 L74.87,434.50 L74.88,433.24 L74.89,431.99 L74.90,430.73 L74.91,429.48 L74.91,428.22 L74.92,426.97 L74.93,425.71 L74.94,424.46 L74.94,423.20 L74.95,421.95 L74.96,420.69 L74.96,419.44 L74.97,418.18 L74.97,416.92 L74.98,415.67 L74.98,414.41 L74.99,413.16 L74.99,411.90 L74.99,410.65 L75.00,409.39 L75.00,408.14 L75.01,406.88 L75.01,405.63 L75.01,404.37 L75.02,403.12 L75.02,401.86 L75.02,400.61 L75.03,399.35 L75.03,398.10 L75.03,396.84 L75.03,395.59 L75.04,394.33 L75.04,393.08 L75.04,391.82 L75.05,390.57 L75.05,389.31 L75.06,388.06 L75.06,386.80 L75.06,385.55 L75.07,384.29 L75.07,383.04 L75.08,381.78 L75.08,380.53 L75.09,379.27 L75.09,378.02 L75.10,376.76 L75.10,375.51 L75.11,374.25 L75.11,373.00 L75.12,371.74 L75.13,370.49 L75.14,369.23 L75.14,367.98 L75.15,366.72 L75.16,365.47 L75.17,364.21 L75.18,362.96 L75.19,361.70 L75.20,360.45 L75.21,359.19 L75.22,357.94 L75.23,356.68 L75.24,355.43 L75.25,354.17 L75.27,352.92 L75.28,351.66 L75.30,350.41 L75.32,349.15 L75.34,347.90 L75.36,346.64 L75.38,345.39 L75.41,344.13 L75.43,342.88 L75.46,341.62 L75.49,340.37 L75.52,339.11 L75.56,337.86 L75.60,336.61 L75.64,335.35 L75.68,334.10 L75.73,332.84 L75.77,331.59 L75.83,330.33 L75.88,329.08 L75.94,327.83 L76.01,326.57 L76.07,325.32 L76.14,324.07 L76.22,322.81 L76.30,321.56 L76.38,320.31 L76.47,319.06 L76.56,317.80 L76.65,316.55 L76.75,315.30 L76.85,314.05 L76.96,312.80 L77.06,311.54 L77.17,310.29 L77.28,309.04 L77.39,307.79 L77.49,306.54 L77.60,305.29 L77.71,304.05 L77.82,302.80 L77.92,301.55 L78.03,300.30 L78.13,299.05 L78.23,297.81 L78.34,296.56 L78.44,295.31 L78.55,294.07 L78.65,292.82 L78.76,291.57 L78.88,290.32 L78.99,289.08 L79.11,287.83 L79.24,286.58 L79.37,285.33 L79.50,284.09 L79.65,282.84 L79.79,281.59 L79.95,280.34 L80.11,279.09 L80.28,277.83 L80.45,276.58 L80.64,275.33 L80.84,274.07 L81.04,272.82 L81.25,271.56 L81.47,270.31 L81.70,269.06 L81.93,267.81 L82.17,266.57 L82.41,265.32 L82.66,264.09 L82.92,262.85 L83.17,261.62 L83.43,260.40 L83.70,259.19 L83.96,257.98 L84.23,256.78 L84.50,255.59 L84.77,254.41 L85.04,253.24 L85.32,252.07 L85.61,250.91 L85.92,249.74 L86.26,248.58 L86.63,247.41 L87.04,246.23 L87.50,245.04 L88.00,243.84 L88.56,242.62 L89.18,241.39 L89.88,240.13 L90.63,238.87 L91.45,237.62 L92.32,236.41 L93.23,235.28 L94.18,234.25 L95.15,233.34 L96.15,232.58 L97.15,232.01 L98.15,231.63 L99.15,231.49 L100.14,231.60 L101.10,231.97 L102.05,232.55 L102.96,233.32 L103.85,234.26 L104.70,235.33 L105.51,236.50 L106.28,237.75 L107.01,239.05 L107.68,240.36 L108.31,241.66 L108.88,242.94 L109.40,244.21 L109.87,245.45 L110.31,246.68 L110.70,247.90 L111.05,249.11 L111.38,250.31 L111.67,251.50 L111.94,252.68 L112.18,253.86 L112.41,255.04 L112.61,256.21 L112.81,257.39 L112.99,258.57 L113.16,259.75 L113.34,260.95 L113.50,262.14 L113.67,263.35 L113.83,264.56 L113.99,265.78 L114.15,267.00 L114.30,268.23 L114.46,269.46 L114.61,270.70 L114.76,271.94 L114.90,273.18 L115.05,274.43 L115.19,275.68 L115.33,276.94 L115.48,278.20 L115.62,279.46 L115.75,280.72 L115.89,281.98 L116.03,283.25 L116.17,284.51 L116.30,285.78 L116.44,287.05 L116.58,288.31 L116.71,289.58 L116.85,290.85 L116.99,292.11 L117.12,293.38 L117.26,294.64 L117.40,295.90 L117.54,297.16 L117.68,298.42 L117.82,299.68 L117.96,300.93 L118.10,302.18 L118.25,303.44 L118.39,304.69 L118.53,305.93 L118.68,307.18 L118.82,308.43 L118.97,309.68 L119.11,310.92 L119.26,312.17 L119.41,313.41 L119.55,314.65 L119.70,315.89 L119.85,317.14 L120.00,318.38 L120.15,319.62 L120.30,320.86 L120.45,322.10 L120.60,323.34 L120.75,324.58 L120.90,325.82 L121.05,327.07 L121.20,328.31 L121.35,329.55 L121.50,330.79 L121.65,332.04 L121.80,333.28 L121.95,334.52 L122.10,335.77 L122.25,337.01 L122.40,338.26 L122.55,339.50 L122.71,340.75 L122.86,341.99 L123.02,343.24 L123.17,344.48 L123.33,345.73 L123.48,346.98 L123.64,348.22 L123.80,349.47 L123.96,350.71 L124.12,351.96 L124.29,353.21 L124.45,354.45 L124.62,355.70 L124.78,356.94 L124.95,358.19 L125.12,359.43 L125.29,360.68 L125.47,361.92 L125.64,363.16 L125.82,364.41 L126.00,365.65 L126.18,366.89 L126.37,368.13 L126.55,369.38 L126.74,370.62 L126.93,371.86 L127.13,373.10 L127.32,374.34 L127.52,375.58 L127.73,376.82 L127.93,378.05 L128.14,379.29 L128.35,380.53 L128.57,381.76 L128.79,383.00 L129.01,384.23 L129.24,385.47 L129.47,386.70 L129.70,387.93 L129.94,389.17 L130.18,390.40 L130.42,391.63 L130.67,392.86 L130.93,394.09 L131.18,395.32 L131.44,396.54 L131.71,397.77 L131.98,399.00 L132.25,400.22 L132.52,401.45 L132.80,402.67 L133.08,403.89 L133.36,405.12 L133.65,406.34 L133.94,407.56 L134.23,408.78 L134.52,410.00 L134.82,411.22 L135.11,412.44 L135.41,413.66 L135.72,414.88 L136.02,416.10 L136.33,417.32 L136.63,418.54 L136.94,419.75 L137.25,420.97 L137.57,422.18 L137.88,423.40 L138.19,424.62 L138.51,425.83 L138.83,427.04 L139.14,428.26 L139.46,429.47 L139.78,430.69 L140.10,431.90 L140.42,433.11 L140.74,434.32 L141.06,435.54 L141.38,436.75 L141.71,437.96 L142.03,439.17 L142.35,440.38 L142.67,441.60 L143.00,442.81 L143.32,444.02 L143.64,445.23 L143.97,446.44 L144.29,447.66 L144.62,448.87 L144.94,450.08 L145.27,451.29 L145.59,452.51 L145.92,453.72 L146.24,454.93 L146.57,456.15 L146.89,457.36 L147.22,458.57 L147.54,459.79 L147.87,461.00 L148.19,462.22 L148.52,463.44 L148.85,464.65 L149.18,465.87 L149.51,467.08 L149.84,468.29 L150.18,469.51 L150.53,470.72 L150.88,471.93 L151.23,473.13 L151.59,474.34 L151.96,475.54 L152.33,476.74 L152.71,477.94 L153.10,479.13 L153.50,480.32 L153.90,481.51 L154.32,482.69 L154.75,483.87 L155.19,485.04 L155.64,486.21 L156.10,487.38 L156.58,488.53 L157.07,489.69 L157.57,490.84 L158.08,491.98 L158.61,493.12 L159.15,494.25 L159.69,495.38 L160.25,496.51 L160.80,497.63 L161.37,498.76 L161.93,499.88 L162.50,501.00 L162.53,499.74 L162.55,498.49 L162.58,497.23 L162.60,495.98 L162.63,494.72 L162.65,493.47 L162.68,492.21 L162.70,490.96 L162.73,489.70 L162.75,488.45 L162.78,487.19 L162.80,485.93 L162.83,484.68 L162.85,483.42 L162.88,482.17 L162.90,480.91 L162.93,479.66 L162.95,478.40 L162.97,477.15 L163.00,475.89 L163.02,474.64 L163.04,473.38 L163.06,472.13 L163.09,470.87 L163.11,469.61 L163.13,468.36 L163.15,467.10 L163.17,465.85 L163.19,464.59 L163.21,463.34 L163.23,462.08 L163.25,460.83 L163.27,459.57 L163.29,458.31 L163.31,457.06 L163.32,455.80 L163.34,454.55 L163.36,453.29 L163.37,452.04 L163.39,450.78 L163.41,449.53 L163.42,448.27 L163.43,447.01 L163.45,445.76 L163.46,444.50 L163.47,443.25 L163.49,441.99 L163.50,440.74 L163.51,439.48 L163.52,438.23 L163.53,436.97 L163.54,435.71 L163.55,434.46 L163.56,433.20 L163.57,431.95 L163.58,430.69 L163.59,429.44 L163.60,428.18 L163.60,426.93 L163.61,425.67 L163.62,424.41 L163.63,423.16 L163.63,421.90 L163.64,420.65 L163.64,419.39 L163.65,418.14 L163.66,416.88 L163.66,415.62 L163.67,414.37 L163.67,413.11 L163.68,411.86 L163.68,410.60 L163.69,409.35 L163.69,408.09 L163.70,406.83 L163.70,405.58 L163.70,404.32 L163.71,403.07 L163.71,401.81 L163.72,400.56 L163.72,399.30 L163.72,398.05 L163.73,396.79 L163.73,395.53 L163.74,394.28 L163.74,393.02 L163.74,391.77 L163.75,390.51 L163.75,389.26 L163.76,388.00 L163.76,386.74 L163.76,385.49 L163.77,384.23 L163.77,382.98 L163.78,381.72 L163.78,380.47 L163.79,379.21 L163.79,377.95 L163.80,376.70 L163.80,375.44 L163.81,374.19 L163.82,372.93 L163.82,371.68 L163.83,370.42 L163.84,369.17 L163.84,367.91 L163.85,366.65 L163.86,365.40 L163.87,364.14 L163.88,362.89 L163.89,361.63 L163.90,360.38 L163.91,359.12 L163.92,357.86 L163.93,356.61 L163.94,355.35 L163.96,354.10 L163.97,352.84 L163.98,351.59 L164.00,350.33 L164.02,349.08 L164.04,347.82 L164.06,346.56 L164.08,345.31 L164.11,344.05 L164.13,342.80 L164.16,341.54 L164.19,340.29 L164.23,339.03 L164.26,337.78 L164.30,336.52 L164.34,335.27 L164.38,334.01 L164.43,332.76 L164.48,331.50 L164.53,330.25 L164.59,328.99 L164.65,327.74 L164.71,326.49 L164.78,325.23 L164.85,323.98 L164.92,322.72 L165.00,321.47 L165.09,320.22 L165.17,318.96 L165.26,317.71 L165.36,316.46 L165.46,315.21 L165.56,313.95 L165.66,312.70 L165.77,311.45 L165.88,310.20 L165.99,308.95 L166.09,307.70 L166.20,306.45 L166.31,305.20 L166.42,303.95 L166.53,302.70 L166.63,301.45 L166.73,300.20 L166.84,298.95 L166.94,297.70 L167.04,296.46 L167.15,295.21 L167.26,293.96 L167.36,292.71 L167.47,291.47 L167.59,290.22 L167.70,288.97 L167.83,287.72 L167.95,286.48 L168.08,285.23 L168.22,283.98 L168.36,282.73 L168.51,281.48 L168.66,280.23 L168.82,278.97 L168.99,277.72 L169.17,276.47 L169.36,275.21 L169.55,273.96 L169.76,272.70 L169.97,271.45 L170.19,270.20 L170.42,268.95 L170.65,267.70 L170.89,266.45 L171.14,265.21 L171.39,263.97 L171.64,262.74 L171.90,261.51 L172.16,260.29 L172.42,259.07 L172.69,257.86 L172.96,256.66 L173.22,255.47 L173.49,254.29 L173.76,253.12 L174.04,251.95 L174.34,250.79 L174.65,249.63 L175.00,248.46 L175.37,247.29 L175.79,246.11 L176.24,244.92 L176.75,243.72 L177.32,242.50 L177.95,241.26 L178.65,240.00 L179.42,238.73 L180.24,237.49 L181.12,236.29 L182.03,235.17 L182.98,234.15 L183.96,233.25 L184.95,232.51 L185.96,231.95 L186.96,231.60 L187.96,231.49 L188.94,231.63 L189.91,232.02 L190.85,232.63 L191.76,233.42 L192.65,234.37 L193.49,235.46 L194.30,236.64 L195.07,237.90 L195.79,239.20 L196.46,240.51 L197.08,241.81 L197.64,243.09 L198.16,244.35 L198.63,245.60 L199.05,246.83 L199.44,248.04 L199.79,249.25 L200.11,250.45 L200.40,251.64 L200.67,252.82 L200.91,254.00 L201.13,255.18 L201.34,256.35 L201.53,257.53 L201.71,258.71 L201.89,259.90 L202.06,261.09 L202.22,262.29 L202.39,263.50 L202.55,264.71 L202.71,265.93 L202.87,267.15 L203.02,268.38 L203.18,269.62 L203.33,270.85 L203.48,272.10 L203.62,273.34 L203.77,274.59 L203.91,275.84 L204.05,277.10 L204.19,278.36 L204.33,279.62 L204.47,280.88 L204.61,282.15 L204.75,283.41 L204.89,284.68 L205.02,285.95 L205.16,287.21 L205.29,288.48 L205.43,289.75 L205.57,291.02 L205.70,292.28 L205.84,293.55 L205.98,294.81 L206.12,296.07 L206.26,297.33 L206.40,298.59 L206.54,299.85 L206.68,301.10 L206.82,302.36 L206.97,303.61 L207.11,304.86 L207.25,306.11 L207.40,307.36 L207.54,308.60 L207.69,309.85 L207.84,311.10 L207.98,312.34 L208.13,313.59 L208.28,314.83 L208.42,316.07 L208.57,317.32 L208.72,318.56 L208.87,319.80 L209.02,321.04 L209.17,322.28 L209.32,323.52 L209.47,324.77 L209.62,326.01 L209.77,327.25 L209.92,328.49 L210.07,329.73 L210.22,330.98 L210.37,332.22 L210.52,333.47 L210.67,334.71 L210.82,335.95 L210.97,337.20 L211.12,338.45 L211.28,339.69 L211.43,340.94 L211.58,342.18 L211.74,343.43 L211.89,344.68 L212.05,345.92 L212.21,347.17 L212.37,348.42 L212.53,349.66 L212.69,350.91 L212.85,352.16 L213.01,353.40 L213.18,354.65 L213.34,355.89 L213.51,357.14 L213.68,358.39 L213.85,359.63 L214.02,360.88 L214.20,362.12 L214.37,363.36 L214.55,364.61 L214.73,365.85 L214.91,367.09 L215.10,368.34 L215.29,369.58 L215.47,370.82 L215.67,372.06 L215.86,373.30 L216.06,374.54 L216.26,375.78 L216.46,377.02 L216.67,378.26 L216.88,379.50 L217.09,380.73 L217.31,381.97 L217.53,383.21 L217.75,384.44 L217.98,385.68 L218.21,386.91 L218.44,388.15 L218.68,389.38 L218.92,390.61 L219.17,391.84 L219.42,393.07 L219.67,394.30 L219.93,395.53 L220.19,396.76 L220.45,397.99 L220.72,399.21 L220.99,400.44 L221.26,401.67 L221.54,402.89 L221.82,404.12 L222.10,405.34 L222.39,406.56 L222.68,407.79 L222.97,409.01 L223.26,410.23 L223.56,411.45 L223.85,412.67 L224.15,413.89 L224.46,415.11 L224.76,416.33 L225.07,417.55 L225.38,418.77 L225.69,419.98 L226.00,421.20 L226.31,422.42 L226.63,423.63 L226.94,424.85 L227.26,426.06 L227.58,427.27 L227.90,428.49 L228.22,429.70 L228.54,430.91 L228.87,432.13 L229.19,433.34 L229.51,434.55 L229.84,435.76 L230.16,436.97 L230.49,438.18 L230.81,439.39 L231.14,440.60 L231.47,441.81 L231.79,443.03 L232.12,444.24 L232.44,445.45 L232.77,446.66 L233.09,447.87 L233.42,449.09 L233.74,450.30 L234.07,451.51 L234.39,452.73 L234.71,453.94 L235.03,455.16 L235.35,456.38 L235.67,457.59 L235.99,458.81 L236.31,460.03 L236.62,461.25 L236.94,462.47 L237.25,463.70 L237.57,464.92 L237.89,466.14 L238.21,467.36 L238.54,468.58 L238.86,469.80 L239.20,471.02 L239.54,472.23 L239.88,473.44 L240.24,474.65 L240.60,475.86 L240.97,477.06 L241.35,478.26 L241.74,479.45 L242.14,480.64 L242.56,481.82 L242.99,483.00 L243.43,484.17 L243.88,485.34 L244.36,486.50 L244.84,487.65 L245.35,488.80 L245.87,489.93 L246.41,491.06 L246.97,492.19 L247.54,493.30 L248.12,494.41 L248.72,495.52 L249.32,496.62 L249.94,497.72 L250.55,498.81 L251.18,499.91 L251.80,501.00 L251.83,499.75 L251.85,498.49 L251.88,497.24 L251.90,495.99 L251.93,494.74 L251.95,493.48 L251.98,492.23 L252.00,490.98 L252.03,489.72 L252.05,488.47 L252.08,487.22 L252.10,485.97 L252.13,484.71 L252.15,483.46 L252.18,482.21 L252.20,480.95 L252.22,479.70 L252.25,478.45 L252.27,477.20 L252.30,475.94 L252.32,474.69 L252.34,473.44 L252.36,472.18 L252.39,470.93 L252.41,469.68 L252.43,468.43 L252.45,467.17 L252.47,465.92 L252.49,464.67 L252.51,463.41 L252.53,462.16 L252.55,460.91 L252.57,459.66 L252.59,458.40 L252.61,457.15 L252.62,455.90 L252.64,454.64 L252.66,453.39 L252.67,452.14 L252.69,450.89 L252.70,449.63 L252.72,448.38 L252.73,447.13 L252.75,445.87 L252.76,444.62 L252.77,443.37 L252.79,442.11 L252.80,440.86 L252.81,439.61 L252.82,438.36 L252.83,437.10 L252.84,435.85 L252.85,434.60 L252.86,433.34 L252.87,432.09 L252.88,430.84 L252.89,429.58 L252.89,428.33 L252.90,427.08 L252.91,425.83 L252.92,424.57 L252.92,423.32 L252.93,422.07 L252.94,420.81 L252.94,419.56 L252.95,418.31 L252.96,417.05 L252.96,415.80 L252.97,414.55 L252.97,413.29 L252.98,412.04 L252.98,410.79 L252.99,409.54 L252.99,408.28 L253.00,407.03 L253.00,405.78 L253.00,404.52 L253.01,403.27 L253.01,402.02 L253.02,400.76 L253.02,399.51 L253.02,398.26 L253.03,397.00 L253.03,395.75 L253.04,394.50 L253.04,393.25 L253.04,391.99 L253.05,390.74 L253.05,389.49 L253.06,388.23 L253.06,386.98 L253.06,385.73 L253.07,384.47 L253.07,383.22 L253.08,381.97 L253.08,380.71 L253.09,379.46 L253.09,378.21 L253.10,376.96 L253.10,375.70 L253.11,374.45 L253.12,373.20 L253.12,371.94 L253.13,370.69 L253.14,369.44 L253.14,368.18 L253.15,366.93 L253.16,365.68 L253.17,364.43 L253.18,363.17 L253.18,361.92 L253.19,360.67 L253.20,359.41 L253.22,358.16 L253.23,356.91 L253.24,355.65 L253.25,354.40 L253.27,353.15 L253.28,351.89 L253.30,350.64 L253.31,349.39 L253.33,348.14 L253.35,346.88 L253.38,345.63 L253.40,344.38 L253.43,343.12 L253.45,341.87 L253.48,340.62 L253.52,339.37 L253.55,338.11 L253.59,336.86 L253.63,335.61 L253.67,334.36 L253.72,333.10 L253.76,331.85 L253.82,330.60 L253.87,329.35 L253.93,328.10 L253.99,326.85 L254.06,325.59 L254.13,324.34 L254.20,323.09 L254.28,321.84 L254.36,320.59 L254.45,319.34 L254.54,318.09 L254.63,316.84 L254.73,315.59 L254.83,314.34 L254.93,313.09 L255.04,311.84 L255.14,310.59 L255.25,309.34 L255.36,308.09 L255.47,306.85 L255.58,305.60 L255.68,304.35 L255.79,303.10 L255.90,301.86 L256.00,300.61 L256.10,299.37 L256.21,298.12 L256.31,296.88 L256.42,295.63 L256.52,294.39 L256.63,293.15 L256.74,291.90 L256.85,290.66 L256.97,289.41 L257.09,288.17 L257.21,286.92 L257.34,285.68 L257.47,284.43 L257.61,283.18 L257.76,281.93 L257.91,280.69 L258.07,279.44 L258.23,278.18 L258.41,276.93 L258.59,275.68 L258.78,274.43 L258.98,273.17 L259.19,271.92 L259.40,270.66 L259.62,269.41 L259.85,268.16 L260.09,266.92 L260.33,265.67 L260.57,264.44 L260.82,263.20 L261.08,261.98 L261.34,260.75 L261.60,259.54 L261.87,258.33 L262.14,257.14 L262.41,255.95 L262.68,254.77 L262.96,253.60 L263.24,252.44 L263.54,251.29 L263.85,250.13 L264.18,248.98 L264.55,247.82 L264.94,246.64 L265.38,245.46 L265.86,244.26 L266.40,243.04 L266.99,241.81 L267.64,240.54 L268.35,239.26 L269.12,237.98 L269.95,236.74 L270.81,235.56 L271.71,234.48 L272.64,233.52 L273.60,232.72 L274.56,232.09 L275.54,231.68 L276.52,231.50 L277.49,231.59 L278.44,231.94 L279.38,232.51 L280.30,233.28 L281.20,234.21 L282.06,235.28 L282.88,236.46 L283.66,237.72 L284.39,239.02 L285.08,240.34 L285.70,241.65 L286.27,242.94 L286.79,244.21 L287.25,245.46 L287.68,246.69 L288.06,247.91 L288.40,249.12 L288.71,250.32 L288.98,251.51 L289.23,252.69 L289.46,253.87 L289.66,255.05 L289.86,256.22 L290.03,257.40 L290.20,258.58 L290.37,259.76 L290.53,260.95 L290.69,262.15 L290.85,263.35 L291.01,264.56 L291.17,265.77 L291.33,266.99 L291.49,268.22 L291.65,269.45 L291.80,270.68 L291.96,271.92 L292.11,273.16 L292.27,274.40 L292.42,275.65 L292.57,276.91 L292.73,278.16 L292.88,279.42 L293.03,280.68 L293.17,281.94 L293.32,283.20 L293.47,284.46 L293.61,285.73 L293.76,286.99 L293.90,288.26 L294.04,289.52 L294.19,290.79 L294.33,292.05 L294.47,293.31 L294.60,294.57 L294.74,295.83 L294.88,297.09 L295.01,298.35 L295.15,299.60 L295.28,300.86 L295.41,302.11 L295.54,303.36 L295.67,304.61 L295.80,305.86 L295.93,307.11 L296.06,308.35 L296.19,309.60 L296.32,310.85 L296.45,312.09 L296.58,313.33 L296.71,314.58 L296.84,315.82 L296.97,317.06 L297.10,318.30 L297.23,319.54 L297.36,320.78 L297.49,322.03 L297.62,323.27 L297.75,324.51 L297.89,325.75 L298.02,326.99 L298.16,328.23 L298.29,329.47 L298.43,330.71 L298.57,331.96 L298.71,333.20 L298.85,334.44 L298.99,335.69 L299.13,336.93 L299.28,338.17 L299.42,339.42 L299.57,340.66 L299.72,341.90 L299.87,343.15 L300.02,344.39 L300.17,345.64 L300.33,346.88 L300.48,348.13 L300.64,349.37 L300.80,350.62 L300.96,351.86 L301.12,353.10 L301.29,354.35 L301.45,355.59 L301.62,356.83 L301.79,358.08 L301.96,359.32 L302.13,360.56 L302.30,361.80 L302.48,363.04 L302.65,364.29 L302.83,365.53 L303.02,366.77 L303.20,368.01 L303.39,369.25 L303.57,370.49 L303.76,371.72 L303.96,372.96 L304.15,374.20 L304.35,375.44 L304.55,376.67 L304.75,377.91 L304.96,379.15 L305.17,380.38 L305.38,381.62 L305.59,382.85 L305.81,384.08 L306.03,385.32 L306.26,386.55 L306.48,387.78 L306.71,389.01 L306.95,390.25 L307.18,391.48 L307.42,392.71 L307.67,393.94 L307.92,395.17 L308.17,396.39 L308.42,397.62 L308.68,398.85 L308.94,400.08 L309.20,401.30 L309.46,402.53 L309.73,403.75 L310.00,404.98 L310.28,406.20 L310.55,407.43 L310.83,408.65 L311.11,409.87 L311.40,411.09 L311.68,412.31 L311.97,413.53 L312.26,414.75 L312.56,415.97 L312.85,417.19 L313.15,418.40 L313.45,419.62 L313.75,420.84 L314.06,422.05 L314.37,423.27 L314.67,424.48 L314.98,425.69 L315.30,426.91 L315.61,428.12 L315.92,429.33 L316.24,430.54 L316.56,431.75 L316.88,432.96 L317.20,434.16 L317.52,435.37 L317.85,436.58 L318.17,437.79 L318.49,438.99 L318.82,440.20 L319.15,441.41 L319.47,442.62 L319.80,443.82 L320.12,445.03 L320.45,446.24 L320.78,447.45 L321.10,448.66 L321.43,449.87 L321.75,451.08 L322.08,452.29 L322.40,453.51 L322.72,454.72 L323.04,455.94 L323.36,457.15 L323.68,458.37 L323.99,459.59 L324.31,460.82 L324.62,462.04 L324.94,463.26 L325.25,464.49 L325.57,465.71 L325.89,466.94 L326.21,468.16 L326.54,469.38 L326.88,470.60 L327.22,471.81 L327.57,473.02 L327.92,474.23 L328.29,475.44 L328.67,476.64 L329.06,477.83 L329.47,479.02 L329.89,480.20 L330.32,481.37 L330.77,482.54 L331.23,483.69 L331.72,484.84 L332.22,485.98 L332.74,487.12 L333.29,488.24 L333.85,489.35 L334.44,490.44 L335.05,491.53 L335.68,492.61 L336.33,493.68 L337.00,494.74 L337.68,495.79 L338.37,496.84 L339.07,497.88 L339.78,498.92 L340.49,499.96 L341.20,501.00 L341.23,499.75 L341.25,498.49 L341.28,497.24 L341.30,495.99 L341.33,494.73 L341.35,493.48 L341.38,492.23 L341.40,490.97 L341.43,489.72 L341.45,488.47 L341.48,487.21 L341.50,485.96 L341.53,484.71 L341.55,483.45 L341.58,482.20 L341.60,480.94 L341.63,479.69 L341.65,478.44 L341.67,477.18 L341.70,475.93 L341.72,474.68 L341.74,473.42 L341.76,472.17 L341.79,470.92 L341.81,469.66 L341.83,468.41 L341.85,467.16 L341.87,465.90 L341.89,464.65 L341.91,463.40 L341.93,462.14 L341.95,460.89 L341.97,459.64 L341.99,458.38 L342.01,457.13 L342.02,455.88 L342.04,454.62 L342.06,453.37 L342.07,452.11 L342.09,450.86 L342.10,449.61 L342.12,448.35 L342.13,447.10 L342.15,445.85 L342.16,444.59 L342.17,443.34 L342.19,442.09 L342.20,440.83 L342.21,439.58 L342.22,438.32 L342.23,437.07 L342.24,435.82 L342.25,434.56 L342.26,433.31 L342.27,432.06 L342.28,430.80 L342.29,429.55 L342.29,428.30 L342.30,427.04 L342.31,425.79 L342.32,424.53 L342.32,423.28 L342.33,422.03 L342.34,420.77 L342.34,419.52 L342.35,418.27 L342.36,417.01 L342.36,415.76 L342.37,414.51 L342.37,413.25 L342.38,412.00 L342.38,410.74 L342.39,409.49 L342.39,408.24 L342.40,406.98 L342.40,405.73 L342.40,404.48 L342.41,403.22 L342.41,401.97 L342.42,400.72 L342.42,399.46 L342.42,398.21 L342.43,396.95 L342.43,395.70 L342.44,394.45 L342.44,393.19 L342.44,391.94 L342.45,390.69 L342.45,389.43 L342.46,388.18 L342.46,386.92 L342.46,385.67 L342.47,384.42 L342.47,383.16 L342.48,381.91 L342.48,380.66 L342.49,379.40 L342.49,378.15 L342.50,376.90 L342.50,375.64 L342.51,374.39 L342.52,373.13 L342.52,371.88 L342.53,370.63 L342.54,369.37 L342.54,368.12 L342.55,366.87 L342.56,365.61 L342.57,364.36 L342.58,363.11 L342.59,361.85 L342.60,360.60 L342.61,359.34 L342.62,358.09 L342.63,356.84 L342.64,355.58 L342.65,354.33 L342.67,353.08 L342.68,351.82 L342.70,350.57 L342.72,349.32 L342.73,348.06 L342.76,346.81 L342.78,345.55 L342.80,344.30 L342.83,343.05 L342.86,341.79 L342.89,340.54 L342.92,339.29 L342.95,338.03 L342.99,336.78 L343.03,335.53 L343.07,334.28 L343.12,333.02 L343.17,331.77 L343.22,330.52 L343.28,329.27 L343.33,328.01 L343.40,326.76 L343.46,325.51 L343.53,324.26 L343.61,323.01 L343.68,321.75 L343.77,320.50 L343.85,319.25 L343.94,318.00 L344.04,316.75 L344.13,315.50 L344.24,314.25 L344.34,313.00 L344.44,311.75 L344.55,310.50 L344.66,309.25 L344.77,308.00 L344.88,306.75 L344.98,305.50 L345.09,304.26 L345.20,303.01 L345.31,301.76 L345.41,300.52 L345.51,299.27 L345.62,298.03 L345.72,296.78 L345.83,295.54 L345.94,294.29 L346.05,293.05 L346.16,291.81 L346.27,290.56 L346.39,289.32 L346.51,288.07 L346.63,286.83 L346.76,285.58 L346.89,284.33 L347.03,283.08 L347.18,281.83 L347.33,280.58 L347.49,279.33 L347.65,278.08 L347.82,276.83 L348.00,275.57 L348.19,274.31 L348.39,273.06 L348.60,271.80 L348.81,270.54 L349.03,269.29 L349.25,268.04 L349.49,266.79 L349.73,265.54 L349.97,264.30 L350.22,263.07 L350.48,261.84 L350.74,260.62 L351.01,259.41 L351.28,258.21 L351.55,257.01 L351.83,255.83 L352.11,254.66 L352.39,253.50 L352.69,252.35 L352.99,251.20 L353.32,250.05 L353.66,248.90 L354.04,247.74 L354.44,246.57 L354.88,245.38 L355.36,244.18 L355.89,242.95 L356.47,241.69 L357.10,240.40 L357.79,239.10 L358.53,237.79 L359.32,236.53 L360.14,235.34 L361.00,234.26 L361.90,233.31 L362.81,232.52 L363.74,231.94 L364.69,231.59 L365.64,231.50 L366.60,231.69 L367.55,232.13 L368.49,232.79 L369.41,233.63 L370.30,234.63 L371.16,235.76 L371.99,236.99 L372.77,238.28 L373.49,239.60 L374.16,240.93 L374.77,242.24 L375.31,243.52 L375.81,244.79 L376.25,246.04 L376.64,247.27 L376.99,248.49 L377.30,249.70 L377.57,250.90 L377.82,252.09 L378.04,253.27 L378.24,254.45 L378.42,255.62 L378.58,256.80 L378.74,257.98 L378.89,259.16 L379.04,260.35 L379.20,261.54 L379.35,262.74 L379.51,263.94 L379.67,265.15 L379.83,266.37 L379.99,267.59 L380.15,268.82 L380.31,270.05 L380.47,271.29 L380.64,272.53 L380.80,273.77 L380.96,275.02 L381.13,276.27 L381.29,277.52 L381.45,278.78 L381.61,280.03 L381.77,281.29 L381.93,282.55 L382.09,283.82 L382.25,285.08 L382.40,286.34 L382.55,287.61 L382.70,288.87 L382.85,290.14 L383.00,291.40 L383.14,292.67 L383.28,293.93 L383.42,295.19 L383.56,296.45 L383.69,297.71 L383.82,298.97 L383.94,300.22 L384.07,301.48 L384.19,302.73 L384.31,303.99 L384.43,305.24 L384.54,306.49 L384.66,307.74 L384.77,308.98 L384.88,310.23 L385.00,311.48 L385.11,312.72 L385.22,313.97 L385.33,315.22 L385.44,316.46 L385.55,317.70 L385.66,318.95 L385.78,320.19 L385.89,321.44 L386.00,322.68 L386.12,323.92 L386.23,325.16 L386.35,326.41 L386.47,327.65 L386.59,328.89 L386.71,330.14 L386.84,331.38 L386.97,332.63 L387.10,333.87 L387.23,335.12 L387.36,336.36 L387.50,337.61 L387.64,338.85 L387.78,340.10 L387.92,341.34 L388.07,342.59 L388.21,343.83 L388.36,345.08 L388.51,346.32 L388.67,347.57 L388.82,348.81 L388.98,350.06 L389.14,351.31 L389.30,352.55 L389.46,353.79 L389.63,355.04 L389.79,356.28 L389.96,357.53 L390.13,358.77 L390.30,360.01 L390.47,361.25 L390.65,362.50 L390.83,363.74 L391.01,364.98 L391.19,366.22 L391.37,367.46 L391.55,368.70 L391.74,369.94 L391.93,371.18 L392.12,372.42 L392.31,373.66 L392.51,374.90 L392.71,376.13 L392.91,377.37 L393.11,378.61 L393.31,379.84 L393.52,381.08 L393.73,382.32 L393.94,383.55 L394.16,384.79 L394.38,386.02 L394.60,387.26 L394.82,388.49 L395.05,389.72 L395.28,390.96 L395.51,392.19 L395.75,393.42 L395.98,394.65 L396.22,395.89 L396.47,397.12 L396.71,398.35 L396.96,399.58 L397.21,400.81 L397.47,402.04 L397.73,403.27 L397.99,404.49 L398.25,405.72 L398.51,406.95 L398.78,408.17 L399.05,409.40 L399.32,410.62 L399.60,411.85 L399.88,413.07 L400.16,414.29 L400.44,415.52 L400.73,416.74 L401.02,417.96 L401.31,419.18 L401.60,420.40 L401.89,421.61 L402.19,422.83 L402.49,424.04 L402.79,425.26 L403.10,426.47 L403.41,427.69 L403.72,428.90 L404.03,430.11 L404.34,431.32 L404.66,432.53 L404.98,433.73 L405.30,434.94 L405.62,436.15 L405.94,437.35 L406.26,438.56 L406.59,439.77 L406.91,440.97 L407.24,442.18 L407.57,443.39 L407.89,444.59 L408.22,445.80 L408.55,447.01 L408.88,448.22 L409.20,449.43 L409.53,450.64 L409.86,451.86 L410.18,453.07 L410.50,454.29 L410.83,455.50 L411.15,456.72 L411.47,457.95 L411.79,459.17 L412.10,460.40 L412.42,461.63 L412.73,462.86 L413.05,464.09 L413.36,465.32 L413.68,466.55 L414.01,467.78 L414.34,469.00 L414.67,470.23 L415.02,471.45 L415.37,472.67 L415.73,473.88 L416.11,475.08 L416.50,476.28 L416.90,477.48 L417.31,478.66 L417.75,479.84 L418.20,481.01 L418.67,482.17 L419.15,483.31 L419.66,484.45 L420.19,485.58 L420.75,486.69 L421.33,487.79 L421.93,488.87 L422.56,489.94 L423.22,491.00 L423.91,492.04 L424.61,493.06 L425.34,494.08 L426.09,495.09 L426.85,496.09 L427.63,497.08 L428.41,498.06 L429.20,499.04 L430.00,500.02 L430.80,501.00 L430.83,499.75 L430.85,498.49 L430.88,497.24 L430.90,495.98 L430.93,494.73 L430.95,493.47 L430.98,492.22 L431.00,490.96 L431.03,489.71 L431.05,488.45 L431.08,487.20 L431.10,485.94 L431.13,484.69 L431.15,483.43 L431.18,482.18 L431.20,480.92 L431.23,479.67 L431.25,478.42 L431.27,477.16 L431.30,475.91 L431.32,474.65 L431.34,473.40 L431.36,472.14 L431.39,470.89 L431.41,469.63 L431.43,468.38 L431.45,467.12 L431.47,465.87 L431.49,464.61 L431.51,463.36 L431.53,462.10 L431.55,460.85 L431.57,459.59 L431.59,458.34 L431.61,457.08 L431.62,455.83 L431.64,454.57 L431.66,453.32 L431.67,452.06 L431.69,450.81 L431.71,449.56 L431.72,448.30 L431.73,447.05 L431.75,445.79 L431.76,444.54 L431.77,443.28 L431.79,442.03 L431.80,440.77 L431.81,439.52 L431.82,438.26 L431.83,437.01 L431.84,435.75 L431.85,434.50 L431.86,433.24 L431.87,431.99 L431.88,430.73 L431.89,429.48 L431.90,428.22 L431.90,426.97 L431.91,425.71 L431.92,424.46 L431.92,423.20 L431.93,421.95 L431.94,420.69 L431.94,419.44 L431.95,418.18 L431.96,416.93 L431.96,415.67 L431.97,414.42 L431.97,413.16 L431.98,411.91 L431.98,410.65 L431.99,409.40 L431.99,408.14 L432.00,406.89 L432.00,405.63 L432.00,404.38 L432.01,403.12 L432.01,401.87 L432.02,400.61 L432.02,399.36 L432.02,398.10 L432.03,396.85 L432.03,395.59 L432.04,394.34 L432.04,393.08 L432.04,391.83 L432.05,390.57 L432.05,389.32 L432.06,388.06 L432.06,386.81 L432.06,385.55 L432.07,384.30 L432.07,383.04 L432.08,381.79 L432.08,380.53 L432.09,379.28 L432.09,378.02 L432.10,376.77 L432.10,375.51 L432.11,374.26 L432.12,373.00 L432.12,371.75 L432.13,370.49 L432.14,369.24 L432.14,367.99 L432.15,366.73 L432.16,365.48 L432.17,364.22 L432.18,362.97 L432.19,361.71 L432.20,360.46 L432.21,359.20 L432.22,357.95 L432.23,356.69 L432.24,355.44 L432.25,354.18 L432.27,352.93 L432.28,351.67 L432.30,350.42 L432.32,349.16 L432.34,347.91 L432.36,346.65 L432.38,345.40 L432.41,344.14 L432.43,342.89 L432.46,341.63 L432.49,340.38 L432.52,339.12 L432.56,337.87 L432.60,336.62 L432.64,335.36 L432.68,334.11 L432.73,332.85 L432.78,331.60 L432.83,330.35 L432.88,329.09 L432.94,327.84 L433.01,326.58 L433.07,325.33 L433.14,324.08 L433.22,322.83 L433.30,321.57 L433.38,320.32 L433.47,319.07 L433.56,317.81 L433.65,316.56 L433.75,315.31 L433.85,314.06 L433.95,312.81 L434.06,311.55 L434.17,310.30 L434.27,309.05 L434.38,307.80 L434.49,306.55 L434.60,305.30 L434.71,304.06 L434.82,302.81 L434.92,301.56 L435.03,300.32 L435.13,299.07 L435.24,297.83 L435.34,296.58 L435.45,295.34 L435.56,294.09 L435.67,292.85 L435.78,291.60 L435.89,290.35 L436.01,289.11 L436.13,287.86 L436.26,286.62 L436.38,285.37 L436.52,284.12 L436.66,282.87 L436.81,281.62 L436.96,280.36 L437.12,279.11 L437.28,277.86 L437.46,276.60 L437.64,275.34 L437.83,274.08 L438.03,272.82 L438.23,271.56 L438.45,270.30 L438.67,269.04 L438.89,267.79 L439.13,266.54 L439.37,265.29 L439.62,264.05 L439.87,262.82 L440.12,261.59 L440.39,260.37 L440.65,259.16 L440.93,257.96 L441.20,256.77 L441.48,255.59 L441.77,254.43 L442.06,253.28 L442.35,252.13 L442.66,250.99 L442.99,249.85 L443.35,248.70 L443.73,247.54 L444.14,246.36 L444.59,245.17 L445.08,243.95 L445.61,242.71 L446.20,241.43 L446.84,240.12 L447.53,238.78 L448.28,237.46 L449.06,236.19 L449.89,235.00 L450.74,233.92 L451.62,233.01 L452.52,232.28 L453.44,231.77 L454.36,231.52 L455.29,231.56 L456.21,231.89 L457.13,232.46 L458.02,233.25 L458.89,234.22 L459.73,235.34 L460.53,236.57 L461.28,237.89 L461.98,239.24 L462.62,240.61 L463.19,241.96 L463.69,243.28 L464.14,244.58 L464.53,245.86 L464.87,247.11 L465.17,248.35 L465.42,249.58 L465.64,250.79 L465.84,251.99 L466.00,253.18 L466.14,254.36 L466.27,255.55 L466.39,256.73 L466.50,257.91 L466.61,259.09 L466.73,260.28 L466.85,261.47 L466.98,262.67 L467.11,263.88 L467.26,265.09 L467.41,266.31 L467.56,267.53 L467.72,268.75 L467.88,269.99 L468.05,271.22 L468.22,272.46 L468.40,273.70 L468.58,274.95 L468.76,276.20 L468.94,277.45 L469.13,278.70 L469.31,279.96 L469.50,281.22 L469.69,282.48 L469.88,283.74 L470.07,285.00 L470.25,286.27 L470.44,287.53 L470.62,288.79 L470.81,290.06 L470.99,291.32 L471.17,292.58 L471.34,293.84 L471.51,295.10 L471.68,296.36 L471.85,297.62 L472.01,298.88 L472.16,300.13 L472.32,301.38 L472.47,302.64 L472.62,303.89 L472.77,305.14 L472.91,306.38 L473.05,307.63 L473.19,308.88 L473.33,310.13 L473.47,311.37 L473.60,312.62 L473.74,313.86 L473.87,315.10 L474.01,316.35 L474.14,317.59 L474.27,318.83 L474.41,320.08 L474.54,321.32 L474.68,322.56 L474.81,323.80 L474.95,325.04 L475.08,326.29 L475.22,327.53 L475.36,328.77 L475.50,330.01 L475.64,331.26 L475.79,332.50 L475.94,333.74 L476.08,334.99 L476.23,336.23 L476.38,337.48 L476.54,338.72 L476.69,339.97 L476.84,341.21 L477.00,342.46 L477.15,343.70 L477.31,344.95 L477.47,346.19 L477.62,347.44 L477.78,348.69 L477.94,349.93 L478.10,351.18 L478.25,352.43 L478.41,353.67 L478.57,354.92 L478.72,356.17 L478.88,357.41 L479.03,358.66 L479.19,359.91 L479.34,361.15 L479.49,362.40 L479.65,363.65 L479.80,364.89 L479.95,366.14 L480.10,367.38 L480.26,368.63 L480.41,369.88 L480.56,371.12 L480.72,372.37 L480.88,373.61 L481.04,374.86 L481.20,376.10 L481.36,377.34 L481.52,378.59 L481.69,379.83 L481.86,381.07 L482.04,382.32 L482.21,383.56 L482.40,384.80 L482.58,386.04 L482.77,387.28 L482.96,388.52 L483.16,389.76 L483.36,391.00 L483.57,392.24 L483.78,393.48 L484.00,394.71 L484.22,395.95 L484.45,397.18 L484.68,398.42 L484.92,399.65 L485.16,400.89 L485.41,402.12 L485.66,403.35 L485.91,404.58 L486.17,405.81 L486.44,407.04 L486.71,408.26 L486.98,409.49 L487.26,410.72 L487.54,411.94 L487.83,413.16 L488.12,414.38 L488.42,415.60 L488.72,416.82 L489.03,418.04 L489.34,419.26 L489.66,420.47 L489.98,421.69 L490.30,422.90 L490.63,424.11 L490.96,425.32 L491.30,426.53 L491.64,427.74 L491.99,428.94 L492.34,430.14 L492.70,431.35 L493.06,432.55 L493.42,433.74 L493.79,434.94 L494.16,436.14 L494.53,437.33 L494.91,438.53 L495.29,439.72 L495.67,440.92 L496.05,442.11 L496.44,443.30 L496.83,444.49 L497.22,445.69 L497.61,446.88 L498.00,448.07 L498.39,449.26 L498.78,450.46 L499.18,451.65 L499.57,452.84 L499.96,454.04 L500.35,455.23 L500.74,456.43 L501.13,457.63 L501.52,458.82 L501.91,460.02 L502.29,461.22 L502.68,462.43 L503.06,463.63 L503.45,464.83 L503.83,466.03 L504.22,467.24 L504.61,468.44 L505.01,469.63 L505.41,470.83 L505.82,472.02 L506.23,473.22 L506.65,474.40 L507.08,475.59 L507.52,476.77 L507.96,477.94 L508.42,479.11 L508.89,480.27 L509.37,481.43 L509.86,482.58 L510.37,483.73 L510.89,484.87 L511.42,485.99 L511.98,487.12 L512.55,488.23 L513.13,489.33 L513.74,490.43 L514.36,491.51 L515.00,492.59 L515.66,493.65 L516.33,494.72 L517.00,495.77 L517.69,496.82 L518.39,497.87 L519.09,498.92 L519.79,499.96 L520.50,501.00 L520.53,499.75 L520.55,498.49 L520.58,497.24 L520.60,495.99 L520.63,494.73 L520.65,493.48 L520.68,492.23 L520.70,490.97 L520.73,489.72 L520.75,488.47 L520.78,487.21 L520.80,485.96 L520.83,484.71 L520.85,483.45 L520.88,482.20 L520.90,480.95 L520.93,479.70 L520.95,478.44 L520.97,477.19 L521.00,475.94 L521.02,474.68 L521.04,473.43 L521.06,472.18 L521.09,470.92 L521.11,469.67 L521.13,468.42 L521.15,467.16 L521.17,465.91 L521.19,464.66 L521.21,463.40 L521.23,462.15 L521.25,460.90 L521.27,459.64 L521.29,458.39 L521.31,457.14 L521.32,455.88 L521.34,454.63 L521.36,453.38 L521.37,452.12 L521.39,450.87 L521.40,449.62 L521.42,448.36 L521.43,447.11 L521.45,445.86 L521.46,444.60 L521.47,443.35 L521.49,442.10 L521.50,440.84 L521.51,439.59 L521.52,438.34 L521.53,437.08 L521.54,435.83 L521.55,434.58 L521.56,433.32 L521.57,432.07 L521.58,430.82 L521.59,429.56 L521.59,428.31 L521.60,427.05 L521.61,425.80 L521.62,424.55 L521.62,423.29 L521.63,422.04 L521.64,420.79 L521.64,419.53 L521.65,418.28 L521.66,417.03 L521.66,415.77 L521.67,414.52 L521.67,413.27 L521.68,412.01 L521.68,410.76 L521.69,409.51 L521.69,408.25 L521.70,407.00 L521.70,405.75 L521.70,404.49 L521.71,403.24 L521.71,401.99 L521.72,400.73 L521.72,399.48 L521.72,398.23 L521.73,396.97 L521.73,395.72 L521.74,394.46 L521.74,393.21 L521.74,391.96 L521.75,390.70 L521.75,389.45 L521.76,388.20 L521.76,386.94 L521.76,385.69 L521.77,384.44 L521.77,383.18 L521.78,381.93 L521.78,380.68 L521.79,379.42 L521.79,378.17 L521.80,376.92 L521.80,375.66 L521.81,374.41 L521.82,373.16 L521.82,371.90 L521.83,370.65 L521.84,369.40 L521.84,368.14 L521.85,366.89 L521.86,365.64 L521.87,364.38 L521.88,363.13 L521.89,361.88 L521.90,360.62 L521.91,359.37 L521.92,358.11 L521.93,356.86 L521.94,355.61 L521.95,354.35 L521.97,353.10 L521.98,351.85 L522.00,350.59 L522.02,349.34 L522.03,348.09 L522.05,346.83 L522.08,345.58 L522.10,344.33 L522.13,343.07 L522.16,341.82 L522.19,340.57 L522.22,339.32 L522.25,338.06 L522.29,336.81 L522.33,335.56 L522.37,334.30 L522.42,333.05 L522.47,331.80 L522.52,330.55 L522.57,329.30 L522.63,328.04 L522.70,326.79 L522.76,325.54 L522.83,324.29 L522.90,323.04 L522.98,321.78 L523.06,320.53 L523.15,319.28 L523.24,318.03 L523.33,316.78 L523.43,315.53 L523.53,314.28 L523.64,313.03 L523.74,311.78 L523.85,310.53 L523.95,309.28 L524.06,308.03 L524.17,306.78 L524.28,305.53 L524.39,304.29 L524.50,303.04 L524.60,301.80 L524.71,300.55 L524.81,299.31 L524.92,298.07 L525.02,296.82 L525.13,295.58 L525.24,294.34 L525.35,293.09 L525.46,291.85 L525.57,290.61 L525.69,289.36 L525.81,288.12 L525.93,286.87 L526.06,285.62 L526.19,284.38 L526.33,283.13 L526.48,281.88 L526.63,280.63 L526.78,279.38 L526.95,278.12 L527.12,276.87 L527.30,275.61 L527.49,274.35 L527.68,273.09 L527.88,271.83 L528.09,270.57 L528.31,269.31 L528.54,268.06 L528.77,266.80 L529.01,265.56 L529.25,264.32 L529.50,263.08 L529.76,261.85 L530.02,260.64 L530.29,259.43 L530.56,258.23 L530.83,257.04 L531.11,255.86 L531.40,254.70 L531.69,253.55 L531.99,252.41 L532.30,251.27 L532.63,250.13 L532.98,248.99 L533.35,247.84 L533.76,246.67 L534.19,245.48 L534.67,244.27 L535.19,243.03 L535.75,241.76 L536.37,240.44 L537.04,239.10 L537.76,237.76 L538.52,236.46 L539.31,235.23 L540.14,234.12 L541.00,233.16 L541.87,232.38 L542.77,231.83 L543.68,231.54 L544.59,231.54 L545.50,231.83 L546.41,232.38 L547.30,233.15 L548.17,234.12 L549.00,235.23 L549.80,236.47 L550.55,237.78 L551.25,239.15 L551.88,240.53 L552.45,241.88 L552.94,243.21 L553.38,244.52 L553.76,245.80 L554.08,247.06 L554.36,248.31 L554.60,249.53 L554.80,250.75 L554.97,251.95 L555.12,253.14 L555.24,254.33 L555.35,255.51 L555.44,256.69 L555.53,257.87 L555.62,259.05 L555.72,260.24 L555.82,261.43 L555.94,262.63 L556.05,263.84 L556.18,265.05 L556.32,266.26 L556.46,267.48 L556.61,268.71 L556.76,269.94 L556.92,271.17 L557.08,272.41 L557.25,273.66 L557.42,274.90 L557.59,276.15 L557.77,277.40 L557.95,278.65 L558.14,279.91 L558.32,281.17 L558.51,282.43 L558.70,283.69 L558.89,284.95 L559.07,286.21 L559.26,287.47 L559.45,288.74 L559.63,290.00 L559.82,291.26 L560.00,292.52 L560.18,293.78 L560.36,295.04 L560.53,296.30 L560.70,297.55 L560.87,298.81 L561.03,300.06 L561.19,301.31 L561.35,302.56 L561.50,303.81 L561.66,305.06 L561.81,306.30 L561.96,307.55 L562.11,308.79 L562.25,310.04 L562.40,311.28 L562.54,312.52 L562.68,313.77 L562.82,315.01 L562.96,316.25 L563.10,317.49 L563.24,318.73 L563.38,319.97 L563.52,321.21 L563.65,322.45 L563.79,323.69 L563.93,324.93 L564.07,326.17 L564.21,327.41 L564.35,328.65 L564.49,329.89 L564.63,331.13 L564.77,332.38 L564.92,333.62 L565.06,334.86 L565.21,336.10 L565.35,337.35 L565.50,338.59 L565.65,339.84 L565.80,341.08 L565.95,342.32 L566.10,343.57 L566.26,344.81 L566.41,346.06 L566.57,347.30 L566.73,348.55 L566.89,349.79 L567.05,351.04 L567.21,352.28 L567.37,353.53 L567.54,354.77 L567.71,356.01 L567.87,357.26 L568.04,358.50 L568.21,359.74 L568.39,360.99 L568.56,362.23 L568.74,363.47 L568.91,364.71 L569.09,365.95 L569.28,367.19 L569.46,368.43 L569.64,369.67 L569.83,370.91 L570.02,372.15 L570.21,373.39 L570.41,374.63 L570.60,375.87 L570.80,377.10 L571.00,378.34 L571.21,379.58 L571.42,380.81 L571.63,382.05 L571.84,383.28 L572.05,384.52 L572.27,385.75 L572.49,386.99 L572.72,388.22 L572.95,389.45 L573.18,390.68 L573.41,391.92 L573.65,393.15 L573.89,394.38 L574.14,395.61 L574.39,396.84 L574.64,398.06 L574.89,399.29 L575.15,400.52 L575.41,401.75 L575.67,402.97 L575.94,404.20 L576.21,405.42 L576.48,406.65 L576.76,407.87 L577.03,409.09 L577.31,410.32 L577.60,411.54 L577.89,412.76 L578.18,413.98 L578.47,415.20 L578.76,416.42 L579.06,417.63 L579.36,418.85 L579.67,420.07 L579.97,421.28 L580.28,422.50 L580.59,423.71 L580.91,424.93 L581.22,426.14 L581.54,427.35 L581.86,428.56 L582.19,429.77 L582.51,430.98 L582.84,432.19 L583.18,433.40 L583.51,434.60 L583.84,435.81 L584.18,437.01 L584.52,438.22 L584.87,439.42 L585.21,440.63 L585.56,441.83 L585.91,443.03 L586.26,444.24 L586.61,445.44 L586.97,446.64 L587.32,447.84 L587.68,449.04 L588.05,450.24 L588.41,451.44 L588.77,452.64 L589.14,453.84 L589.51,455.04 L589.88,456.24 L590.25,457.44 L590.63,458.64 L591.00,459.84 L591.38,461.04 L591.76,462.24 L592.14,463.44 L592.52,464.64 L592.91,465.84 L593.30,467.03 L593.70,468.23 L594.10,469.42 L594.51,470.61 L594.93,471.80 L595.35,472.98 L595.78,474.16 L596.21,475.34 L596.66,476.52 L597.11,477.69 L597.57,478.85 L598.04,480.01 L598.52,481.17 L599.02,482.32 L599.52,483.47 L600.04,484.61 L600.57,485.74 L601.11,486.87 L601.66,487.99 L602.23,489.11 L602.81,490.21 L603.41,491.31 L604.02,492.41 L604.64,493.49 L605.28,494.58 L605.92,495.65 L606.56,496.73 L607.22,497.80 L607.88,498.87 L608.54,499.93 L609.20,501.00 L609.23,499.75 L609.25,498.49 L609.28,497.24 L609.30,495.98 L609.33,494.73 L609.35,493.48 L609.38,492.22 L609.40,490.97 L609.43,489.71 L609.45,488.46 L609.48,487.21 L609.50,485.95 L609.53,484.70 L609.55,483.44 L609.58,482.19 L609.60,480.94 L609.63,479.68 L609.65,478.43 L609.67,477.17 L609.70,475.92 L609.72,474.66 L609.74,473.41 L609.76,472.16 L609.79,470.90 L609.81,469.65 L609.83,468.39 L609.85,467.14 L609.87,465.89 L609.89,464.63 L609.91,463.38 L609.93,462.12 L609.95,460.87 L609.97,459.62 L609.99,458.36 L610.01,457.11 L610.02,455.85 L610.04,454.60 L610.06,453.34 L610.07,452.09 L610.09,450.84 L610.11,449.58 L610.12,448.33 L610.13,447.07 L610.15,445.82 L610.16,444.57 L610.17,443.31 L610.19,442.06 L610.20,440.80 L610.21,439.55 L610.22,438.29 L610.23,437.04 L610.24,435.79 L610.25,434.53 L610.26,433.28 L610.27,432.02 L610.28,430.77 L610.29,429.51 L610.30,428.26 L610.30,427.01 L610.31,425.75 L610.32,424.50 L610.32,423.24 L610.33,421.99 L610.34,420.73 L610.34,419.48 L610.35,418.23 L610.36,416.97 L610.36,415.72 L610.37,414.46 L610.37,413.21 L610.38,411.95 L610.38,410.70 L610.39,409.45 L610.39,408.19 L610.40,406.94 L610.40,405.68 L610.40,404.43 L610.41,403.17 L610.41,401.92 L610.42,400.67 L610.42,399.41 L610.42,398.16 L610.43,396.90 L610.43,395.65 L610.44,394.39 L610.44,393.14 L610.44,391.89 L610.45,390.63 L610.45,389.38 L610.46,388.12 L610.46,386.87 L610.46,385.62 L610.47,384.36 L610.47,383.11 L610.48,381.85 L610.48,380.60 L610.49,379.34 L610.49,378.09 L610.50,376.84 L610.50,375.58 L610.51,374.33 L610.52,373.07 L610.52,371.82 L610.53,370.56 L610.54,369.31 L610.54,368.06 L610.55,366.80 L610.56,365.55 L610.57,364.29 L610.58,363.04 L610.59,361.78 L610.60,360.53 L610.61,359.28 L610.62,358.02 L610.63,356.77 L610.64,355.51 L610.65,354.26 L610.67,353.00 L610.68,351.75 L610.70,350.50 L610.72,349.24 L610.74,347.99 L610.76,346.73 L610.78,345.48 L610.80,344.22 L610.83,342.97 L610.86,341.72 L610.89,340.46 L610.92,339.21 L610.96,337.96 L610.99,336.70 L611.03,335.45 L611.08,334.20 L611.12,332.94 L611.17,331.69 L611.22,330.44 L611.28,329.18 L611.34,327.93 L611.40,326.68 L611.47,325.42 L611.54,324.17 L611.61,322.92 L611.69,321.67 L611.77,320.41 L611.86,319.16 L611.95,317.91 L612.04,316.66 L612.14,315.41 L612.24,314.15 L612.35,312.90 L612.45,311.65 L612.56,310.40 L612.66,309.15 L612.77,307.90 L612.88,306.66 L612.99,305.41 L613.10,304.16 L613.21,302.91 L613.31,301.67 L613.42,300.42 L613.52,299.18 L613.63,297.93 L613.74,296.69 L613.84,295.45 L613.95,294.20 L614.06,292.96 L614.17,291.72 L614.29,290.47 L614.40,289.23 L614.52,287.98 L614.65,286.73 L614.78,285.49 L614.91,284.24 L615.05,282.99 L615.20,281.74 L615.35,280.49 L615.50,279.23 L615.67,277.98 L615.84,276.72 L616.02,275.46 L616.21,274.20 L616.40,272.94 L616.61,271.67 L616.82,270.41 L617.04,269.15 L617.26,267.90 L617.49,266.64 L617.73,265.40 L617.98,264.16 L618.23,262.92 L618.48,261.69 L618.75,260.47 L619.01,259.27 L619.29,258.07 L619.57,256.88 L619.85,255.71 L620.14,254.55 L620.43,253.40 L620.73,252.27 L621.05,251.13 L621.38,250.00 L621.74,248.86 L622.12,247.70 L622.52,246.53 L622.97,245.34 L623.45,244.12 L623.97,242.87 L624.54,241.59 L625.16,240.26 L625.83,238.90 L626.54,237.55 L627.29,236.24 L628.08,235.02 L628.91,233.92 L629.75,232.99 L630.62,232.25 L631.51,231.74 L632.40,231.51 L633.30,231.59 L634.20,231.95 L635.09,232.58 L635.97,233.42 L636.82,234.44 L637.63,235.61 L638.40,236.89 L639.13,238.24 L639.79,239.62 L640.39,241.01 L640.91,242.37 L641.37,243.70 L641.77,245.01 L642.11,246.29 L642.40,247.55 L642.65,248.79 L642.85,250.02 L643.02,251.23 L643.16,252.43 L643.27,253.62 L643.37,254.81 L643.45,255.99 L643.52,257.17 L643.60,258.35 L643.67,259.53 L643.75,260.72 L643.84,261.92 L643.94,263.12 L644.05,264.33 L644.17,265.55 L644.29,266.77 L644.43,267.99 L644.56,269.22 L644.71,270.45 L644.86,271.69 L645.02,272.93 L645.18,274.18 L645.35,275.43 L645.52,276.68 L645.70,277.93 L645.87,279.19 L646.06,280.45 L646.24,281.71 L646.42,282.97 L646.61,284.23 L646.80,285.50 L646.99,286.76 L647.18,288.02 L647.37,289.29 L647.55,290.55 L647.74,291.81 L647.92,293.08 L648.11,294.34 L648.28,295.60 L648.46,296.85 L648.64,298.11 L648.81,299.36 L648.98,300.61 L649.14,301.87 L649.31,303.12 L649.47,304.36 L649.63,305.61 L649.79,306.86 L649.94,308.10 L650.10,309.35 L650.25,310.59 L650.40,311.83 L650.55,313.07 L650.70,314.32 L650.84,315.56 L650.99,316.80 L651.14,318.04 L651.28,319.28 L651.42,320.52 L651.56,321.76 L651.71,323.00 L651.85,324.24 L651.99,325.48 L652.13,326.72 L652.27,327.96 L652.41,329.20 L652.55,330.45 L652.69,331.69 L652.83,332.93 L652.97,334.18 L653.12,335.42 L653.26,336.67 L653.40,337.91 L653.55,339.16 L653.69,340.40 L653.84,341.65 L653.99,342.89 L654.14,344.14 L654.30,345.39 L654.45,346.63 L654.61,347.88 L654.77,349.12 L654.93,350.37 L655.10,351.61 L655.27,352.86 L655.44,354.10 L655.61,355.34 L655.79,356.59 L655.97,357.83 L656.16,359.07 L656.35,360.31 L656.54,361.55 L656.74,362.79 L656.94,364.03 L657.15,365.27 L657.35,366.50 L657.57,367.74 L657.78,368.97 L658.00,370.21 L658.22,371.44 L658.45,372.68 L658.68,373.91 L658.91,375.14 L659.14,376.38 L659.38,377.61 L659.62,378.84 L659.86,380.07 L660.11,381.30 L660.35,382.53 L660.60,383.76 L660.85,384.99 L661.11,386.22 L661.36,387.44 L661.62,388.67 L661.88,389.90 L662.14,391.13 L662.40,392.36 L662.67,393.58 L662.93,394.81 L663.20,396.04 L663.47,397.26 L663.74,398.49 L664.01,399.71 L664.28,400.94 L664.56,402.16 L664.83,403.39 L665.11,404.61 L665.39,405.84 L665.67,407.06 L665.95,408.28 L666.24,409.50 L666.52,410.73 L666.81,411.95 L667.10,413.17 L667.38,414.39 L667.67,415.61 L667.97,416.83 L668.26,418.05 L668.55,419.27 L668.85,420.49 L669.14,421.70 L669.44,422.92 L669.74,424.14 L670.04,425.36 L670.34,426.57 L670.65,427.79 L670.95,429.00 L671.25,430.22 L671.56,431.43 L671.87,432.64 L672.18,433.85 L672.49,435.07 L672.80,436.28 L673.11,437.49 L673.42,438.70 L673.74,439.91 L674.05,441.12 L674.37,442.33 L674.69,443.54 L675.01,444.76 L675.33,445.97 L675.66,447.18 L675.98,448.39 L676.31,449.60 L676.64,450.81 L676.97,452.02 L677.31,453.23 L677.64,454.45 L677.98,455.66 L678.32,456.87 L678.66,458.09 L679.00,459.30 L679.35,460.51 L679.69,461.73 L680.05,462.95 L680.40,464.16 L680.76,465.37 L681.13,466.59 L681.50,467.80 L681.88,469.00 L682.26,470.21 L682.66,471.41 L683.06,472.61 L683.47,473.80 L683.90,474.99 L684.33,476.17 L684.78,477.34 L685.24,478.51 L685.72,479.68 L686.21,480.83 L686.71,481.98 L687.24,483.11 L687.77,484.24 L688.33,485.36 L688.90,486.47 L689.49,487.57 L690.11,488.66 L690.74,489.73 L691.39,490.80 L692.07,491.85 L692.76,492.89 L693.47,493.93 L694.19,494.95 L694.92,495.97 L695.67,496.98 L696.42,497.99 L697.17,499.00 L697.94,500.00 L698.70,501.00 L698.73,499.75 L698.75,498.49 L698.78,497.24 L698.80,495.98 L698.83,494.73 L698.85,493.47 L698.88,492.22 L698.90,490.96 L698.93,489.71 L698.95,488.45 L698.98,487.20 L699.00,485.94 L699.03,484.69 L699.05,483.43 L699.08,482.18 L699.10,480.92 L699.13,479.67 L699.15,478.41 L699.17,477.16 L699.20,475.90 L699.22,474.65 L699.24,473.39 L699.26,472.14 L699.29,470.88 L699.31,469.63 L699.33,468.37 L699.35,467.12 L699.37,465.86 L699.39,464.61 L699.41,463.35 L699.43,462.10 L699.45,460.84 L699.47,459.59 L699.49,458.33 L699.51,457.08 L699.52,455.82 L699.54,454.57 L699.56,453.31 L699.57,452.06 L699.59,450.80 L699.61,449.54 L699.62,448.29 L699.63,447.03 L699.65,445.78 L699.66,444.52 L699.67,443.27 L699.69,442.01 L699.70,440.76 L699.71,439.50 L699.72,438.25 L699.73,436.99 L699.74,435.74 L699.75,434.48 L699.76,433.23 L699.77,431.97 L699.78,430.72 L699.79,429.46 L699.80,428.21 L699.80,426.95 L699.81,425.70 L699.82,424.44 L699.83,423.19 L699.83,421.93 L699.84,420.68 L699.84,419.42 L699.85,418.17 L699.86,416.91 L699.86,415.66 L699.87,414.40 L699.87,413.15 L699.88,411.89 L699.88,410.63 L699.89,409.38 L699.89,408.12 L699.90,406.87 L699.90,405.61 L699.90,404.36 L699.91,403.10 L699.91,401.85 L699.92,400.59 L699.92,399.34 L699.92,398.08 L699.93,396.83 L699.93,395.57 L699.94,394.32 L699.94,393.06 L699.94,391.81 L699.95,390.55 L699.95,389.30 L699.96,388.04 L699.96,386.79 L699.96,385.53 L699.97,384.28 L699.97,383.02 L699.98,381.77 L699.98,380.51 L699.99,379.26 L699.99,378.00 L700.00,376.75 L700.00,375.49 L700.01,374.23 L700.02,372.98 L700.02,371.72 L700.03,370.47 L700.04,369.21 L700.04,367.96 L700.05,366.70 L700.06,365.45 L700.07,364.19 L700.08,362.94 L700.09,361.68 L700.10,360.43 L700.11,359.17 L700.12,357.92 L700.13,356.66 L700.14,355.41 L700.15,354.15 L700.17,352.90 L700.18,351.64 L700.20,350.39 L700.22,349.13 L700.24,347.88 L700.26,346.62 L700.28,345.37 L700.31,344.11 L700.33,342.86 L700.36,341.60 L700.39,340.35 L700.42,339.09 L700.46,337.84 L700.50,336.58 L700.54,335.33 L700.58,334.07 L700.63,332.82 L700.68,331.57 L700.73,330.31 L700.79,329.06 L700.84,327.80 L700.91,326.55 L700.97,325.30 L701.04,324.04 L701.12,322.79 L701.20,321.54 L701.28,320.28 L701.37,319.03 L701.46,317.78 L701.55,316.52 L701.65,315.27 L701.75,314.02 L701.86,312.77 L701.96,311.52 L702.07,310.26 L702.18,309.01 L702.29,307.76 L702.39,306.51 L702.50,305.27 L702.61,304.02 L702.72,302.77 L702.83,301.52 L702.93,300.28 L703.04,299.03 L703.14,297.79 L703.25,296.54 L703.35,295.30 L703.46,294.05 L703.57,292.81 L703.69,291.56 L703.80,290.32 L703.92,289.07 L704.04,287.83 L704.16,286.58 L704.29,285.33 L704.43,284.08 L704.57,282.83 L704.72,281.58 L704.87,280.33 L705.03,279.07 L705.19,277.81 L705.36,276.56 L705.54,275.30 L705.73,274.03 L705.93,272.77 L706.13,271.51 L706.35,270.24 L706.57,268.98 L706.79,267.73 L707.02,266.47 L707.26,265.23 L707.51,263.98 L707.76,262.75 L708.02,261.52 L708.28,260.31 L708.55,259.10 L708.83,257.90 L709.11,256.72 L709.39,255.54 L709.68,254.39 L709.97,253.24 L710.28,252.10 L710.60,250.97 L710.93,249.83 L711.29,248.69 L711.67,247.53 L712.09,246.36 L712.54,245.16 L713.02,243.94 L713.55,242.68 L714.13,241.39 L714.76,240.05 L715.43,238.69 L716.15,237.34 L716.91,236.05 L717.71,234.84 L718.54,233.77 L719.39,232.86 L720.26,232.15 L721.15,231.69 L722.04,231.50 L722.95,231.63 L723.85,232.04 L724.74,232.70 L725.61,233.57 L726.45,234.62 L727.26,235.81 L728.03,237.10 L728.74,238.46 L729.39,239.85 L729.98,241.24 L730.49,242.59 L730.94,243.92 L731.33,245.22 L731.66,246.50 L731.95,247.76 L732.18,249.00 L732.38,250.23 L732.54,251.44 L732.68,252.64 L732.79,253.83 L732.88,255.01 L732.96,256.20 L733.04,257.38 L733.11,258.56 L733.18,259.74 L733.27,260.94 L733.36,262.13 L733.46,263.34 L733.57,264.55 L733.69,265.77 L733.82,266.99 L733.95,268.21 L734.09,269.44 L734.24,270.68 L734.39,271.92 L734.55,273.16 L734.71,274.41 L734.88,275.66 L735.05,276.91 L735.23,278.17 L735.41,279.43 L735.59,280.69 L735.77,281.95 L735.96,283.21 L736.15,284.47 L736.34,285.74 L736.52,287.00 L736.71,288.27 L736.90,289.53 L737.09,290.80 L737.27,292.06 L737.46,293.32 L737.64,294.59 L737.82,295.85 L738.00,297.10 L738.17,298.36 L738.34,299.61 L738.51,300.87 L738.68,302.12 L738.84,303.37 L739.00,304.62 L739.16,305.87 L739.32,307.11 L739.47,308.36 L739.63,309.60 L739.78,310.85 L739.93,312.09 L740.08,313.33 L740.23,314.58 L740.37,315.82 L740.52,317.06 L740.67,318.30 L740.81,319.54 L740.95,320.78 L741.09,322.02 L741.24,323.27 L741.38,324.51 L741.52,325.75 L741.66,326.99 L741.80,328.23 L741.94,329.47 L742.08,330.72 L742.22,331.96 L742.36,333.21 L742.50,334.45 L742.65,335.70 L742.79,336.94 L742.94,338.19 L743.08,339.43 L743.23,340.68 L743.38,341.93 L743.53,343.17 L743.68,344.42 L743.83,345.67 L743.99,346.91 L744.15,348.16 L744.31,349.41 L744.47,350.65 L744.64,351.90 L744.81,353.14 L744.98,354.39 L745.15,355.63 L745.33,356.88 L745.52,358.12 L745.70,359.36 L745.89,360.60 L746.09,361.84 L746.29,363.08 L746.49,364.32 L746.69,365.56 L746.90,366.80 L747.12,368.04 L747.33,369.27 L747.55,370.51 L747.78,371.75 L748.00,372.98 L748.23,374.21 L748.46,375.45 L748.70,376.68 L748.94,377.91 L749.18,379.15 L749.42,380.38 L749.66,381.61 L749.91,382.84 L750.16,384.07 L750.42,385.30 L750.67,386.53 L750.93,387.76 L751.18,388.98 L751.44,390.21 L751.71,391.44 L751.97,392.67 L752.24,393.89 L752.50,395.12 L752.77,396.34 L753.04,397.57 L753.31,398.80 L753.59,400.02 L753.86,401.25 L754.14,402.47 L754.42,403.69 L754.70,404.92 L754.98,406.14 L755.26,407.36 L755.54,408.59 L755.83,409.81 L756.11,411.03 L756.40,412.25 L756.69,413.47 L756.98,414.70 L757.27,415.92 L757.56,417.14 L757.85,418.36 L758.15,419.58 L758.44,420.80 L758.74,422.02 L759.04,423.24 L759.33,424.46 L759.63,425.68 L759.93,426.90 L760.23,428.12 L760.54,429.34 L760.84,430.55 L761.14,431.77 L761.44,432.99 L761.75,434.21 L762.06,435.43 L762.36,436.64 L762.67,437.86 L762.98,439.08 L763.29,440.29 L763.61,441.51 L763.92,442.72 L764.24,443.94 L764.56,445.15 L764.88,446.37 L765.21,447.58 L765.53,448.79 L765.86,450.00 L766.19,451.21 L766.53,452.42 L766.87,453.63 L767.21,454.84 L767.55,456.05 L767.90,457.25 L768.25,458.46 L768.60,459.66 L768.96,460.86 L769.32,462.07 L769.68,463.27 L770.05,464.47 L770.42,465.67 L770.79,466.86 L771.17,468.06 L771.55,469.26 L771.93,470.45 L772.31,471.65 L772.70,472.84 L773.09,474.03 L773.48,475.23 L773.88,476.42 L774.27,477.61 L774.67,478.80 L775.07,479.99 L775.47,481.18 L775.87,482.37 L776.28,483.56 L776.68,484.75 L777.09,485.93 L777.50,487.12 L777.91,488.31 L778.32,489.50 L778.73,490.68 L779.14,491.87 L779.55,493.06 L779.96,494.24 L780.37,495.43 L780.79,496.61 L781.20,497.80" fill="none" stroke="#000" stroke-width="5.2" stroke-linejoin="round" stroke-linecap="round"/>
<rect x="71.0" y="518.7" width="4.4" height="19.4" fill="#000"/>
<rect x="160.4" y="518.7" width="4.4" height="19.4" fill="#000"/>
<rect x="250.2" y="518.7" width="4.4" height="19.4" fill="#000"/>
<rect x="339.6" y="518.7" width="4.4" height="19.4" fill="#000"/>
<rect x="429.0" y="518.7" width="4.4" height="19.4" fill="#000"/>
<rect x="517.9" y="518.7" width="4.4" height="19.4" fill="#000"/>
<rect x="607.3" y="518.7" width="4.4" height="19.4" fill="#000"/>
<rect x="696.3" y="518.7" width="4.4" height="19.4" fill="#000"/>
<polygon points="36.6,251.9 66.9,280.1 72.7,274.1 73.2,296.7 50.6,297.6 55.7,291.3 26.1,262.9" fill="#4472c4"/>
<polygon points="661.6,251.9 691.9,280.1 697.7,274.1 698.2,296.7 675.6,297.6 680.7,291.3 651.1,262.9" fill="#4472c4"/>
<rect x="799.2" y="203" width="29.5" height="7.5" fill="#000"/>
<rect x="799.2" y="260.8" width="29.5" height="7.5" fill="#ff0000"/>
<text x="844.3" y="219.5" font-size="38" text-anchor="start" font-weight="bold" fill="#000" >Control</text>
<text x="845.5" y="274.5" font-size="38" text-anchor="start" font-weight="bold" fill="#000" >Na<tspan font-size="26.5" dy="7.2">V</tspan><tspan dy="-7.2">1.5 KO</tspan></text>
<path d="M852.2,345.5 V427 H940" fill="none" stroke="#000" stroke-width="4.2"/>
<text x="856.5" y="458.5" font-size="32" text-anchor="start" font-weight="normal" fill="#000" >1 sec</text>
<text x="0" y="0" font-size="31" text-anchor="middle" transform="translate(836,382.5) rotate(-90)">1% ΔF/F</text>
<defs><clipPath id="c1"><ellipse cx="1261" cy="142.2" rx="139.6" ry="136.2"/></clipPath><clipPath id="c2"><ellipse cx="1261" cy="570.5" rx="139.6" ry="136.5"/></clipPath></defs>
<g clip-path="url(#c1)">
<rect x="1110" y="0" width="310" height="290" fill="#2a1589"/>
<polygon points="1160.0,0.0 1170.0,42.0 1186.0,90.0 1192.0,144.0 1188.0,200.0 1180.0,225.0 1170.0,240.0 1160.0,290.0 1420.0,290.0 1420.0,0.0" fill="#3226b9"/>
<polygon points="1237.2,0.0 1237.2,9.0 1247.7,45.0 1256.7,90.0 1259.7,143.8 1250.7,209.7 1232.7,269.6 1230.0,290.0 1420.0,290.0 1420.0,0.0" fill="#3a34e1"/>
<polygon points="1316.6,0.0 1316.6,18.0 1325.6,60.0 1336.1,119.8 1331.6,179.7 1321.1,263.6 1320.0,290.0 1420.0,290.0 1420.0,0.0" fill="#295cd7"/>
</g>
<defs><radialGradient id="rg" gradientUnits="userSpaceOnUse" cx="1090" cy="570.5" r="320" fx="1090" fy="570.5"><stop offset="0" stop-color="#2a1890"/><stop offset="0.0969" stop-color="#2a1890"/><stop offset="0.1290" stop-color="#2e1fb0"/><stop offset="0.1966" stop-color="#3c32e6"/><stop offset="0.2512" stop-color="#2a5ad8"/><stop offset="0.2641" stop-color="#1e7cd8"/><stop offset="0.3220" stop-color="#1890d0"/><stop offset="0.3863" stop-color="#08a0a0"/><stop offset="0.4120" stop-color="#08a888"/><stop offset="0.4249" stop-color="#08b858"/><stop offset="0.4827" stop-color="#00d838"/><stop offset="0.5085" stop-color="#00e010"/><stop offset="0.5471" stop-color="#40e020"/><stop offset="0.5728" stop-color="#80e820"/><stop offset="0.5857" stop-color="#d8f818"/><stop offset="0.6275" stop-color="#e8e010"/><stop offset="0.6757" stop-color="#f0c000"/><stop offset="0.7336" stop-color="#f09010"/><stop offset="0.7464" stop-color="#f07810"/><stop offset="0.8043" stop-color="#e05010"/><stop offset="0.8525" stop-color="#f03010"/><stop offset="0.9008" stop-color="#ff1010"/></radialGradient>
<linearGradient id="lg" x1="0" y1="0" x2="1" y2="0"><stop offset="0.0000" stop-color="#2a1890"/><stop offset="0.0400" stop-color="#2e1fb0"/><stop offset="0.1240" stop-color="#3c32e6"/><stop offset="0.1920" stop-color="#2a5ad8"/><stop offset="0.2080" stop-color="#1e7cd8"/><stop offset="0.2800" stop-color="#1890d0"/><stop offset="0.3600" stop-color="#08a0a0"/><stop offset="0.3920" stop-color="#08a888"/><stop offset="0.4080" stop-color="#08b858"/><stop offset="0.4800" stop-color="#00d838"/><stop offset="0.5120" stop-color="#00e010"/><stop offset="0.5600" stop-color="#40e020"/><stop offset="0.5920" stop-color="#80e820"/><stop offset="0.6080" stop-color="#d8f818"/><stop offset="0.6600" stop-color="#e8e010"/><stop offset="0.7200" stop-color="#f0c000"/><stop offset="0.7920" stop-color="#f09010"/><stop offset="0.8080" stop-color="#f07810"/><stop offset="0.8800" stop-color="#e05010"/><stop offset="0.9400" stop-color="#f03010"/><stop offset="1.0000" stop-color="#ff1010"/></linearGradient></defs>
<g clip-path="url(#c2)">
<rect x="1115" y="428" width="295" height="285" fill="#2a1890"/>
<path d="M1069.3,434 Q1124.2,504.0 1124.2,574 Q1124.2,644.0 1039.9,714 L1420,714 L1420,434 Z" fill="#2b1a98"/>
<path d="M1071.5,434 Q1126.4,504.0 1126.4,574 Q1126.4,644.0 1042.1,714 L1420,714 L1420,434 Z" fill="#2c1ca0"/>
<path d="M1073.7,434 Q1128.6,504.0 1128.6,574 Q1128.6,644.0 1044.3,714 L1420,714 L1420,434 Z" fill="#2d1da8"/>
<path d="M1075.9,434 Q1130.8,504.0 1130.8,574 Q1130.8,644.0 1046.5,714 L1420,714 L1420,434 Z" fill="#2e1fb0"/>
<path d="M1078.1,434 Q1133.0,504.0 1133.0,574 Q1133.0,644.0 1048.7,714 L1420,714 L1420,434 Z" fill="#3021b6"/>
<path d="M1080.3,434 Q1135.2,504.0 1135.2,574 Q1135.2,644.0 1050.9,714 L1420,714 L1420,434 Z" fill="#3124bd"/>
<path d="M1082.5,434 Q1137.4,504.0 1137.4,574 Q1137.4,644.0 1053.1,714 L1420,714 L1420,434 Z" fill="#3326c3"/>
<path d="M1084.7,434 Q1139.6,504.0 1139.6,574 Q1139.6,644.0 1055.3,714 L1420,714 L1420,434 Z" fill="#3528ca"/>
<path d="M1086.9,434 Q1141.8,504.0 1141.8,574 Q1141.8,644.0 1057.5,714 L1420,714 L1420,434 Z" fill="#362ad0"/>
<path d="M1089.1,434 Q1144.0,504.0 1144.0,574 Q1144.0,644.0 1059.7,714 L1420,714 L1420,434 Z" fill="#382dd7"/>
<path d="M1091.5,434 Q1146.4,504.0 1146.4,574 Q1146.4,644.0 1062.1,714 L1420,714 L1420,434 Z" fill="#3a2fdd"/>
<path d="M1093.9,434 Q1148.8,504.0 1148.8,574 Q1148.8,644.0 1064.5,714 L1420,714 L1420,434 Z" fill="#3b31e3"/>
<path d="M1096.2,434 Q1151.1,504.0 1151.1,574 Q1151.1,644.0 1066.8,714 L1420,714 L1420,434 Z" fill="#3a36e5"/>
<path d="M1098.6,434 Q1153.5,504.0 1153.5,574 Q1153.5,644.0 1069.2,714 L1420,714 L1420,434 Z" fill="#383be3"/>
<path d="M1101.0,434 Q1155.9,504.0 1155.9,574 Q1155.9,644.0 1071.6,714 L1420,714 L1420,434 Z" fill="#3541e1"/>
<path d="M1103.4,434 Q1158.2,504.0 1158.2,574 Q1158.2,644.0 1074.0,714 L1420,714 L1420,434 Z" fill="#3247df"/>
<path d="M1105.7,434 Q1160.6,504.0 1160.6,574 Q1160.6,644.0 1076.3,714 L1420,714 L1420,434 Z" fill="#304ddd"/>
<path d="M1108.1,434 Q1163.0,504.0 1163.0,574 Q1163.0,644.0 1078.7,714 L1420,714 L1420,434 Z" fill="#2d53da"/>
<path d="M1112.1,434 Q1167.0,504.0 1167.0,574 Q1167.0,644.0 1082.7,714 L1420,714 L1420,434 Z" fill="#2b59d8"/>
<path d="M1116.1,434 Q1171.0,504.0 1171.0,574 Q1171.0,644.0 1086.7,714 L1420,714 L1420,434 Z" fill="#246bd8"/>
<path d="M1120.1,434 Q1175.0,504.0 1175.0,574 Q1175.0,644.0 1090.7,714 L1420,714 L1420,434 Z" fill="#1e7dd8"/>
<path d="M1124.1,434 Q1179.0,504.0 1179.0,574 Q1179.0,644.0 1094.7,714 L1420,714 L1420,434 Z" fill="#1d7fd7"/>
<path d="M1126.2,434 Q1181.1,504.0 1181.1,574 Q1181.1,644.0 1096.8,714 L1420,714 L1420,434 Z" fill="#1c82d6"/>
<path d="M1128.4,434 Q1183.2,504.0 1183.2,574 Q1183.2,644.0 1099.0,714 L1420,714 L1420,434 Z" fill="#1b85d4"/>
<path d="M1130.5,434 Q1185.4,504.0 1185.4,574 Q1185.4,644.0 1101.1,714 L1420,714 L1420,434 Z" fill="#1a88d3"/>
<path d="M1132.6,434 Q1187.5,504.0 1187.5,574 Q1187.5,644.0 1103.2,714 L1420,714 L1420,434 Z" fill="#1a8ad2"/>
<path d="M1134.7,434 Q1189.6,504.0 1189.6,574 Q1189.6,644.0 1105.3,714 L1420,714 L1420,434 Z" fill="#198dd1"/>
<path d="M1136.9,434 Q1191.8,504.0 1191.8,574 Q1191.8,644.0 1107.5,714 L1420,714 L1420,434 Z" fill="#1890d0"/>
<path d="M1139.0,434 Q1193.9,504.0 1193.9,574 Q1193.9,644.0 1109.6,714 L1420,714 L1420,434 Z" fill="#1692ca"/>
<path d="M1141.1,434 Q1196.0,504.0 1196.0,574 Q1196.0,644.0 1111.7,714 L1420,714 L1420,434 Z" fill="#1494c4"/>
<path d="M1143.6,434 Q1198.5,504.0 1198.5,574 Q1198.5,644.0 1114.2,714 L1420,714 L1420,434 Z" fill="#1296be"/>
<path d="M1146.1,434 Q1201.0,504.0 1201.0,574 Q1201.0,644.0 1116.7,714 L1420,714 L1420,434 Z" fill="#1098b8"/>
<path d="M1148.6,434 Q1203.5,504.0 1203.5,574 Q1203.5,644.0 1119.2,714 L1420,714 L1420,434 Z" fill="#0e9ab2"/>
<path d="M1151.1,434 Q1206.0,504.0 1206.0,574 Q1206.0,644.0 1121.7,714 L1420,714 L1420,434 Z" fill="#0c9cac"/>
<path d="M1153.6,434 Q1208.5,504.0 1208.5,574 Q1208.5,644.0 1124.2,714 L1420,714 L1420,434 Z" fill="#0a9ea6"/>
<path d="M1156.1,434 Q1211.0,504.0 1211.0,574 Q1211.0,644.0 1126.7,714 L1420,714 L1420,434 Z" fill="#08a0a0"/>
<path d="M1158.6,434 Q1213.5,504.0 1213.5,574 Q1213.5,644.0 1129.2,714 L1420,714 L1420,434 Z" fill="#08a298"/>
<path d="M1161.1,434 Q1216.0,504.0 1216.0,574 Q1216.0,644.0 1131.7,714 L1420,714 L1420,434 Z" fill="#08a591"/>
<path d="M1163.6,434 Q1218.5,504.0 1218.5,574 Q1218.5,644.0 1134.2,714 L1420,714 L1420,434 Z" fill="#08a88a"/>
<path d="M1166.1,434 Q1221.0,504.0 1221.0,574 Q1221.0,644.0 1136.7,714 L1420,714 L1420,434 Z" fill="#08b070"/>
<path d="M1168.6,434 Q1223.5,504.0 1223.5,574 Q1223.5,644.0 1139.2,714 L1420,714 L1420,434 Z" fill="#08b957"/>
<path d="M1171.1,434 Q1226.0,504.0 1226.0,574 Q1226.0,644.0 1141.7,714 L1420,714 L1420,434 Z" fill="#07bd53"/>
<path d="M1173.6,434 Q1228.5,504.0 1228.5,574 Q1228.5,644.0 1144.2,714 L1420,714 L1420,434 Z" fill="#06c24e"/>
<path d="M1176.1,434 Q1231.0,504.0 1231.0,574 Q1231.0,644.0 1146.7,714 L1420,714 L1420,434 Z" fill="#04c64a"/>
<path d="M1178.6,434 Q1233.5,504.0 1233.5,574 Q1233.5,644.0 1149.2,714 L1420,714 L1420,434 Z" fill="#03cb45"/>
<path d="M1181.1,434 Q1236.0,504.0 1236.0,574 Q1236.0,644.0 1151.7,714 L1420,714 L1420,434 Z" fill="#02cf41"/>
<path d="M1183.6,434 Q1238.5,504.0 1238.5,574 Q1238.5,644.0 1154.2,714 L1420,714 L1420,434 Z" fill="#01d43c"/>
<path d="M1186.1,434 Q1241.0,504.0 1241.0,574 Q1241.0,644.0 1156.7,714 L1420,714 L1420,434 Z" fill="#00d838"/>
<path d="M1188.6,434 Q1243.5,504.0 1243.5,574 Q1243.5,644.0 1159.2,714 L1420,714 L1420,434 Z" fill="#00da2c"/>
<path d="M1191.1,434 Q1246.0,504.0 1246.0,574 Q1246.0,644.0 1161.7,714 L1420,714 L1420,434 Z" fill="#00dd1f"/>
<path d="M1193.8,434 Q1248.7,504.0 1248.7,574 Q1248.7,644.0 1164.4,714 L1420,714 L1420,434 Z" fill="#00e012"/>
<path d="M1196.5,434 Q1251.3,504.0 1251.3,574 Q1251.3,644.0 1167.1,714 L1420,714 L1420,434 Z" fill="#0be013"/>
<path d="M1199.1,434 Q1254.0,504.0 1254.0,574 Q1254.0,644.0 1169.7,714 L1420,714 L1420,434 Z" fill="#18e016"/>
<path d="M1201.8,434 Q1256.7,504.0 1256.7,574 Q1256.7,644.0 1172.4,714 L1420,714 L1420,434 Z" fill="#25e019"/>
<path d="M1204.5,434 Q1259.3,504.0 1259.3,574 Q1259.3,644.0 1175.1,714 L1420,714 L1420,434 Z" fill="#33e01d"/>
<path d="M1207.1,434 Q1262.0,504.0 1262.0,574 Q1262.0,644.0 1177.7,714 L1420,714 L1420,434 Z" fill="#40e020"/>
<path d="M1210.0,434 Q1264.8,504.0 1264.8,574 Q1264.8,644.0 1180.6,714 L1420,714 L1420,434 Z" fill="#54e220"/>
<path d="M1212.8,434 Q1267.7,504.0 1267.7,574 Q1267.7,644.0 1183.4,714 L1420,714 L1420,434 Z" fill="#68e520"/>
<path d="M1215.6,434 Q1270.5,504.0 1270.5,574 Q1270.5,644.0 1186.2,714 L1420,714 L1420,434 Z" fill="#7ce820"/>
<path d="M1218.5,434 Q1273.3,504.0 1273.3,574 Q1273.3,644.0 1189.1,714 L1420,714 L1420,434 Z" fill="#acf01c"/>
<path d="M1221.3,434 Q1276.2,504.0 1276.2,574 Q1276.2,644.0 1191.9,714 L1420,714 L1420,434 Z" fill="#d9f718"/>
<path d="M1224.1,434 Q1279.0,504.0 1279.0,574 Q1279.0,644.0 1194.7,714 L1420,714 L1420,434 Z" fill="#dcf216"/>
<path d="M1227.1,434 Q1281.9,504.0 1281.9,574 Q1281.9,644.0 1197.7,714 L1420,714 L1420,434 Z" fill="#dfee15"/>
<path d="M1230.0,434 Q1284.9,504.0 1284.9,574 Q1284.9,644.0 1200.6,714 L1420,714 L1420,434 Z" fill="#e2e913"/>
<path d="M1232.9,434 Q1287.8,504.0 1287.8,574 Q1287.8,644.0 1203.5,714 L1420,714 L1420,434 Z" fill="#e5e512"/>
<path d="M1235.9,434 Q1290.8,504.0 1290.8,574 Q1290.8,644.0 1206.5,714 L1420,714 L1420,434 Z" fill="#e8e010"/>
<path d="M1238.8,434 Q1293.7,504.0 1293.7,574 Q1293.7,644.0 1209.4,714 L1420,714 L1420,434 Z" fill="#e9db0d"/>
<path d="M1241.8,434 Q1296.6,504.0 1296.6,574 Q1296.6,644.0 1212.4,714 L1420,714 L1420,434 Z" fill="#ebd50b"/>
<path d="M1244.6,434 Q1299.5,504.0 1299.5,574 Q1299.5,644.0 1215.2,714 L1420,714 L1420,434 Z" fill="#ecd008"/>
<path d="M1247.3,434 Q1302.2,504.0 1302.2,574 Q1302.2,644.0 1217.9,714 L1420,714 L1420,434 Z" fill="#edcb05"/>
<path d="M1249.9,434 Q1304.8,504.0 1304.8,574 Q1304.8,644.0 1220.5,714 L1420,714 L1420,434 Z" fill="#efc503"/>
<path d="M1252.6,434 Q1307.4,504.0 1307.4,574 Q1307.4,644.0 1223.2,714 L1420,714 L1420,434 Z" fill="#f0c000"/>
<path d="M1255.2,434 Q1310.1,504.0 1310.1,574 Q1310.1,644.0 1225.8,714 L1420,714 L1420,434 Z" fill="#f0b902"/>
<path d="M1257.8,434 Q1312.7,504.0 1312.7,574 Q1312.7,644.0 1228.4,714 L1420,714 L1420,434 Z" fill="#f0b304"/>
<path d="M1260.5,434 Q1315.4,504.0 1315.4,574 Q1315.4,644.0 1231.1,714 L1420,714 L1420,434 Z" fill="#f0ac07"/>
<path d="M1263.1,434 Q1318.0,504.0 1318.0,574 Q1318.0,644.0 1233.7,714 L1420,714 L1420,434 Z" fill="#f0a509"/>
<path d="M1266.3,434 Q1321.2,504.0 1321.2,574 Q1321.2,644.0 1236.9,714 L1420,714 L1420,434 Z" fill="#f09f0b"/>
<path d="M1269.5,434 Q1324.3,504.0 1324.3,574 Q1324.3,644.0 1240.1,714 L1420,714 L1420,434 Z" fill="#f0980d"/>
<path d="M1272.6,434 Q1327.5,504.0 1327.5,574 Q1327.5,644.0 1243.2,714 L1420,714 L1420,434 Z" fill="#f09110"/>
<path d="M1275.8,434 Q1330.7,504.0 1330.7,574 Q1330.7,644.0 1246.4,714 L1420,714 L1420,434 Z" fill="#f08410"/>
<path d="M1279.0,434 Q1333.8,504.0 1333.8,574 Q1333.8,644.0 1249.6,714 L1420,714 L1420,434 Z" fill="#f07710"/>
<path d="M1282.1,434 Q1337.0,504.0 1337.0,574 Q1337.0,644.0 1252.7,714 L1420,714 L1420,434 Z" fill="#ed7110"/>
<path d="M1285.1,434 Q1339.9,504.0 1339.9,574 Q1339.9,644.0 1255.7,714 L1420,714 L1420,434 Z" fill="#eb6c10"/>
<path d="M1288.0,434 Q1342.9,504.0 1342.9,574 Q1342.9,644.0 1258.6,714 L1420,714 L1420,434 Z" fill="#e96610"/>
<path d="M1290.9,434 Q1345.8,504.0 1345.8,574 Q1345.8,644.0 1261.5,714 L1420,714 L1420,434 Z" fill="#e76110"/>
<path d="M1293.9,434 Q1348.8,504.0 1348.8,574 Q1348.8,644.0 1264.5,714 L1420,714 L1420,434 Z" fill="#e45b10"/>
<path d="M1296.8,434 Q1351.7,504.0 1351.7,574 Q1351.7,644.0 1267.4,714 L1420,714 L1420,434 Z" fill="#e25610"/>
<path d="M1299.8,434 Q1354.6,504.0 1354.6,574 Q1354.6,644.0 1270.4,714 L1420,714 L1420,434 Z" fill="#e05010"/>
<path d="M1302.7,434 Q1357.6,504.0 1357.6,574 Q1357.6,644.0 1273.3,714 L1420,714 L1420,434 Z" fill="#e34b10"/>
<path d="M1305.7,434 Q1360.6,504.0 1360.6,574 Q1360.6,644.0 1276.3,714 L1420,714 L1420,434 Z" fill="#e54510"/>
<path d="M1308.7,434 Q1363.5,504.0 1363.5,574 Q1363.5,644.0 1279.3,714 L1420,714 L1420,434 Z" fill="#e84010"/>
<path d="M1311.6,434 Q1366.5,504.0 1366.5,574 Q1366.5,644.0 1282.2,714 L1420,714 L1420,434 Z" fill="#eb3b10"/>
<path d="M1314.6,434 Q1369.5,504.0 1369.5,574 Q1369.5,644.0 1285.2,714 L1420,714 L1420,434 Z" fill="#ed3510"/>
<path d="M1317.6,434 Q1372.4,504.0 1372.4,574 Q1372.4,644.0 1288.2,714 L1420,714 L1420,434 Z" fill="#f03010"/>
<path d="M1320.5,434 Q1375.4,504.0 1375.4,574 Q1375.4,644.0 1291.1,714 L1420,714 L1420,434 Z" fill="#f22b10"/>
<path d="M1324.3,434 Q1379.2,504.0 1379.2,574 Q1379.2,644.0 1294.9,714 L1420,714 L1420,434 Z" fill="#f52510"/>
<path d="M1328.2,434 Q1383.1,504.0 1383.1,574 Q1383.1,644.0 1298.8,714 L1420,714 L1420,434 Z" fill="#f82010"/>
<path d="M1332.2,434 Q1387.1,504.0 1387.1,574 Q1387.1,644.0 1302.8,714 L1420,714 L1420,434 Z" fill="#fa1b10"/>
<path d="M1336.2,434 Q1391.0,504.0 1391.0,574 Q1391.0,644.0 1306.8,714 L1420,714 L1420,434 Z" fill="#fc1510"/>
<path d="M1340.1,434 Q1395.0,504.0 1395.0,574 Q1395.0,644.0 1310.7,714 L1420,714 L1420,434 Z" fill="#ff1010"/>
</g>
<path d="M1073,140.3 H1082.1 V128 H1091.1 V152 H1101.1 V140.3 H1110" fill="none" stroke="#000" stroke-width="2.3"/>
<rect x="1168" y="139.2" width="10" height="10" fill="none" stroke="#fff" stroke-width="1.6"/>
<path d="M1073,571.3 H1082.1 V559 H1091.1 V583 H1101.1 V571.3 H1110" fill="none" stroke="#000" stroke-width="2.3"/>
<rect x="1168" y="569.2" width="10" height="10" fill="none" stroke="#fff" stroke-width="1.6"/>
<rect x="1367" y="255.60000000000002" width="47" height="5.4" fill="#000"/>
<text x="1390.5" y="278.6" font-size="15" text-anchor="middle" font-weight="normal" fill="#000" >1 mm</text>
<rect x="1367" y="680.9" width="47" height="5.4" fill="#000"/>
<text x="1390.5" y="704.0" font-size="15" text-anchor="middle" font-weight="normal" fill="#000" >1 mm</text>
<rect x="1080.3" y="304.5" width="396.4" height="25.9" fill="url(#lg)" stroke="#111" stroke-width="1.2"/>
<line x1="1159.8" y1="304.5" x2="1159.8" y2="330.4" stroke="#222" stroke-width="1.1"/>
<line x1="1239.6" y1="304.5" x2="1239.6" y2="330.4" stroke="#222" stroke-width="1.1"/>
<line x1="1318.9" y1="304.5" x2="1318.9" y2="330.4" stroke="#222" stroke-width="1.1"/>
<line x1="1398.3" y1="304.5" x2="1398.3" y2="330.4" stroke="#222" stroke-width="1.1"/>
<text x="1083.6" y="364.5" font-size="23.5" text-anchor="middle" font-weight="normal" fill="#000" >0</text>
<text x="1161.0" y="364.5" font-size="23.5" text-anchor="middle" font-weight="normal" fill="#000" >50</text>
<text x="1240.1" y="364.5" font-size="23.5" text-anchor="middle" font-weight="normal" fill="#000" >100</text>
<text x="1319.0" y="364.5" font-size="23.5" text-anchor="middle" font-weight="normal" fill="#000" >150</text>
<text x="1398.4" y="364.5" font-size="23.5" text-anchor="middle" font-weight="normal" fill="#000" >200</text>
<text x="1477.8" y="364.5" font-size="23.5" text-anchor="middle" font-weight="normal" fill="#000" >250</text>
<text x="1280.0" y="412.3" font-size="25.8" text-anchor="middle" font-weight="normal" fill="#000" >Time (ms)</text>
</g></svg></body></html>
